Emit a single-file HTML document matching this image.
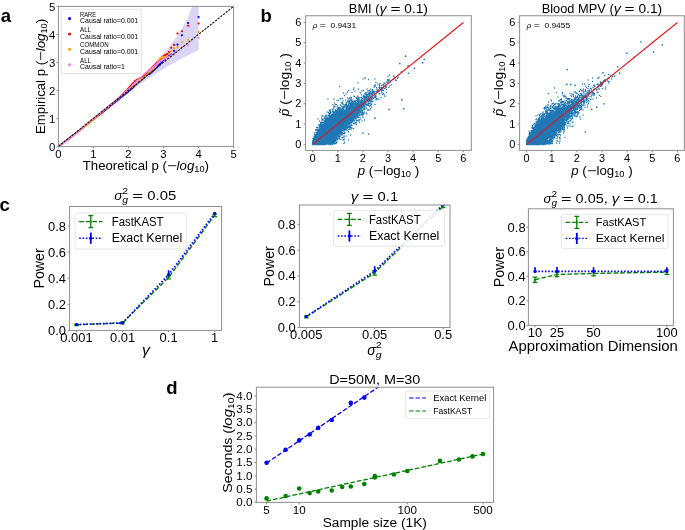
<!DOCTYPE html>
<html><head><meta charset="utf-8"><style>
html,body{margin:0;padding:0;background:#fff;}
svg{display:block;font-family:"Liberation Sans",sans-serif;filter:blur(0.3px);}
</style></head><body>
<svg width="685" height="530" viewBox="0 0 685 530">
<rect width="685" height="530" fill="#fff"/>
<text x="0.8" y="22" font-size="18.5" font-weight="bold">a</text><text x="260.6" y="21.6" font-size="18.5" font-weight="bold">b</text><text x="-0.6" y="211" font-size="18.5" font-weight="bold">c</text><text x="166.2" y="394" font-size="18.5" font-weight="bold">d</text><clipPath id="ca"><rect x="58.4" y="6.4" width="175.2" height="140"/></clipPath><g clip-path="url(#ca)"><path d="M198.56,-10.3 188.01,17.16 181.84,28.56 177.46,35.45 174.07,40.29 171.29,44 168.95,46.98 166.92,49.47 165.12,51.61 163.52,53.47 162.07,55.11 160.75,56.59 159.53,57.93 158.4,59.15 157.35,60.28 156.37,61.32 155.45,62.29 154.58,63.19 153.75,64.04 152.97,64.84 152.23,65.59 151.52,66.31 150.85,66.99 150.2,67.64 149.58,68.26 148.98,68.85 148.41,69.41 147.85,69.96 147.32,70.48 146.8,70.98 146.3,71.46 145.82,71.93 145.35,72.38 144.9,72.82 144.46,73.24 144.03,73.65 143.61,74.05 143.2,74.44 142.81,74.81 142.42,75.17 142.05,75.53 141.68,75.87 141.32,76.21 140.97,76.54 140.63,76.86 140.3,77.17 139.97,77.48 139.65,77.78 139.34,78.07 139.03,78.35 138.73,78.63 138.43,78.91 138.14,79.17 137.86,79.44 137.58,79.69 137.3,79.95 137.03,80.19 136.77,80.44 136.51,80.67 136.25,80.91 136,81.14 135.75,81.36 135.51,81.59 135.27,81.81 135.04,82.02 134.8,82.23 134.57,82.44 134.35,82.64 134.13,82.84 133.91,83.04 133.69,83.24 133.48,83.43 133.27,83.62 133.06,83.81 132.86,83.99 132.66,84.17 132.46,84.35 132.26,84.53 132.07,84.7 131.88,84.87 131.69,85.04 131.5,85.21 131.32,85.38 131.13,85.54 130.95,85.7 130.78,85.86 130.6,86.02 130.43,86.17 130.25,86.33 130.08,86.48 129.92,86.63 129.75,86.78 129.58,86.92 129.42,87.07 129.26,87.21 129.1,87.35 128.94,87.49 128.79,87.63 128.63,87.77 128.48,87.9 128.33,88.04 128.18,88.17 128.03,88.3 127.88,88.43 127.74,88.56 127.59,88.69 127.45,88.81 127.31,88.94 127.17,89.06 127.03,89.18 126.89,89.31 126.76,89.43 126.62,89.55 126.49,89.66 126.35,89.78 126.22,89.9 126.09,90.01 125.96,90.13 125.83,90.24 125.71,90.35 125.58,90.46 125.45,90.57 125.33,90.68 125.21,90.79 125.08,90.89 124.96,91 124.84,91.11 124.72,91.21 124.6,91.31 124.49,91.42 124.37,91.52 124.26,91.62 124.14,91.72 124.03,91.82 123.91,91.92 123.8,92.02 123.69,92.11 123.58,92.21 123.47,92.31 123.36,92.4 123.25,92.5 123.14,92.59 123.04,92.68 122.93,92.78 122.83,92.87 122.72,92.96 122.62,93.05 122.51,93.14 122.41,93.23 122.31,93.32 122.21,93.4 122.11,93.49 122.01,93.58 121.91,93.66 121.81,93.75 121.71,93.83 121.62,93.92 121.52,94 121.42,94.09 121.33,94.17 121.23,94.25 121.14,94.33 121.04,94.41 120.95,94.49 120.86,94.57 120.77,94.65 120.68,94.73 120.59,94.81 120.49,94.89 120.41,94.97 120.32,95.04 120.23,95.12 120.14,95.2 120.05,95.27 119.96,95.35 119.88,95.42 119.79,95.5 119.71,95.57 119.62,95.64 119.54,95.72 119.45,95.79 119.37,95.86 119.28,95.93 119.2,96.01 119.12,96.08 119.04,96.15 118.95,96.22 118.87,96.29 118.79,96.36 118.71,96.43 118.63,96.5 118.55,96.56 118.47,96.63 118.4,96.7 118.32,96.77 118.24,96.83 118.16,96.9 118.08,96.97 118.01,97.03 117.93,97.1 117.86,97.16 117.63,97.36 117.26,97.67 116.97,97.92 116.69,98.16 116.41,98.4 116.07,98.69 115.81,98.92 115.48,99.2 115.22,99.42 114.91,99.69 114.6,99.95 114.29,100.21 114,100.46 113.71,100.71 113.42,100.95 113.14,101.19 112.81,101.47 112.54,101.7 112.23,101.97 111.91,102.23 111.61,102.49 111.31,102.74 111.02,102.99 110.73,103.23 110.45,103.47 110.13,103.75 109.81,104.01 109.55,104.24 109.24,104.49 108.94,104.74 108.65,104.99 108.33,105.27 108.04,105.5 107.73,105.77 107.46,105.99 107.16,106.25 106.86,106.5 106.53,106.77 106.25,107.01 105.93,107.28 105.66,107.51 105.36,107.76 105.06,108.01 104.77,108.25 104.45,108.52 104.14,108.78 103.87,109.01 103.57,109.26 103.25,109.53 102.96,109.77 102.65,110.03 102.37,110.26 102.07,110.51 101.76,110.77 101.47,111.01 101.16,111.27 100.86,111.52 100.57,111.76 100.28,112 99.97,112.26 99.67,112.51 99.38,112.75 99.06,113.01 98.78,113.25 98.48,113.5 98.19,113.74 97.88,114 97.58,114.25 97.28,114.49 96.99,114.74 96.68,114.99 96.39,115.23 96.09,115.48 95.79,115.73 95.49,115.98 95.2,116.22 94.89,116.47 94.59,116.72 94.28,116.97 94,117.21 93.7,117.46 93.39,117.71 93.09,117.96 92.8,118.2 92.5,118.45 92.2,118.7 91.89,118.95 91.59,119.2 91.3,119.44 91,119.69 90.7,119.93 90.4,120.18 90.11,120.42 89.8,120.67 89.51,120.92 89.2,121.16 88.91,121.41 88.6,121.66 88.31,121.9 88.01,122.15 87.71,122.39 87.41,122.64 87.12,122.88 86.82,123.12 86.52,123.37 86.22,123.62 85.92,123.86 85.62,124.11 85.32,124.35 85.02,124.6 84.73,124.84 84.42,125.09 84.13,125.33 83.83,125.58 83.53,125.82 83.23,126.07 82.93,126.31 82.63,126.56 82.33,126.8 82.03,127.05 81.73,127.29 81.43,127.54 81.13,127.78 80.83,128.03 80.54,128.27 80.24,128.52 79.93,128.77 79.64,129.01 79.34,129.25 79.04,129.5 78.74,129.74 78.44,129.98 78.14,130.23 77.84,130.47 77.55,130.72 77.24,130.96 76.95,131.21 76.65,131.45 76.35,131.7 76.05,131.94 75.75,132.18 75.45,132.43 75.15,132.67 74.85,132.92 74.56,133.16 74.25,133.4 73.96,133.65 73.65,133.89 73.36,134.13 73.06,134.38 72.76,134.62 72.46,134.87 72.16,135.11 71.86,135.36 71.56,135.6 71.26,135.84 70.96,136.09 70.66,136.33 70.37,136.57 70.07,136.82 69.77,137.06 69.47,137.31 69.17,137.55 68.87,137.79 68.57,138.04 68.27,138.28 67.97,138.52 67.67,138.77 67.37,139.01 67.07,139.26 66.78,139.5 66.48,139.74 66.18,139.99 65.88,140.23 65.58,140.48 65.28,140.72 64.98,140.96 64.68,141.21 64.38,141.45 64.08,141.69 63.78,141.94 63.49,142.18 63.19,142.43 62.89,142.67 62.59,142.92 62.29,143.16 61.99,143.4 61.69,143.65 61.39,143.9 61.09,144.14 60.79,144.39 60.49,144.63 60.2,144.88 59.9,145.12 59.6,145.37 59.3,145.62 59,145.87 58.7,146.12 58.4,146.4 58.4,146.4 58.7,146.19 59,145.97 59.3,145.74 59.6,145.51 59.9,145.28 60.2,145.05 60.49,144.82 60.79,144.58 61.09,144.35 61.39,144.12 61.69,143.88 61.99,143.65 62.29,143.42 62.59,143.18 62.89,142.95 63.19,142.72 63.49,142.48 63.78,142.25 64.08,142.02 64.38,141.78 64.68,141.55 64.98,141.31 65.28,141.08 65.58,140.85 65.88,140.61 66.18,140.38 66.48,140.14 66.78,139.91 67.07,139.67 67.37,139.44 67.67,139.21 67.97,138.97 68.27,138.74 68.57,138.5 68.87,138.27 69.17,138.03 69.47,137.8 69.77,137.56 70.07,137.33 70.37,137.09 70.66,136.86 70.96,136.63 71.26,136.39 71.56,136.16 71.86,135.92 72.16,135.69 72.46,135.46 72.76,135.22 73.06,134.99 73.36,134.75 73.65,134.52 73.96,134.28 74.25,134.05 74.56,133.81 74.85,133.58 75.15,133.35 75.45,133.11 75.75,132.88 76.05,132.65 76.35,132.41 76.65,132.18 76.95,131.94 77.24,131.71 77.55,131.47 77.84,131.24 78.14,131.01 78.44,130.77 78.74,130.54 79.04,130.31 79.34,130.07 79.64,129.84 79.93,129.61 80.24,129.37 80.54,129.14 80.83,128.91 81.13,128.67 81.43,128.44 81.73,128.2 82.03,127.97 82.33,127.74 82.63,127.5 82.93,127.27 83.23,127.03 83.53,126.8 83.83,126.57 84.13,126.34 84.42,126.11 84.73,125.87 85.02,125.64 85.32,125.41 85.62,125.17 85.92,124.94 86.22,124.7 86.52,124.47 86.82,124.24 87.12,124.01 87.41,123.78 87.71,123.54 88.01,123.32 88.31,123.08 88.6,122.85 88.91,122.62 89.2,122.39 89.51,122.15 89.8,121.92 90.11,121.69 90.4,121.46 90.7,121.22 91,120.99 91.3,120.76 91.59,120.53 91.89,120.3 92.2,120.06 92.5,119.83 92.8,119.6 93.09,119.37 93.39,119.14 93.7,118.9 94,118.67 94.28,118.45 94.59,118.21 94.89,117.98 95.2,117.74 95.49,117.52 95.79,117.29 96.09,117.05 96.39,116.83 96.68,116.6 96.99,116.36 97.28,116.14 97.58,115.91 97.88,115.68 98.19,115.44 98.48,115.21 98.78,114.98 99.06,114.76 99.38,114.52 99.67,114.3 99.97,114.06 100.28,113.83 100.57,113.61 100.86,113.38 101.16,113.15 101.47,112.91 101.76,112.7 102.07,112.45 102.37,112.22 102.65,112.01 102.96,111.77 103.25,111.55 103.57,111.31 103.87,111.08 104.14,110.87 104.45,110.63 104.77,110.39 105.06,110.17 105.36,109.94 105.66,109.71 105.93,109.5 106.25,109.26 106.53,109.04 106.86,108.79 107.16,108.57 107.46,108.34 107.73,108.13 108.04,107.89 108.33,107.68 108.65,107.43 108.94,107.21 109.24,106.98 109.55,106.75 109.81,106.55 110.13,106.31 110.45,106.07 110.73,105.85 111.02,105.64 111.31,105.42 111.61,105.19 111.91,104.96 112.23,104.72 112.54,104.49 112.81,104.28 113.14,104.03 113.42,103.82 113.71,103.61 114,103.39 114.29,103.17 114.6,102.94 114.91,102.71 115.22,102.47 115.48,102.28 115.81,102.03 116.07,101.83 116.41,101.58 116.69,101.37 116.97,101.16 117.26,100.94 117.63,100.66 117.86,100.5 117.93,100.44 118.01,100.38 118.08,100.32 118.16,100.27 118.24,100.21 118.32,100.15 118.4,100.09 118.47,100.03 118.55,99.98 118.63,99.92 118.71,99.86 118.79,99.8 118.87,99.74 118.95,99.68 119.04,99.62 119.12,99.55 119.2,99.49 119.28,99.43 119.37,99.37 119.45,99.31 119.54,99.24 119.62,99.18 119.71,99.12 119.79,99.05 119.88,98.99 119.96,98.92 120.05,98.86 120.14,98.79 120.23,98.73 120.32,98.66 120.41,98.6 120.49,98.53 120.59,98.46 120.68,98.4 120.77,98.33 120.86,98.26 120.95,98.19 121.04,98.12 121.14,98.05 121.23,97.98 121.33,97.91 121.42,97.84 121.52,97.77 121.62,97.7 121.71,97.63 121.81,97.55 121.91,97.48 122.01,97.41 122.11,97.33 122.21,97.26 122.31,97.18 122.41,97.11 122.51,97.03 122.62,96.96 122.72,96.88 122.83,96.8 122.93,96.73 123.04,96.65 123.14,96.57 123.25,96.49 123.36,96.41 123.47,96.33 123.58,96.25 123.69,96.17 123.8,96.08 123.91,96 124.03,95.92 124.14,95.83 124.26,95.75 124.37,95.66 124.49,95.58 124.6,95.49 124.72,95.41 124.84,95.32 124.96,95.23 125.08,95.14 125.21,95.05 125.33,94.96 125.45,94.87 125.58,94.78 125.71,94.68 125.83,94.59 125.96,94.5 126.09,94.4 126.22,94.31 126.35,94.21 126.49,94.11 126.62,94.01 126.76,93.92 126.89,93.82 127.03,93.71 127.17,93.61 127.31,93.51 127.45,93.41 127.59,93.3 127.74,93.2 127.88,93.09 128.03,92.98 128.18,92.88 128.33,92.77 128.48,92.66 128.63,92.55 128.79,92.43 128.94,92.32 129.1,92.21 129.26,92.09 129.42,91.97 129.58,91.86 129.75,91.74 129.92,91.62 130.08,91.49 130.25,91.37 130.43,91.25 130.6,91.12 130.78,90.99 130.95,90.86 131.13,90.73 131.32,90.6 131.5,90.47 131.69,90.34 131.88,90.2 132.07,90.06 132.26,89.92 132.46,89.78 132.66,89.64 132.86,89.49 133.06,89.35 133.27,89.2 133.48,89.05 133.69,88.9 133.91,88.74 134.13,88.58 134.35,88.43 134.57,88.26 134.8,88.1 135.04,87.94 135.27,87.77 135.51,87.6 135.75,87.42 136,87.25 136.25,87.07 136.51,86.89 136.77,86.7 137.03,86.52 137.3,86.33 137.58,86.13 137.86,85.94 138.14,85.73 138.43,85.53 138.73,85.32 139.03,85.11 139.34,84.9 139.65,84.68 139.97,84.45 140.3,84.22 140.63,83.99 140.97,83.75 141.32,83.51 141.68,83.26 142.05,83 142.42,82.74 142.81,82.48 143.2,82.2 143.61,81.92 144.03,81.64 144.46,81.34 144.9,81.04 145.35,80.73 145.82,80.41 146.3,80.08 146.8,79.74 147.32,79.39 147.85,79.03 148.41,78.66 148.98,78.27 149.58,77.87 150.2,77.46 150.85,77.02 151.52,76.58 152.23,76.11 152.97,75.62 153.75,75.11 154.58,74.57 155.45,74.01 156.37,73.41 157.35,72.78 158.4,72.11 159.53,71.39 160.75,70.63 162.07,69.8 163.52,68.91 165.12,67.93 166.92,66.85 168.95,65.64 171.29,64.27 174.07,62.69 177.46,60.8 181.84,58.44 188.01,55.28 198.56,50.27Z" fill="#dcd4f6" stroke="none"/><path d="M58.5 146.25h0M58.5 146.5h0M58.75 146h0M58.75 146.25h0M59 145.75h0M59 146h0M59.25 145.75h0M59.5 145.5h0M59.5 145.75h0M59.75 145.25h0M59.75 145.5h0M60 145h0M60 145.25h0M60.25 145h0M60.5 144.75h0M60.5 145h0M60.75 144.5h0M60.75 144.75h0M61 144.25h0M61 144.5h0M61.25 144h0M61.25 144.25h0M61.5 144h0M61.75 143.75h0M61.75 144h0M62 143.5h0M62 143.75h0M62.25 143.25h0M62.25 143.5h0M62.5 143.25h0M62.75 143h0M62.75 143.25h0M63 142.75h0M63 143h0M63.25 142.5h0M63.25 142.75h0M63.5 142.5h0M63.75 142.25h0M63.75 142.5h0M64 142h0M64 142.25h0M64.25 141.75h0M64.25 142h0M64.5 141.75h0M64.75 141.5h0M65 141.25h0M65 141.5h0M65.25 141h0M65.25 141.25h0M65.5 140.75h0M65.5 141h0M65.75 140.75h0M66 140.5h0M66 140.75h0M66.25 140.25h0M66.25 140.5h0M66.5 140h0M66.5 140.25h0M66.75 140h0M67 139.75h0M67 140h0M67.25 139.5h0M67.25 139.75h0M67.5 139.25h0M67.5 139.5h0M67.75 139.25h0M68 139h0M68 139.25h0M68.25 138.75h0M68.25 139h0M68.5 138.5h0M68.5 138.75h0M68.75 138.25h0M68.75 138.5h0M69 138.25h0M69.25 138h0M69.25 138.25h0M69.5 137.75h0M69.5 138h0M69.75 137.5h0M69.75 137.75h0M70 137.5h0M70.25 137.25h0M70.25 137.5h0M70.5 137h0M70.5 137.25h0M70.75 136.75h0M70.75 137h0M71 136.75h0M71.25 136.5h0M71.25 136.75h0M71.5 136.25h0M71.5 136.5h0M71.75 136h0M71.75 136.25h0M72 135.75h0M72 136h0M72.25 135.75h0M72.5 135.5h0M72.5 135.75h0M72.75 135.25h0M72.75 135.5h0M73 135h0M73 135.25h0M73.25 135h0M73.5 134.75h0M73.5 135h0M73.75 134.5h0M73.75 134.75h0M74 134.25h0M74 134.5h0M74.25 134.25h0M74.5 134h0M74.5 134.25h0M74.75 133.75h0M74.75 134h0M75 133.5h0M75 133.75h0M75.25 133.5h0M75.5 133.25h0M75.5 133.5h0M75.75 133h0M75.75 133.25h0M76 132.75h0M76 133h0M76.25 132.5h0M76.25 132.75h0M76.5 132.5h0M76.75 132.25h0M76.75 132.5h0M77 132h0M77 132.25h0M77.25 131.75h0M77.25 132h0M77.5 131.75h0M77.75 131.5h0M78 131.25h0M78 131.5h0M78.25 131h0M78.25 131.25h0M78.5 130.75h0M78.5 131h0M78.75 130.75h0M79 130.5h0M79 130.75h0M79.25 130.25h0M79.25 130.5h0M79.5 130h0M79.5 130.25h0M79.75 129.75h0M79.75 130h0M80 129.75h0M80.25 129.5h0M80.25 129.75h0M80.5 129.25h0M80.5 129.5h0M80.75 129h0M80.75 129.25h0M81 129h0M81.25 128.75h0M81.25 129h0M81.5 128.5h0M81.5 128.75h0M81.75 128.25h0M81.75 128.5h0M82 128h0M82 128.25h0M82.25 128h0M82.5 127.75h0M82.5 128h0M82.75 127.5h0M82.75 127.75h0M83 127.25h0M83 127.5h0M83.25 127h0M83.25 127.25h0M83.5 127h0M83.75 126.75h0M83.75 127h0M84 126.5h0M84 126.75h0M84.25 126.25h0M84.25 126.5h0M84.5 126.25h0M84.75 126h0M84.75 126.25h0M85 125.75h0M85 126h0M85.25 125.5h0M85.25 125.75h0M85.5 125.25h0M85.5 125.5h0M85.75 125.25h0M86 125h0M86 125.25h0M86.25 124.75h0M86.25 125h0M86.5 124.5h0M86.5 124.75h0M86.75 124.5h0M87 124.25h0M87 124.5h0M87.25 124h0M87.25 124.25h0M87.5 123.75h0M87.5 124h0M87.75 123.5h0M87.75 123.75h0M88 123.5h0M88.25 123.25h0M88.25 123.5h0M88.5 123h0M88.5 123.25h0M88.75 122.75h0M88.75 123h0M89 122.5h0M89 122.75h0M89.25 122.5h0M89.5 122.25h0M89.5 122.5h0M89.75 122h0M89.75 122.25h0M90 121.75h0M90 122h0M90.25 121.75h0M90.5 121.5h0M90.5 121.75h0M90.75 121.25h0M90.75 121.5h0M91 121h0M91 121.25h0M91.25 120.75h0M91.25 121h0M91.5 120.75h0M91.75 120.5h0M91.75 120.75h0M92 120.25h0M92 120.5h0M92.25 120h0M92.25 120.25h0M92.5 120h0M92.75 119.75h0M92.75 120h0M93 119.5h0M93 119.75h0M93.25 119.25h0M93.25 119.5h0M93.5 119h0M93.5 119.25h0M93.75 119h0M94 118.75h0M94 119h0M94.25 118.5h0M94.25 118.75h0M94.5 118.5h0M94.75 118.25h0M94.75 118.5h0M95 118h0M95 118.25h0M95.25 117.75h0M95.25 118h0M95.5 117.75h0M95.75 117.5h0M95.75 117.75h0M96 117.25h0M96 117.5h0M96.25 117.25h0M96.5 117h0M96.75 116.75h0M96.75 117h0M97 116.5h0M97 116.75h0M97.25 116.5h0M97.5 116.25h0M97.5 116.5h0M97.75 116h0M97.75 116.25h0M98 116h0M98.25 115.75h0M98.5 115.5h0M98.5 115.75h0M98.75 115.25h0M98.75 115.5h0M99 115.25h0M99.25 115h0M99.25 115.25h0M99.5 114.75h0M99.5 115h0M99.75 114.75h0M100 114.5h0M100.25 114.25h0M100.25 114.5h0M100.5 114h0M100.5 114.25h0M100.75 113.75h0M100.75 114h0M101 113.75h0M101.25 113.5h0M101.25 113.75h0M101.5 113.25h0M101.5 113.5h0M101.75 113h0M101.75 113.25h0M102 112.75h0M102 113h0M102.25 112.75h0M102.5 112.5h0M102.75 112.25h0M102.75 112.5h0M103 112h0M103 112.25h0M103.25 111.75h0M103.25 112h0M103.5 111.75h0M103.75 111.5h0M104 111.25h0M104 111.5h0M104.25 111h0M104.25 111.25h0M104.5 110.75h0M104.5 111h0M104.75 110.5h0M104.75 110.75h0M105 110.5h0M105.25 110.25h0M105.25 110.5h0M105.5 110h0M105.5 110.25h0M105.75 109.75h0M105.75 110h0M106 109.5h0M106 109.75h0M106.25 109.5h0M106.5 109.25h0M106.5 109.5h0M106.75 109h0M106.75 109.25h0M107 108.75h0M107 109h0M107.25 108.5h0M107.25 108.75h0M107.5 108.5h0M107.75 108.25h0M108 108h0M108 108.25h0M108.25 107.75h0M108.25 108h0M108.5 107.5h0M108.5 107.75h0M108.75 107.5h0M109 107.25h0M109.25 107h0M109.25 107.25h0M109.5 106.75h0M109.5 107h0M109.75 106.5h0M109.75 106.75h0M110 106.5h0M110.25 106.25h0M110.5 106h0M110.5 106.25h0M110.75 105.75h0M110.75 106h0M111 105.5h0M111 105.75h0M111.25 105.25h0M111.25 105.5h0M111.5 105.25h0M111.75 105h0M112 104.75h0M112 105h0M112.25 104.5h0M112.25 104.75h0M112.5 104.25h0M112.5 104.5h0M112.75 104.25h0M113 104h0M113.25 103.75h0M113.25 104h0M113.5 103.5h0M113.5 103.75h0M113.75 103.25h0M113.75 103.5h0M114 103h0M114 103.25h0M114.25 103h0M114.5 102.75h0M114.5 103h0M114.75 102.5h0M114.75 102.75h0M115 102.25h0M115 102.5h0M115.25 102h0M115.25 102.25h0M115.5 102h0M115.75 101.75h0M116 101.5h0M116 101.75h0M116.25 101.25h0M116.25 101.5h0M116.5 101h0M116.5 101.25h0M116.75 101h0M117 100.75h0M117 101h0M117.25 100.5h0M117.25 100.75h0M117.5 100.5h0M117.75 100.25h0M118 100h0M118.25 99.75h0M118.25 100h0M118.5 99.5h0M118.5 99.75h0M118.75 99.25h0M118.75 99.5h0M119 99h0M119 99.25h0M119.25 99h0M119.5 98.75h0M119.75 98.5h0M119.75 98.75h0M120 98.5h0M120.25 98.25h0M120.5 98h0M120.75 97.75h0M121 97.5h0M121.25 97.25h0M121.25 97.5h0M121.5 97h0M121.5 97.25h0M121.75 97h0M122 96.75h0M122.25 96.5h0M122.5 96.25h0M122.5 96.5h0M122.75 96h0M122.75 96.25h0M123 96h0M123.25 95.75h0M123.5 95.5h0M123.75 95.25h0M123.75 95.5h0M124 95.25h0M124.25 94.75h0M124.25 95h0M124.5 94.75h0M124.75 94.5h0M125 94.25h0M125 94.5h0M125.25 94.25h0M125.5 94h0M125.75 93.75h0M126 93.5h0M126 93.75h0M126.25 93.25h0M126.25 93.5h0M126.5 93.25h0M126.75 93h0M127 93h0M127.25 92.75h0M127.5 92.5h0M127.75 92.25h0M128 92h0M128 92.25h0M128.25 91.75h0M128.25 92h0M128.5 91.75h0M128.75 91.5h0M129 91.25h0M129.25 91h0M129.5 90.75h0M129.75 90.5h0M130 90.25h0M130 90.5h0M130.25 90.25h0M130.5 90h0M130.75 89.75h0M131 89.5h0M131.25 89.25h0M131.5 89h0M131.75 89h0M132 88.5h0M132 88.75h0M132.25 88.25h0M132.5 88.25h0M132.75 87.75h0M132.75 88h0M133 87.5h0M133.25 87.5h0M133.5 87.25h0M133.75 87h0M134 86.75h0M134.25 86.5h0M134.5 86.25h0M134.75 86h0M135 85.75h0M135.25 85.5h0M135.5 85.25h0M135.75 85.25h0M136 85h0M136.25 84.75h0M136.5 84.25h0M136.75 84h0M137 84h0M137.25 83.5h0M137.5 83.25h0M137.75 83h0M138.25 82.75h0M138.5 82.5h0M138.75 82.25h0M139 82h0M139.25 81.75h0M139.75 81.75h0M140 81.5h0M140.25 81h0M140.75 80.75h0M141 80.5h0M141.25 80.25h0M141.75 80h0M142 79.75h0M142.5 79.5h0M142.75 79h0M143.25 78.75h0M143.5 78.5h0M144 78h0M144.5 77.75h0M145 77.25h0M145.25 76.5h0M145.75 76.25h0M146.25 75.75h0M146.75 75.25h0M147.25 74.75h0M147.75 74.25h0M148.5 74.25h0M149 74.25h0M149.5 73.75h0M150.25 73.25h0M150.75 72.75h0M151.5 72h0M152.25 71.5h0M153 70.75h0M153.75 70h0M154.5 69.25h0M155.5 68.5h0M156.25 67.5h0M157.25 66.5h0M158.5 65.5h0M159.5 64.25h0M160.75 63h0M162 61.75h0M163.5 60.25h0M165 59h0M167 57.5h0M169 55.75h0M171.25 54.5h0M174 50.75h0M177.5 44.5h0M181.75 35.25h0M188 23h0M198.5 17h0" stroke="#0000ff" stroke-width="1.35" stroke-linecap="round" fill="none"/><path d="M198.56 17.04h0M188.01 22.99h0M181.84 35.32h0M177.46 44.61h0M174.07 50.85h0M171.29 54.48h0M168.95 55.86h0M166.92 57.45h0M165.12 58.88h0M163.52 60.16h0M162.07 61.67h0M160.75 63.04h0M159.53 64.31h0M158.4 65.48h0M157.35 66.57h0M156.37 67.57h0M155.45 68.42h0M154.58 69.22h0M153.75 69.98h0M152.97 70.69h0M152.23 71.38h0M151.52 72.03h0M150.85 72.65h0M150.2 73.24h0M149.58 73.81h0" stroke="#0000ff" stroke-width="2.2" stroke-linecap="round" fill="none"/><path d="M58.5 146.25h0M58.5 146.5h0M58.75 146h0M58.75 146.25h0M59 145.75h0M59 146h0M59.25 145.75h0M59.5 145.5h0M59.5 145.75h0M59.75 145.25h0M59.75 145.5h0M60 145.25h0M60.25 145h0M60.25 145.25h0M60.5 144.75h0M60.5 145h0M60.75 144.5h0M60.75 144.75h0M61 144.5h0M61.25 144.25h0M61.25 144.5h0M61.5 144h0M61.5 144.25h0M61.75 143.75h0M61.75 144h0M62 143.75h0M62.25 143.5h0M62.25 143.75h0M62.5 143.25h0M62.5 143.5h0M62.75 143.25h0M63 143h0M63 143.25h0M63.25 142.75h0M63.25 143h0M63.5 142.5h0M63.5 142.75h0M63.75 142.5h0M64 142.25h0M64 142.5h0M64.25 142h0M64.25 142.25h0M64.5 141.75h0M64.5 142h0M64.75 141.75h0M65 141.5h0M65 141.75h0M65.25 141.25h0M65.25 141.5h0M65.5 141.25h0M65.75 141h0M65.75 141.25h0M66 140.75h0M66 141h0M66.25 140.5h0M66.25 140.75h0M66.5 140.5h0M66.75 140.25h0M66.75 140.5h0M67 140h0M67 140.25h0M67.25 139.75h0M67.25 140h0M67.5 139.75h0M67.75 139.5h0M67.75 139.75h0M68 139.25h0M68 139.5h0M68.25 139.25h0M68.5 139h0M68.5 139.25h0M68.75 138.75h0M68.75 139h0M69 138.5h0M69 138.75h0M69.25 138.5h0M69.5 138.25h0M69.5 138.5h0M69.75 138h0M69.75 138.25h0M70 137.75h0M70 138h0M70.25 137.75h0M70.5 137.5h0M70.5 137.75h0M70.75 137.25h0M70.75 137.5h0M71 137.25h0M71.25 137h0M71.25 137.25h0M71.5 136.75h0M71.5 137h0M71.75 136.5h0M71.75 136.75h0M72 136.5h0M72.25 136.25h0M72.25 136.5h0M72.5 136h0M72.5 136.25h0M72.75 135.75h0M72.75 136h0M73 135.75h0M73.25 135.5h0M73.25 135.75h0M73.5 135.25h0M73.5 135.5h0M73.75 135.25h0M74 135h0M74 135.25h0M74.25 134.75h0M74.25 135h0M74.5 134.5h0M74.5 134.75h0M74.75 134.5h0M75 134.25h0M75 134.5h0M75.25 134h0M75.25 134.25h0M75.5 134h0M75.75 133.75h0M76 133.5h0M76 133.75h0M76.25 133.25h0M76.25 133.5h0M76.5 133h0M76.5 133.25h0M76.75 133h0M77 132.75h0M77 133h0M77.25 132.5h0M77.25 132.75h0M77.5 132.25h0M77.5 132.5h0M77.75 132h0M77.75 132.25h0M78 132h0M78.25 131.75h0M78.25 132h0M78.5 131.5h0M78.5 131.75h0M78.75 131.25h0M78.75 131.5h0M79 131h0M79 131.25h0M79.25 130.75h0M79.25 131h0M79.5 130.75h0M79.75 130.5h0M79.75 130.75h0M80 130.25h0M80 130.5h0M80.25 130h0M80.25 130.25h0M80.5 129.75h0M80.5 130h0M80.75 129.75h0M81 129.5h0M81 129.75h0M81.25 129.25h0M81.25 129.5h0M81.5 129h0M81.5 129.25h0M81.75 128.75h0M81.75 129h0M82 128.75h0M82.25 128.5h0M82.25 128.75h0M82.5 128.25h0M82.5 128.5h0M82.75 128h0M82.75 128.25h0M83 127.75h0M83 128h0M83.25 127.75h0M83.5 127.5h0M83.5 127.75h0M83.75 127.25h0M83.75 127.5h0M84 127h0M84 127.25h0M84.25 126.75h0M84.25 127h0M84.5 126.75h0M84.75 126.5h0M84.75 126.75h0M85 126.25h0M85 126.5h0M85.25 126h0M85.25 126.25h0M85.5 125.75h0M85.5 126h0M85.75 125.75h0M86 125.5h0M86.25 125.25h0M86.25 125.5h0M86.5 125h0M86.5 125.25h0M86.75 124.75h0M86.75 125h0M87 124.5h0M87 124.75h0M87.25 124.5h0M87.5 124.25h0M87.5 124.5h0M87.75 124h0M87.75 124.25h0M88 123.75h0M88 124h0M88.25 123.5h0M88.25 123.75h0M88.5 123.5h0M88.75 123.25h0M88.75 123.5h0M89 123h0M89 123.25h0M89.25 122.75h0M89.25 123h0M89.5 122.5h0M89.5 122.75h0M89.75 122.5h0M90 122.25h0M90 122.5h0M90.25 122h0M90.25 122.25h0M90.5 121.75h0M90.5 122h0M90.75 121.5h0M90.75 121.75h0M91 121.5h0M91.25 121.25h0M91.25 121.5h0M91.5 121h0M91.5 121.25h0M91.75 120.75h0M91.75 121h0M92 120.5h0M92 120.75h0M92.25 120.5h0M92.5 120.25h0M92.75 120h0M92.75 120.25h0M93 119.75h0M93 120h0M93.25 119.5h0M93.25 119.75h0M93.5 119.25h0M93.5 119.5h0M93.75 119.25h0M94 119h0M94 119.25h0M94.25 118.75h0M94.25 119h0M94.5 118.5h0M94.5 118.75h0M94.75 118.25h0M94.75 118.5h0M95 118.25h0M95.25 118h0M95.5 117.75h0M95.5 118h0M95.75 117.5h0M95.75 117.75h0M96 117.25h0M96 117.5h0M96.25 117h0M96.25 117.25h0M96.5 117h0M96.75 116.75h0M97 116.5h0M97 116.75h0M97.25 116.25h0M97.25 116.5h0M97.5 116h0M97.5 116.25h0M97.75 115.75h0M97.75 116h0M98 115.75h0M98.25 115.5h0M98.25 115.75h0M98.5 115.25h0M98.5 115.5h0M98.75 115h0M98.75 115.25h0M99 114.75h0M99 115h0M99.25 114.5h0M99.25 114.75h0M99.5 114.5h0M99.75 114.25h0M99.75 114.5h0M100 114h0M100 114.25h0M100.25 113.75h0M100.25 114h0M100.5 113.5h0M100.5 113.75h0M100.75 113.25h0M100.75 113.5h0M101 113.25h0M101.25 113h0M101.25 113.25h0M101.5 112.75h0M101.5 113h0M101.75 112.5h0M101.75 112.75h0M102 112.25h0M102 112.5h0M102.25 112h0M102.25 112.25h0M102.5 112h0M102.75 111.75h0M102.75 112h0M103 111.5h0M103 111.75h0M103.25 111.25h0M103.25 111.5h0M103.5 111h0M103.5 111.25h0M103.75 110.75h0M103.75 111h0M104 110.75h0M104.25 110.5h0M104.25 110.75h0M104.5 110.25h0M104.5 110.5h0M104.75 110h0M104.75 110.25h0M105 109.75h0M105 110h0M105.25 109.75h0M105.5 109.5h0M105.75 109.25h0M105.75 109.5h0M106 109h0M106 109.25h0M106.25 108.75h0M106.25 109h0M106.5 108.5h0M106.5 108.75h0M106.75 108.25h0M106.75 108.5h0M107 108.25h0M107.25 108h0M107.5 107.75h0M107.5 108h0M107.75 107.5h0M107.75 107.75h0M108 107.25h0M108 107.5h0M108.25 107h0M108.25 107.25h0M108.5 107h0M108.75 106.75h0M109 106.5h0M109 106.75h0M109.25 106.25h0M109.25 106.5h0M109.5 106h0M109.5 106.25h0M109.75 106h0M110 105.75h0M110.25 105.5h0M110.25 105.75h0M110.5 105.25h0M110.5 105.5h0M110.75 105h0M110.75 105.25h0M111 104.75h0M111 105h0M111.25 104.5h0M111.25 104.75h0M111.5 104.25h0M111.5 104.5h0M111.75 104.25h0M112 104h0M112.25 103.75h0M112.5 103.5h0M112.5 103.75h0M112.75 103.25h0M112.75 103.5h0M113 103h0M113 103.25h0M113.25 102.75h0M113.25 103h0M113.5 102.5h0M113.5 102.75h0M113.75 102.25h0M113.75 102.5h0M114 102h0M114 102.25h0M114.25 102h0M114.5 101.75h0M114.75 101.5h0M115 101.25h0M115 101.5h0M115.25 101h0M115.25 101.25h0M115.5 100.75h0M115.5 101h0M115.75 100.5h0M115.75 100.75h0M116 100.25h0M116 100.5h0M116.25 100h0M116.25 100.25h0M116.5 99.75h0M116.5 100h0M116.75 99.5h0M116.75 99.75h0M117 99.25h0M117 99.5h0M117.25 99.25h0M117.5 99h0M117.75 98.75h0M117.75 99h0M118 98.5h0M118 98.75h0M118.25 98.25h0M118.25 98.5h0M118.5 98h0M118.5 98.25h0M118.75 97.75h0M118.75 98h0M119 97.5h0M119 97.75h0M119.25 97.25h0M119.25 97.5h0M119.5 97h0M119.5 97.25h0M119.75 97h0M120 96.75h0M120.25 96.5h0M120.5 96h0M120.5 96.25h0M120.75 95.75h0M120.75 96h0M121 95.5h0M121 95.75h0M121.25 95.25h0M121.25 95.5h0M121.5 95h0M121.5 95.25h0M121.75 95h0M122 94.5h0M122 94.75h0M122.25 94.5h0M122.5 94h0M122.5 94.25h0M122.75 94h0M123 93.75h0M123.25 93.25h0M123.25 93.5h0M123.5 93h0M123.5 93.25h0M123.75 93h0M124 92.75h0M124.25 92.25h0M124.25 92.5h0M124.5 92.25h0M124.75 91.75h0M124.75 92h0M125 91.5h0M125 91.75h0M125.25 91.25h0M125.25 91.5h0M125.5 91h0M125.5 91.25h0M125.75 91h0M126 90.75h0M126.25 90.5h0M126.5 90.25h0M126.75 90h0M127 89.75h0M127 90h0M127.25 89.25h0M127.25 89.5h0M127.5 89h0M127.5 89.25h0M127.75 88.75h0M128 88.5h0M128 88.75h0M128.25 88.25h0M128.5 88h0M128.75 87.75h0M129 87.25h0M129 87.5h0M129.25 87.25h0M129.5 86.75h0M129.5 87h0M129.75 86.5h0M130 86h0M130 86.25h0M130.25 86h0M130.5 85.5h0M130.5 85.75h0M130.75 85.25h0M131 85h0M131.25 84.75h0M131.25 85h0M131.5 84.5h0M131.75 84.25h0M132 83.75h0M132 84h0M132.25 83.75h0M132.5 83.5h0M132.75 83h0M132.75 83.25h0M133 83h0M133.25 82.75h0M133.5 82.5h0M133.75 82.25h0M134 82h0M134.25 81.5h0M134.25 81.75h0M134.5 81h0M134.75 81h0M135 80.75h0M135.25 80.5h0M135.5 80.5h0M135.75 80.25h0M136 80h0M136.25 80h0M136.5 79.75h0M136.75 79.5h0M137 79.5h0M137.25 79.25h0M137.5 79.25h0M137.75 79h0M138.25 78.75h0M138.5 78.75h0M138.75 78.5h0M139 78.5h0M139.25 78.25h0M139.75 78.25h0M140 78h0M140.25 78h0M140.75 77.75h0M141 77.75h0M141.25 77.5h0M141.75 77.25h0M142 77.25h0M142.5 77h0M142.75 76.75h0M143.25 76.25h0M143.5 75.75h0M144 75.5h0M144.5 75.25h0M145 74.75h0M145.25 74.25h0M145.75 74h0M146.25 73.25h0M146.75 72.75h0M147.25 72.25h0M147.75 71.75h0M148.5 71.25h0M149 70.75h0M149.5 70.25h0M150.25 69.5h0M150.75 69h0M151.5 68.25h0M152.25 67.75h0M153 67h0M153.75 66h0M154.5 65.25h0M155.5 64.25h0M156.25 63.5h0M157.25 62.25h0M158.5 61.25h0M159.5 60h0M160.75 59h0M162 57.75h0M163.5 56.25h0M165 55.25h0M167 54h0M169 52h0M171.25 47.75h0M174 45h0M177.5 33.5h0M181.75 31.25h0M188 25.75h0M198.5 23.5h0" stroke="#ff0000" stroke-width="1.35" stroke-linecap="round" fill="none"/><path d="M198.56 23.48h0M188.01 25.75h0M181.84 31.23h0M177.46 33.52h0M174.07 44.92h0M171.29 47.78h0M168.95 52.01h0M166.92 54.07h0M165.12 55.22h0M163.52 56.24h0M162.07 57.63h0M160.75 58.9h0M159.53 60.11h0M158.4 61.28h0M157.35 62.37h0M156.37 63.39h0M155.45 64.35h0M154.58 65.25h0M153.75 66.11h0M152.97 66.91h0M152.23 67.63h0M151.52 68.31h0M150.85 68.95h0M150.2 69.58h0M149.58 70.17h0" stroke="#ff0000" stroke-width="2.2" stroke-linecap="round" fill="none"/><path d="M58.5 146.25h0M58.5 146.5h0M58.75 146h0M58.75 146.25h0M59 145.75h0M59 146h0M59.25 145.75h0M59.5 145.5h0M59.5 145.75h0M59.75 145.25h0M59.75 145.5h0M60 145.25h0M60.25 145h0M60.25 145.25h0M60.5 144.75h0M60.5 145h0M60.75 144.5h0M60.75 144.75h0M61 144.5h0M61.25 144.25h0M61.25 144.5h0M61.5 144h0M61.5 144.25h0M61.75 143.75h0M61.75 144h0M62 143.75h0M62.25 143.5h0M62.25 143.75h0M62.5 143.25h0M62.5 143.5h0M62.75 143h0M62.75 143.25h0M63 143h0M63.25 142.75h0M63.25 143h0M63.5 142.5h0M63.5 142.75h0M63.75 142.5h0M64 142.25h0M64.25 142h0M64.25 142.25h0M64.5 141.75h0M64.5 142h0M64.75 141.75h0M65 141.5h0M65 141.75h0M65.25 141.25h0M65.25 141.5h0M65.5 141h0M65.5 141.25h0M65.75 141h0M66 140.75h0M66 141h0M66.25 140.5h0M66.25 140.75h0M66.5 140.25h0M66.5 140.5h0M66.75 140.25h0M67 140h0M67 140.25h0M67.25 139.75h0M67.25 140h0M67.5 139.5h0M67.5 139.75h0M67.75 139.5h0M68 139.25h0M68 139.5h0M68.25 139h0M68.25 139.25h0M68.5 139h0M68.75 138.75h0M68.75 139h0M69 138.5h0M69 138.75h0M69.25 138.25h0M69.25 138.5h0M69.5 138.25h0M69.75 138h0M69.75 138.25h0M70 137.75h0M70 138h0M70.25 137.5h0M70.25 137.75h0M70.5 137.5h0M70.75 137.25h0M70.75 137.5h0M71 137h0M71 137.25h0M71.25 136.75h0M71.25 137h0M71.5 136.75h0M71.75 136.5h0M71.75 136.75h0M72 136.25h0M72 136.5h0M72.25 136.25h0M72.5 136h0M72.75 135.75h0M72.75 136h0M73 135.5h0M73 135.75h0M73.25 135.5h0M73.5 135.25h0M73.5 135.5h0M73.75 135h0M73.75 135.25h0M74 134.75h0M74 135h0M74.25 134.75h0M74.5 134.5h0M74.5 134.75h0M74.75 134.25h0M74.75 134.5h0M75 134h0M75 134.25h0M75.25 134h0M75.5 133.75h0M75.5 134h0M75.75 133.5h0M75.75 133.75h0M76 133.25h0M76 133.5h0M76.25 133.25h0M76.5 133h0M76.5 133.25h0M76.75 132.75h0M76.75 133h0M77 132.5h0M77 132.75h0M77.25 132.5h0M77.5 132.25h0M77.5 132.5h0M77.75 132h0M77.75 132.25h0M78 131.75h0M78 132h0M78.25 131.75h0M78.5 131.5h0M78.75 131.25h0M78.75 131.5h0M79 131h0M79 131.25h0M79.25 130.75h0M79.25 131h0M79.5 130.75h0M79.75 130.5h0M79.75 130.75h0M80 130.25h0M80 130.5h0M80.25 130h0M80.25 130.25h0M80.5 130h0M80.75 129.75h0M80.75 130h0M81 129.5h0M81 129.75h0M81.25 129.25h0M81.25 129.5h0M81.5 129h0M81.5 129.25h0M81.75 129h0M82 128.75h0M82 129h0M82.25 128.5h0M82.25 128.75h0M82.5 128.25h0M82.5 128.5h0M82.75 128.25h0M83 128h0M83 128.25h0M83.25 127.75h0M83.25 128h0M83.5 127.5h0M83.5 127.75h0M83.75 127.5h0M84 127.25h0M84.25 127h0M84.25 127.25h0M84.5 126.75h0M84.5 127h0M84.75 126.5h0M84.75 126.75h0M85 126.5h0M85.25 126.25h0M85.25 126.5h0M85.5 126h0M85.5 126.25h0M85.75 125.75h0M85.75 126h0M86 125.75h0M86.25 125.5h0M86.25 125.75h0M86.5 125.25h0M86.5 125.5h0M86.75 125h0M86.75 125.25h0M87 124.75h0M87 125h0M87.25 124.75h0M87.5 124.5h0M87.75 124.25h0M87.75 124.5h0M88 124h0M88 124.25h0M88.25 123.75h0M88.25 124h0M88.5 123.5h0M88.5 123.75h0M88.75 123.5h0M89 123.25h0M89 123.5h0M89.25 123h0M89.25 123.25h0M89.5 122.75h0M89.5 123h0M89.75 122.5h0M89.75 122.75h0M90 122.5h0M90.25 122.25h0M90.5 122h0M90.5 122.25h0M90.75 121.75h0M90.75 122h0M91 121.5h0M91 121.75h0M91.25 121.25h0M91.25 121.5h0M91.5 121.25h0M91.75 121h0M91.75 121.25h0M92 120.75h0M92 121h0M92.25 120.5h0M92.25 120.75h0M92.5 120.25h0M92.5 120.5h0M92.75 120h0M92.75 120.25h0M93 120h0M93.25 119.75h0M93.25 120h0M93.5 119.5h0M93.5 119.75h0M93.75 119.25h0M93.75 119.5h0M94 119h0M94 119.25h0M94.25 118.75h0M94.25 119h0M94.5 118.5h0M94.5 118.75h0M94.75 118.5h0M95 118.25h0M95 118.5h0M95.25 118h0M95.25 118.25h0M95.5 117.75h0M95.5 118h0M95.75 117.5h0M95.75 117.75h0M96 117.25h0M96 117.5h0M96.25 117h0M96.25 117.25h0M96.5 116.75h0M96.5 117h0M96.75 116.5h0M96.75 116.75h0M97 116.25h0M97 116.5h0M97.25 116.25h0M97.5 116h0M97.5 116.25h0M97.75 115.75h0M97.75 116h0M98 115.5h0M98 115.75h0M98.25 115.25h0M98.25 115.5h0M98.5 115h0M98.5 115.25h0M98.75 114.75h0M98.75 115h0M99 114.5h0M99 114.75h0M99.25 114.5h0M99.5 114.25h0M99.75 114h0M99.75 114.25h0M100 113.75h0M100 114h0M100.25 113.5h0M100.25 113.75h0M100.5 113.25h0M100.5 113.5h0M100.75 113h0M100.75 113.25h0M101 112.75h0M101 113h0M101.25 112.5h0M101.25 112.75h0M101.5 112.25h0M101.5 112.5h0M101.75 112.25h0M102 112h0M102.25 111.75h0M102.25 112h0M102.5 111.5h0M102.5 111.75h0M102.75 111.25h0M102.75 111.5h0M103 111h0M103 111.25h0M103.25 110.75h0M103.25 111h0M103.5 110.5h0M103.5 110.75h0M103.75 110.25h0M103.75 110.5h0M104 110.25h0M104.25 110h0M104.5 109.75h0M104.5 110h0M104.75 109.5h0M104.75 109.75h0M105 109.25h0M105 109.5h0M105.25 109h0M105.25 109.25h0M105.5 109h0M105.75 108.75h0M106 108.5h0M106 108.75h0M106.25 108.25h0M106.25 108.5h0M106.5 108h0M106.5 108.25h0M106.75 107.75h0M106.75 108h0M107 107.5h0M107 107.75h0M107.25 107.5h0M107.5 107.25h0M107.75 107h0M107.75 107.25h0M108 106.75h0M108 107h0M108.25 106.5h0M108.25 106.75h0M108.5 106.25h0M108.5 106.5h0M108.75 106h0M108.75 106.25h0M109 106h0M109.25 105.75h0M109.5 105.5h0M109.5 105.75h0M109.75 105.25h0M109.75 105.5h0M110 105h0M110 105.25h0M110.25 104.75h0M110.25 105h0M110.5 104.75h0M110.75 104.5h0M111 104.25h0M111 104.5h0M111.25 104h0M111.25 104.25h0M111.5 103.75h0M111.5 104h0M111.75 103.5h0M111.75 103.75h0M112 103.5h0M112.25 103.25h0M112.5 103h0M112.5 103.25h0M112.75 102.75h0M112.75 103h0M113 102.75h0M113.25 102.5h0M113.5 102.25h0M113.75 102h0M113.75 102.25h0M114 101.75h0M114 102h0M114.25 101.5h0M114.25 101.75h0M114.5 101.5h0M114.75 101.25h0M115 101h0M115 101.25h0M115.25 100.75h0M115.25 101h0M115.5 100.5h0M115.5 100.75h0M115.75 100.25h0M115.75 100.5h0M116 100.25h0M116.25 100h0M116.25 100.25h0M116.5 99.75h0M116.5 100h0M116.75 99.5h0M116.75 99.75h0M117 99.25h0M117 99.5h0M117.25 99.25h0M117.5 99h0M117.75 98.75h0M117.75 99h0M118 98.5h0M118 98.75h0M118.25 98.25h0M118.25 98.5h0M118.5 98.25h0M118.75 98h0M118.75 98.25h0M119 97.75h0M119 98h0M119.25 97.5h0M119.25 97.75h0M119.5 97.5h0M119.75 97.25h0M120 97h0M120.25 96.75h0M120.25 97h0M120.5 96.5h0M120.5 96.75h0M120.75 96.25h0M120.75 96.5h0M121 96.25h0M121.25 96h0M121.5 95.75h0M121.75 95.5h0M121.75 95.75h0M122 95.25h0M122 95.5h0M122.25 95.25h0M122.5 95h0M122.75 94.75h0M123 94.5h0M123 94.75h0M123.25 94.25h0M123.25 94.5h0M123.5 94h0M123.5 94.25h0M123.75 94h0M124 93.75h0M124.25 93.5h0M124.5 93.25h0M124.75 93h0M124.75 93.25h0M125 93h0M125.25 92.75h0M125.5 92.5h0M125.75 92.25h0M125.75 92.5h0M126 92h0M126 92.25h0M126.25 92h0M126.5 91.75h0M126.75 91.5h0M127 91.5h0M127.25 91.25h0M127.5 91h0M127.75 90.75h0M128 90.5h0M128 90.75h0M128.25 90.25h0M128.25 90.5h0M128.5 90.25h0M128.75 90h0M129 89.75h0M129.25 89.5h0M129.5 89.25h0M129.5 89.5h0M129.75 89.25h0M130 88.75h0M130 89h0M130.25 88.75h0M130.5 88.5h0M130.75 88.25h0M131 88h0M131.25 87.75h0M131.25 88h0M131.5 87.75h0M131.75 87.5h0M132 87.25h0M132 87.5h0M132.25 87h0M132.5 87h0M132.75 86.5h0M132.75 86.75h0M133 86.5h0M133.25 86.25h0M133.5 86.25h0M133.75 86h0M134 85.75h0M134.25 85.5h0M134.25 85.75h0M134.5 85.25h0M134.75 85.25h0M135 85h0M135.25 84.75h0M135.5 84.5h0M135.75 84.5h0M136 84.25h0M136.25 84h0M136.5 83.75h0M136.75 83.5h0M137 83.25h0M137.25 83.25h0M137.5 83h0M137.75 82.75h0M138.25 82.5h0M138.5 82.25h0M138.75 82.25h0M139 82h0M139.25 81.75h0M139.75 81.5h0M140 81.25h0M140.25 80.5h0M140.75 80.25h0M141 79.75h0M141.25 79.5h0M141.75 79h0M142 78.75h0M142.5 78.5h0M142.75 78.25h0M143.25 78h0M143.5 77.5h0M144 77.25h0M144.5 77h0M145 76.75h0M145.25 76.25h0M145.75 75.75h0M146.25 75.5h0M146.75 74.75h0M147.25 74.25h0M147.75 73.75h0M148.5 73.25h0M149 73h0M149.5 72.5h0M150.25 71.75h0M150.75 71.25h0M151.5 70.5h0M152.25 69.75h0M153 69.25h0M153.75 68.25h0M154.5 67.25h0M155.5 66.5h0M156.25 65.25h0M157.25 63.5h0M158.5 61.5h0M159.5 59.75h0M160.75 58h0M162 57.5h0M163.5 57.25h0M165 56.75h0M167 56.25h0M169 53.75h0M171.25 51.25h0M174 48.5h0M177.5 47.25h0M181.75 42h0M188 40h0M198.5 32h0" stroke="#ffa500" stroke-width="1.35" stroke-linecap="round" fill="none"/><path d="M198.56 31.88h0M188.01 40.01h0M181.84 41.93h0M177.46 47.3h0M174.07 48.39h0M171.29 51.14h0M168.95 53.8h0M166.92 56.23h0M165.12 56.83h0M163.52 57.15h0M162.07 57.44h0M160.75 58.08h0M159.53 59.75h0M158.4 61.43h0M157.35 63.53h0M156.37 65.36h0M155.45 66.39h0M154.58 67.37h0M153.75 68.29h0M152.97 69.15h0M152.23 69.87h0M151.52 70.55h0M150.85 71.19h0M150.2 71.82h0M149.58 72.41h0" stroke="#ffa500" stroke-width="2.2" stroke-linecap="round" fill="none"/><path d="M58.5 146.25h0M58.5 146.5h0M58.75 146h0M58.75 146.25h0M59 146h0M59.25 145.75h0M59.25 146h0M59.5 145.5h0M59.5 145.75h0M59.75 145.5h0M60 145.25h0M60 145.5h0M60.25 145h0M60.25 145.25h0M60.5 145h0M60.75 144.75h0M60.75 145h0M61 144.5h0M61 144.75h0M61.25 144.5h0M61.5 144.25h0M61.5 144.5h0M61.75 144h0M61.75 144.25h0M62 144h0M62.25 143.75h0M62.25 144h0M62.5 143.5h0M62.5 143.75h0M62.75 143.5h0M63 143.25h0M63 143.5h0M63.25 143h0M63.25 143.25h0M63.5 143h0M63.75 142.75h0M63.75 143h0M64 142.5h0M64 142.75h0M64.25 142.5h0M64.5 142.25h0M64.5 142.5h0M64.75 142h0M64.75 142.25h0M65 142h0M65.25 141.75h0M65.25 142h0M65.5 141.5h0M65.5 141.75h0M65.75 141.5h0M66 141.25h0M66 141.5h0M66.25 141h0M66.25 141.25h0M66.5 141h0M66.75 140.75h0M66.75 141h0M67 140.5h0M67 140.75h0M67.25 140.5h0M67.5 140.25h0M67.5 140.5h0M67.75 140h0M67.75 140.25h0M68 140h0M68.25 139.75h0M68.25 140h0M68.5 139.5h0M68.5 139.75h0M68.75 139.5h0M69 139.25h0M69 139.5h0M69.25 139h0M69.25 139.25h0M69.5 138.75h0M69.5 139h0M69.75 138.5h0M69.75 138.75h0M70 138.5h0M70.25 138.25h0M70.25 138.5h0M70.5 138h0M70.5 138.25h0M70.75 137.75h0M70.75 138h0M71 137.5h0M71 137.75h0M71.25 137.25h0M71.25 137.5h0M71.5 137.25h0M71.75 137h0M71.75 137.25h0M72 136.75h0M72 137h0M72.25 136.5h0M72.25 136.75h0M72.5 136.25h0M72.5 136.5h0M72.75 136.25h0M73 136h0M73 136.25h0M73.25 135.75h0M73.25 136h0M73.5 135.5h0M73.5 135.75h0M73.75 135.25h0M73.75 135.5h0M74 135h0M74 135.25h0M74.25 135h0M74.5 134.75h0M74.5 135h0M74.75 134.5h0M74.75 134.75h0M75 134.25h0M75 134.5h0M75.25 134h0M75.25 134.25h0M75.5 133.75h0M75.5 134h0M75.75 133.75h0M76 133.5h0M76 133.75h0M76.25 133.25h0M76.25 133.5h0M76.5 133h0M76.5 133.25h0M76.75 132.75h0M76.75 133h0M77 132.5h0M77 132.75h0M77.25 132.5h0M77.5 132.25h0M77.5 132.5h0M77.75 132h0M77.75 132.25h0M78 131.75h0M78 132h0M78.25 131.5h0M78.25 131.75h0M78.5 131.5h0M78.75 131.25h0M78.75 131.5h0M79 131h0M79 131.25h0M79.25 130.75h0M79.25 131h0M79.5 130.5h0M79.5 130.75h0M79.75 130.25h0M79.75 130.5h0M80 130h0M80 130.25h0M80.25 129.75h0M80.25 130h0M80.5 129.5h0M80.5 129.75h0M80.75 129.5h0M81 129.25h0M81 129.5h0M81.25 129h0M81.25 129.25h0M81.5 128.75h0M81.5 129h0M81.75 128.5h0M81.75 128.75h0M82 128.25h0M82 128.5h0M82.25 128h0M82.25 128.25h0M82.5 127.75h0M82.5 128h0M82.75 127.5h0M82.75 127.75h0M83 127.25h0M83 127.5h0M83.25 127h0M83.25 127.25h0M83.5 126.75h0M83.5 127h0M83.75 126.75h0M84 126.5h0M84.25 126.25h0M84.25 126.5h0M84.5 126h0M84.5 126.25h0M84.75 125.75h0M84.75 126h0M85 125.5h0M85 125.75h0M85.25 125.25h0M85.25 125.5h0M85.5 125h0M85.5 125.25h0M85.75 124.75h0M85.75 125h0M86 124.5h0M86 124.75h0M86.25 124.25h0M86.25 124.5h0M86.5 124h0M86.5 124.25h0M86.75 124h0M87 123.75h0M87 124h0M87.25 123.5h0M87.25 123.75h0M87.5 123.25h0M87.5 123.5h0M87.75 123h0M87.75 123.25h0M88 122.75h0M88 123h0M88.25 122.75h0M88.5 122.5h0M88.5 122.75h0M88.75 122.25h0M88.75 122.5h0M89 122h0M89 122.25h0M89.25 121.75h0M89.25 122h0M89.5 121.5h0M89.5 121.75h0M89.75 121.5h0M90 121.25h0M90 121.5h0M90.25 121h0M90.25 121.25h0M90.5 120.75h0M90.5 121h0M90.75 120.5h0M90.75 120.75h0M91 120.25h0M91 120.5h0M91.25 120.25h0M91.5 120h0M91.5 120.25h0M91.75 119.75h0M91.75 120h0M92 119.5h0M92 119.75h0M92.25 119.25h0M92.25 119.5h0M92.5 119h0M92.5 119.25h0M92.75 119h0M93 118.75h0M93.25 118.5h0M93.25 118.75h0M93.5 118.25h0M93.5 118.5h0M93.75 118h0M93.75 118.25h0M94 117.75h0M94 118h0M94.25 117.75h0M94.5 117.5h0M94.5 117.75h0M94.75 117.25h0M94.75 117.5h0M95 117h0M95 117.25h0M95.25 116.75h0M95.25 117h0M95.5 116.75h0M95.75 116.5h0M95.75 116.75h0M96 116.25h0M96 116.5h0M96.25 116h0M96.25 116.25h0M96.5 115.75h0M96.5 116h0M96.75 115.75h0M97 115.5h0M97 115.75h0M97.25 115.25h0M97.25 115.5h0M97.5 115h0M97.5 115.25h0M97.75 114.75h0M97.75 115h0M98 114.75h0M98.25 114.5h0M98.25 114.75h0M98.5 114.25h0M98.5 114.5h0M98.75 114h0M98.75 114.25h0M99 113.75h0M99 114h0M99.25 113.75h0M99.5 113.5h0M99.5 113.75h0M99.75 113.25h0M99.75 113.5h0M100 113h0M100 113.25h0M100.25 112.75h0M100.25 113h0M100.5 112.75h0M100.75 112.5h0M100.75 112.75h0M101 112.25h0M101 112.5h0M101.25 112h0M101.25 112.25h0M101.5 111.75h0M101.5 112h0M101.75 111.75h0M102 111.5h0M102 111.75h0M102.25 111.25h0M102.25 111.5h0M102.5 111h0M102.5 111.25h0M102.75 110.75h0M102.75 111h0M103 110.75h0M103.25 110.5h0M103.25 110.75h0M103.5 110.25h0M103.5 110.5h0M103.75 110h0M103.75 110.25h0M104 109.75h0M104 110h0M104.25 109.75h0M104.5 109.5h0M104.5 109.75h0M104.75 109.25h0M104.75 109.5h0M105 109h0M105 109.25h0M105.25 108.75h0M105.25 109h0M105.5 108.75h0M105.75 108.5h0M105.75 108.75h0M106 108.25h0M106 108.5h0M106.25 108h0M106.25 108.25h0M106.5 107.75h0M106.5 108h0M106.75 107.75h0M107 107.5h0M107.25 107.25h0M107.25 107.5h0M107.5 107h0M107.5 107.25h0M107.75 106.75h0M107.75 107h0M108 106.75h0M108.25 106.5h0M108.5 106.25h0M108.5 106.5h0M108.75 106h0M108.75 106.25h0M109 105.75h0M109 106h0M109.25 105.75h0M109.5 105.5h0M109.75 105.25h0M109.75 105.5h0M110 105h0M110 105.25h0M110.25 104.75h0M110.25 105h0M110.5 104.75h0M110.75 104.5h0M110.75 104.75h0M111 104.25h0M111 104.5h0M111.25 104h0M111.25 104.25h0M111.5 103.75h0M111.5 104h0M111.75 103.75h0M112 103.5h0M112.25 103.25h0M112.5 103h0M112.5 103.25h0M112.75 102.75h0M112.75 103h0M113 102.5h0M113 102.75h0M113.25 102.25h0M113.25 102.5h0M113.5 102h0M113.5 102.25h0M113.75 102h0M114 101.75h0M114.25 101.5h0M114.5 101.25h0M114.5 101.5h0M114.75 101h0M114.75 101.25h0M115 100.75h0M115 101h0M115.25 100.5h0M115.25 100.75h0M115.5 100.5h0M115.75 100.25h0M116 100h0M116.25 99.75h0M116.25 100h0M116.5 99.5h0M116.5 99.75h0M116.75 99.25h0M116.75 99.5h0M117 99h0M117 99.25h0M117.25 99h0M117.5 98.75h0M117.75 98.5h0M117.75 98.75h0M118 98.25h0M118 98.5h0M118.25 98.25h0M118.5 98h0M118.75 97.75h0M119 97.5h0M119.25 97.25h0M119.5 97h0M119.5 97.25h0M119.75 96.75h0M119.75 97h0M120 96.5h0M120 96.75h0M120.25 96.25h0M120.25 96.5h0M120.5 96.25h0M120.75 96h0M121 95.75h0M121.25 95.5h0M121.25 95.75h0M121.5 95.25h0M121.75 95h0M122 94.75h0M122 95h0M122.25 94.5h0M122.25 94.75h0M122.5 94.25h0M122.5 94.5h0M122.75 94h0M122.75 94.25h0M123 93.75h0M123 94h0M123.25 93.5h0M123.25 93.75h0M123.5 93.25h0M123.5 93.5h0M123.75 93.25h0M124 93h0M124.25 92.75h0M124.25 93h0M124.5 92.5h0M124.75 92.25h0M124.75 92.5h0M125 92h0M125 92.25h0M125.25 92h0M125.5 91.75h0M125.75 91.5h0M126 91.25h0M126.25 91h0M126.25 91.25h0M126.5 90.75h0M126.5 91h0M126.75 90.75h0M127 90.5h0M127 90.75h0M127.25 90.25h0M127.5 90h0M127.75 90h0M128 89.5h0M128 89.75h0M128.25 89.25h0M128.25 89.5h0M128.5 89.25h0M128.75 89h0M128.75 89.25h0M129 88.75h0M129.25 88.5h0M129.5 88.25h0M129.5 88.5h0M129.75 88h0M130 87.75h0M130 88h0M130.25 87.5h0M130.5 87.25h0M130.5 87.5h0M130.75 87h0M131 86.75h0M131.25 86.25h0M131.25 86.5h0M131.5 86.25h0M131.75 86h0M132 85.5h0M132.25 85.25h0M132.5 85h0M132.75 84.75h0M133 84.5h0M133.25 84.5h0M133.5 84.25h0M133.75 84h0M134 84h0M134.25 83.5h0M134.25 83.75h0M134.5 83.25h0M134.75 83h0M135 83h0M135.25 82.75h0M135.5 82.5h0M135.75 82.25h0M136 82h0M136.25 81.75h0M136.5 81.5h0M136.75 81.25h0M137 81h0M137.25 80.75h0M137.5 80.5h0M137.75 80h0M138.25 79.75h0M138.5 79.5h0M138.75 79.5h0M139 79h0M139.25 78.75h0M139.75 78.5h0M140 78.25h0M140.25 78h0M140.75 77.75h0M141 77.5h0M141.25 77h0M141.75 76.75h0M142 76.25h0M142.5 75.75h0M142.75 75.25h0M143.25 74.75h0M143.5 74.5h0M144 74h0M144.5 73.75h0M145 73.5h0M145.25 73h0M145.75 72.5h0M146.25 72.25h0M146.75 71.75h0M147.25 71.5h0M147.75 71.25h0M148.5 71.25h0M149 71.25h0M149.5 70.75h0M150.25 70h0M150.75 69.5h0M151.5 69h0M152.25 68.25h0M153 67.5h0M153.75 66.75h0M154.5 66h0M155.5 65.25h0M156.25 64.5h0M157.25 63.75h0M158.5 63h0M159.5 62h0M160.75 61.25h0M162 60.25h0M163.5 59h0M165 58.5h0M167 57.75h0M169 56.5h0M171.25 55.25h0M174 53.25h0M177.5 50.75h0M181.75 47h0M188 45h0M198.5 38h0" stroke="#ee82ee" stroke-width="1.35" stroke-linecap="round" fill="none"/><path d="M198.56 38.04h0M188.01 45.05h0M181.84 46.97h0M177.46 50.69h0M174.07 53.13h0M171.29 55.35h0M168.95 56.62h0M166.92 57.68h0M165.12 58.4h0M163.52 59.04h0M162.07 60.14h0M160.75 61.15h0M159.53 62.07h0M158.4 62.93h0M157.35 63.72h0M156.37 64.49h0M155.45 65.33h0M154.58 66.12h0M153.75 66.87h0M152.97 67.58h0M152.23 68.26h0M151.52 68.9h0M150.85 69.52h0M150.2 70.11h0M149.58 70.67h0" stroke="#ee82ee" stroke-width="2.2" stroke-linecap="round" fill="none"/><path d="M58.4 146.4L233.6 6.4" stroke="#111" stroke-width="1.1" stroke-dasharray="2.3,1.1" fill="none"/></g><rect x="58.4" y="6.4" width="175.2" height="140" fill="none" stroke="#8e8e8e" stroke-width="1"/><g fill="#000"><text x="55.25" y="158.1" font-size="10.4" textLength="6.3" lengthAdjust="spacingAndGlyphs">0</text></g><g fill="#000"><text x="90.29" y="158.1" font-size="10.4" textLength="6.3" lengthAdjust="spacingAndGlyphs">1</text></g><g fill="#000"><text x="125.33" y="158.1" font-size="10.4" textLength="6.3" lengthAdjust="spacingAndGlyphs">2</text></g><g fill="#000"><text x="160.37" y="158.1" font-size="10.4" textLength="6.3" lengthAdjust="spacingAndGlyphs">3</text></g><g fill="#000"><text x="195.41" y="158.1" font-size="10.4" textLength="6.3" lengthAdjust="spacingAndGlyphs">4</text></g><g fill="#000"><text x="230.45" y="158.1" font-size="10.4" textLength="6.3" lengthAdjust="spacingAndGlyphs">5</text></g><path d="M58.4 146.4v2.0M93.44 146.4v2.0M128.48 146.4v2.0M163.52 146.4v2.0M198.56 146.4v2.0M233.6 146.4v2.0" stroke="#8e8e8e" stroke-width="1" fill="none"/><g fill="#000"><text x="49" y="150.5" font-size="10.4" textLength="6.3" lengthAdjust="spacingAndGlyphs">0</text></g><g fill="#000"><text x="49" y="122.5" font-size="10.4" textLength="6.3" lengthAdjust="spacingAndGlyphs">1</text></g><g fill="#000"><text x="49" y="94.5" font-size="10.4" textLength="6.3" lengthAdjust="spacingAndGlyphs">2</text></g><g fill="#000"><text x="49" y="66.5" font-size="10.4" textLength="6.3" lengthAdjust="spacingAndGlyphs">3</text></g><g fill="#000"><text x="49" y="38.5" font-size="10.4" textLength="6.3" lengthAdjust="spacingAndGlyphs">4</text></g><g fill="#000"><text x="49" y="10.5" font-size="10.4" textLength="6.3" lengthAdjust="spacingAndGlyphs">5</text></g><path d="M58.4 146.4h-2.0M58.4 118.4h-2.0M58.4 90.4h-2.0M58.4 62.4h-2.0M58.4 34.4h-2.0M58.4 6.4h-2.0" stroke="#8e8e8e" stroke-width="1" fill="none"/><g fill="#000"><text x="82.84" y="169.5" font-size="12.18" textLength="84.07" lengthAdjust="spacingAndGlyphs">Theoretical p (</text><text x="166.9" y="169.5" font-size="12.18" textLength="9.72" lengthAdjust="spacingAndGlyphs">−</text><text x="176.62" y="169.5" font-size="12.18" font-style="italic" textLength="17.68" lengthAdjust="spacingAndGlyphs">log</text><text x="194.31" y="171.82" font-size="8.53" textLength="10.33" lengthAdjust="spacingAndGlyphs">10</text><text x="204.64" y="169.5" font-size="12.18" textLength="4.53" lengthAdjust="spacingAndGlyphs">)</text></g><g transform="rotate(-90 44.9 76.4)" fill="#000"><text x="-12.82" y="76.4" font-size="12.18" textLength="73.18" lengthAdjust="spacingAndGlyphs">Empirical p (</text><text x="60.36" y="76.4" font-size="12.18" textLength="9.72" lengthAdjust="spacingAndGlyphs">−</text><text x="70.08" y="76.4" font-size="12.18" font-style="italic" textLength="17.68" lengthAdjust="spacingAndGlyphs">log</text><text x="87.76" y="78.72" font-size="8.53" textLength="10.33" lengthAdjust="spacingAndGlyphs">10</text><text x="98.09" y="76.4" font-size="12.18" textLength="4.53" lengthAdjust="spacingAndGlyphs">)</text></g><rect x="61.3" y="9.3" width="80" height="64.1" rx="1.5" fill="#fff" fill-opacity="0.8" stroke="#d6d6d6" stroke-width="0.7"/><circle cx="69.6" cy="18.6" r="1.55" fill="#0000ff"/><g fill="#000"><text x="80.1" y="16.6" font-size="6.3" textLength="15.99" lengthAdjust="spacingAndGlyphs">RARE</text></g><g fill="#000"><text x="80.1" y="23.4" font-size="6.3" textLength="58.08" lengthAdjust="spacingAndGlyphs">Causal ratio=0.001</text></g><circle cx="69.6" cy="34.0" r="1.55" fill="#ff0000"/><g fill="#000"><text x="80.1" y="32" font-size="6.3" textLength="10.79" lengthAdjust="spacingAndGlyphs">ALL</text></g><g fill="#000"><text x="80.1" y="38.8" font-size="6.3" textLength="58.08" lengthAdjust="spacingAndGlyphs">Causal ratio=0.001</text></g><circle cx="69.6" cy="49.3" r="1.55" fill="#ffa500"/><g fill="#000"><text x="80.1" y="47.4" font-size="6.3" textLength="28.48" lengthAdjust="spacingAndGlyphs">COMMON</text></g><g fill="#000"><text x="80.1" y="54.2" font-size="6.3" textLength="58.08" lengthAdjust="spacingAndGlyphs">Causal ratio=0.001</text></g><circle cx="69.6" cy="64.8" r="1.55" fill="#ee82ee"/><g fill="#000"><text x="80.1" y="62.6" font-size="6.3" textLength="10.79" lengthAdjust="spacingAndGlyphs">ALL</text></g><g fill="#000"><text x="80.1" y="69.4" font-size="6.3" textLength="44.72" lengthAdjust="spacingAndGlyphs">Causal ratio=1</text></g><clipPath id="cb1"><rect x="305.6" y="15.75" width="165.7" height="134.65"/></clipPath><g clip-path="url(#cb1)"><path d="M312.5 141h0M312.5 142h0M312.5 142.5h0M312.5 143h0M312.5 143.5h0M312.5 144h0M312.5 144.5h0M313 138.5h0M313 140.5h0M313 141h0M313 141.5h0M313 142h0M313 142.5h0M313 143h0M313 143.5h0M313 144h0M313 144.5h0M313.5 139.5h0M313.5 140h0M313.5 140.5h0M313.5 141h0M313.5 141.5h0M313.5 142h0M313.5 142.5h0M313.5 143h0M313.5 143.5h0M313.5 144h0M313.5 144.5h0M314 136.5h0M314 138h0M314 139h0M314 139.5h0M314 140h0M314 140.5h0M314 141h0M314 141.5h0M314 142h0M314 142.5h0M314 143h0M314 143.5h0M314 144h0M314 144.5h0M314.5 134h0M314.5 136h0M314.5 137.5h0M314.5 138h0M314.5 138.5h0M314.5 139h0M314.5 139.5h0M314.5 140h0M314.5 140.5h0M314.5 141h0M314.5 141.5h0M314.5 142h0M314.5 142.5h0M314.5 143h0M314.5 143.5h0M314.5 144h0M314.5 144.5h0M315 132.5h0M315 135h0M315 135.5h0M315 136h0M315 136.5h0M315 137h0M315 137.5h0M315 138h0M315 138.5h0M315 139h0M315 139.5h0M315 140h0M315 140.5h0M315 141h0M315 141.5h0M315 142h0M315 142.5h0M315 143h0M315 143.5h0M315 144h0M315 144.5h0M315.5 130h0M315.5 135h0M315.5 135.5h0M315.5 136.5h0M315.5 137h0M315.5 137.5h0M315.5 138h0M315.5 138.5h0M315.5 139h0M315.5 139.5h0M315.5 140h0M315.5 140.5h0M315.5 141h0M315.5 141.5h0M315.5 142h0M315.5 142.5h0M315.5 143h0M315.5 143.5h0M315.5 144h0M315.5 144.5h0M316 134h0M316 135h0M316 136h0M316 136.5h0M316 137h0M316 137.5h0M316 138h0M316 138.5h0M316 139h0M316 139.5h0M316 140h0M316 140.5h0M316 141h0M316 141.5h0M316 142h0M316 142.5h0M316 143h0M316 143.5h0M316 144h0M316 144.5h0M316.5 127.5h0M316.5 129.5h0M316.5 133h0M316.5 134h0M316.5 134.5h0M316.5 135h0M316.5 135.5h0M316.5 136h0M316.5 136.5h0M316.5 137h0M316.5 137.5h0M316.5 138h0M316.5 138.5h0M316.5 139h0M316.5 139.5h0M316.5 140h0M316.5 140.5h0M316.5 141h0M316.5 141.5h0M316.5 142h0M316.5 142.5h0M316.5 143h0M316.5 143.5h0M316.5 144h0M316.5 144.5h0M317 130.5h0M317 132h0M317 133h0M317 133.5h0M317 134h0M317 134.5h0M317 135h0M317 135.5h0M317 136h0M317 136.5h0M317 137h0M317 137.5h0M317 138h0M317 138.5h0M317 139h0M317 139.5h0M317 140h0M317 140.5h0M317 141h0M317 141.5h0M317 142h0M317 142.5h0M317 143h0M317 143.5h0M317 144h0M317 144.5h0M317.5 127.5h0M317.5 129.5h0M317.5 130.5h0M317.5 132h0M317.5 133h0M317.5 133.5h0M317.5 134h0M317.5 134.5h0M317.5 135h0M317.5 135.5h0M317.5 136h0M317.5 136.5h0M317.5 137h0M317.5 137.5h0M317.5 138h0M317.5 138.5h0M317.5 139h0M317.5 139.5h0M317.5 140h0M317.5 140.5h0M317.5 141h0M317.5 141.5h0M317.5 142h0M317.5 142.5h0M317.5 143h0M317.5 143.5h0M317.5 144h0M317.5 144.5h0M318 119h0M318 129.5h0M318 131h0M318 131.5h0M318 132h0M318 132.5h0M318 133h0M318 133.5h0M318 134h0M318 134.5h0M318 135h0M318 135.5h0M318 136h0M318 136.5h0M318 137h0M318 137.5h0M318 138h0M318 138.5h0M318 139h0M318 139.5h0M318 140h0M318 140.5h0M318 141h0M318 141.5h0M318 142h0M318 142.5h0M318 143h0M318 143.5h0M318 144h0M318 144.5h0M318.5 125h0M318.5 130h0M318.5 131h0M318.5 131.5h0M318.5 132h0M318.5 132.5h0M318.5 133h0M318.5 133.5h0M318.5 134h0M318.5 134.5h0M318.5 135h0M318.5 135.5h0M318.5 136h0M318.5 136.5h0M318.5 137h0M318.5 137.5h0M318.5 138h0M318.5 138.5h0M318.5 139h0M318.5 139.5h0M318.5 140h0M318.5 140.5h0M318.5 141h0M318.5 141.5h0M318.5 142h0M318.5 142.5h0M318.5 143h0M318.5 143.5h0M318.5 144h0M318.5 144.5h0M319 125h0M319 127.5h0M319 129h0M319 130h0M319 130.5h0M319 131h0M319 131.5h0M319 132h0M319 132.5h0M319 133h0M319 133.5h0M319 134h0M319 134.5h0M319 135h0M319 135.5h0M319 136h0M319 136.5h0M319 137h0M319 137.5h0M319 138h0M319 138.5h0M319 139h0M319 139.5h0M319 140h0M319 140.5h0M319 141h0M319 141.5h0M319 142h0M319 142.5h0M319 143h0M319 143.5h0M319 144h0M319 144.5h0M319.5 121h0M319.5 125h0M319.5 126.5h0M319.5 129h0M319.5 130h0M319.5 130.5h0M319.5 131h0M319.5 131.5h0M319.5 132h0M319.5 132.5h0M319.5 133h0M319.5 133.5h0M319.5 134h0M319.5 134.5h0M319.5 135h0M319.5 135.5h0M319.5 136h0M319.5 136.5h0M319.5 137h0M319.5 137.5h0M319.5 138h0M319.5 138.5h0M319.5 139h0M319.5 139.5h0M319.5 140h0M319.5 140.5h0M319.5 141h0M319.5 141.5h0M319.5 142h0M319.5 142.5h0M319.5 143h0M319.5 143.5h0M319.5 144h0M319.5 144.5h0M320 126.5h0M320 127h0M320 129h0M320 129.5h0M320 131h0M320 131.5h0M320 132h0M320 132.5h0M320 133h0M320 133.5h0M320 134h0M320 134.5h0M320 135h0M320 135.5h0M320 136h0M320 136.5h0M320 137h0M320 137.5h0M320 138h0M320 138.5h0M320 139h0M320 139.5h0M320 140h0M320 140.5h0M320 141h0M320 141.5h0M320 142h0M320 142.5h0M320 143h0M320 143.5h0M320 144h0M320 144.5h0M320.5 122.5h0M320.5 123.5h0M320.5 124h0M320.5 124.5h0M320.5 125.5h0M320.5 126.5h0M320.5 127.5h0M320.5 128h0M320.5 128.5h0M320.5 129h0M320.5 129.5h0M320.5 130h0M320.5 130.5h0M320.5 131h0M320.5 132h0M320.5 132.5h0M320.5 133h0M320.5 133.5h0M320.5 134h0M320.5 134.5h0M320.5 135h0M320.5 135.5h0M320.5 136h0M320.5 136.5h0M320.5 137h0M320.5 137.5h0M320.5 138h0M320.5 138.5h0M320.5 139h0M320.5 139.5h0M320.5 140h0M320.5 140.5h0M320.5 141h0M320.5 141.5h0M320.5 142h0M320.5 142.5h0M320.5 143h0M320.5 143.5h0M320.5 144h0M320.5 144.5h0M321 125.5h0M321 126.5h0M321 127h0M321 127.5h0M321 128h0M321 128.5h0M321 129h0M321 129.5h0M321 130h0M321 130.5h0M321 131h0M321 131.5h0M321 132h0M321 132.5h0M321 133h0M321 133.5h0M321 134h0M321 134.5h0M321 135h0M321 135.5h0M321 136h0M321 136.5h0M321 137h0M321 137.5h0M321 138h0M321 138.5h0M321 139h0M321 139.5h0M321 140h0M321 140.5h0M321 141h0M321 141.5h0M321 142h0M321 142.5h0M321 143h0M321 143.5h0M321 144h0M321 144.5h0M321.5 118h0M321.5 122.5h0M321.5 124h0M321.5 125.5h0M321.5 128h0M321.5 128.5h0M321.5 129.5h0M321.5 130h0M321.5 130.5h0M321.5 131h0M321.5 131.5h0M321.5 132h0M321.5 132.5h0M321.5 133h0M321.5 133.5h0M321.5 134h0M321.5 134.5h0M321.5 135h0M321.5 135.5h0M321.5 136h0M321.5 136.5h0M321.5 137h0M321.5 137.5h0M321.5 138h0M321.5 138.5h0M321.5 139h0M321.5 139.5h0M321.5 140h0M321.5 140.5h0M321.5 141h0M321.5 141.5h0M321.5 142h0M321.5 142.5h0M321.5 143h0M321.5 143.5h0M321.5 144h0M321.5 144.5h0M322 116h0M322 119.5h0M322 121h0M322 122.5h0M322 123h0M322 125h0M322 126h0M322 127h0M322 127.5h0M322 128h0M322 128.5h0M322 129h0M322 129.5h0M322 130h0M322 130.5h0M322 131h0M322 131.5h0M322 132h0M322 132.5h0M322 133h0M322 133.5h0M322 134h0M322 134.5h0M322 135h0M322 135.5h0M322 136h0M322 136.5h0M322 137h0M322 137.5h0M322 138h0M322 138.5h0M322 139h0M322 139.5h0M322 140h0M322 140.5h0M322 141h0M322 141.5h0M322 142h0M322 142.5h0M322 143h0M322 143.5h0M322 144h0M322 144.5h0M322.5 124.5h0M322.5 125h0M322.5 125.5h0M322.5 126.5h0M322.5 127h0M322.5 128h0M322.5 128.5h0M322.5 129h0M322.5 129.5h0M322.5 130h0M322.5 130.5h0M322.5 131h0M322.5 131.5h0M322.5 132h0M322.5 132.5h0M322.5 133h0M322.5 133.5h0M322.5 134h0M322.5 134.5h0M322.5 135h0M322.5 135.5h0M322.5 136h0M322.5 136.5h0M322.5 137h0M322.5 137.5h0M322.5 138h0M322.5 138.5h0M322.5 139h0M322.5 139.5h0M322.5 140h0M322.5 140.5h0M322.5 141h0M322.5 141.5h0M322.5 142h0M322.5 142.5h0M322.5 143h0M322.5 143.5h0M322.5 144h0M322.5 144.5h0M323 116h0M323 119h0M323 119.5h0M323 122.5h0M323 124.5h0M323 125h0M323 125.5h0M323 126h0M323 126.5h0M323 127.5h0M323 128.5h0M323 129h0M323 129.5h0M323 130h0M323 130.5h0M323 131h0M323 131.5h0M323 132h0M323 132.5h0M323 133h0M323 133.5h0M323 134h0M323 134.5h0M323 135h0M323 135.5h0M323 136h0M323 136.5h0M323 137h0M323 137.5h0M323 138h0M323 138.5h0M323 139h0M323 139.5h0M323 140h0M323 140.5h0M323 141h0M323 141.5h0M323 142h0M323 142.5h0M323 143h0M323 143.5h0M323 144h0M323 144.5h0M323.5 122.5h0M323.5 124.5h0M323.5 125h0M323.5 125.5h0M323.5 126h0M323.5 127h0M323.5 127.5h0M323.5 128h0M323.5 128.5h0M323.5 129h0M323.5 129.5h0M323.5 130h0M323.5 130.5h0M323.5 131h0M323.5 131.5h0M323.5 132h0M323.5 132.5h0M323.5 133h0M323.5 133.5h0M323.5 134h0M323.5 134.5h0M323.5 135h0M323.5 135.5h0M323.5 136h0M323.5 136.5h0M323.5 137h0M323.5 137.5h0M323.5 138h0M323.5 138.5h0M323.5 139h0M323.5 139.5h0M323.5 140h0M323.5 140.5h0M323.5 141h0M323.5 141.5h0M323.5 142h0M323.5 142.5h0M323.5 143h0M323.5 143.5h0M323.5 144h0M323.5 144.5h0M324 120.5h0M324 123h0M324 123.5h0M324 124h0M324 125h0M324 125.5h0M324 126h0M324 127h0M324 127.5h0M324 128.5h0M324 129h0M324 129.5h0M324 130h0M324 130.5h0M324 131h0M324 131.5h0M324 132h0M324 132.5h0M324 133h0M324 133.5h0M324 134h0M324 134.5h0M324 135h0M324 135.5h0M324 136h0M324 136.5h0M324 137h0M324 137.5h0M324 138h0M324 138.5h0M324 139h0M324 139.5h0M324 140h0M324 140.5h0M324 141h0M324 141.5h0M324 142h0M324 142.5h0M324 143h0M324 143.5h0M324 144h0M324.5 117h0M324.5 118h0M324.5 120h0M324.5 121h0M324.5 122h0M324.5 123h0M324.5 123.5h0M324.5 124h0M324.5 124.5h0M324.5 125.5h0M324.5 126h0M324.5 126.5h0M324.5 127h0M324.5 127.5h0M324.5 128h0M324.5 128.5h0M324.5 129h0M324.5 129.5h0M324.5 130h0M324.5 130.5h0M324.5 131h0M324.5 131.5h0M324.5 132h0M324.5 132.5h0M324.5 133h0M324.5 133.5h0M324.5 134h0M324.5 134.5h0M324.5 135h0M324.5 135.5h0M324.5 136h0M324.5 136.5h0M324.5 137h0M324.5 137.5h0M324.5 138h0M324.5 138.5h0M324.5 139h0M324.5 139.5h0M324.5 140h0M324.5 140.5h0M324.5 141h0M324.5 141.5h0M324.5 142h0M324.5 142.5h0M324.5 143h0M324.5 143.5h0M324.5 144h0M324.5 144.5h0M325 121h0M325 122.5h0M325 123h0M325 124h0M325 124.5h0M325 125h0M325 125.5h0M325 126h0M325 126.5h0M325 127h0M325 127.5h0M325 128h0M325 128.5h0M325 129h0M325 129.5h0M325 130h0M325 130.5h0M325 131h0M325 131.5h0M325 132h0M325 132.5h0M325 133h0M325 133.5h0M325 134h0M325 134.5h0M325 135h0M325 135.5h0M325 136h0M325 136.5h0M325 137h0M325 137.5h0M325 138h0M325 138.5h0M325 139h0M325 139.5h0M325 140h0M325 140.5h0M325 141h0M325 141.5h0M325 142h0M325 142.5h0M325 143h0M325 144h0M325.5 116h0M325.5 118.5h0M325.5 120h0M325.5 120.5h0M325.5 121.5h0M325.5 122.5h0M325.5 123h0M325.5 123.5h0M325.5 124h0M325.5 124.5h0M325.5 125h0M325.5 125.5h0M325.5 126h0M325.5 126.5h0M325.5 127h0M325.5 127.5h0M325.5 128h0M325.5 128.5h0M325.5 129h0M325.5 129.5h0M325.5 130h0M325.5 130.5h0M325.5 131h0M325.5 131.5h0M325.5 132h0M325.5 132.5h0M325.5 133h0M325.5 133.5h0M325.5 134h0M325.5 134.5h0M325.5 135h0M325.5 135.5h0M325.5 136h0M325.5 136.5h0M325.5 137h0M325.5 137.5h0M325.5 138h0M325.5 138.5h0M325.5 139h0M325.5 139.5h0M325.5 140h0M325.5 140.5h0M325.5 141h0M325.5 141.5h0M325.5 142h0M325.5 142.5h0M325.5 143h0M325.5 143.5h0M325.5 144h0M325.5 144.5h0M326 115h0M326 117.5h0M326 119.5h0M326 120h0M326 121.5h0M326 123h0M326 123.5h0M326 124h0M326 124.5h0M326 125h0M326 125.5h0M326 126h0M326 126.5h0M326 127h0M326 127.5h0M326 128h0M326 128.5h0M326 129h0M326 129.5h0M326 130h0M326 130.5h0M326 131h0M326 131.5h0M326 132h0M326 132.5h0M326 133h0M326 133.5h0M326 134h0M326 134.5h0M326 135h0M326 135.5h0M326 136h0M326 136.5h0M326 137h0M326 137.5h0M326 138h0M326 138.5h0M326 139h0M326 139.5h0M326 140h0M326 140.5h0M326 141h0M326 141.5h0M326 142h0M326 142.5h0M326 143h0M326 143.5h0M326 144h0M326.5 116h0M326.5 118.5h0M326.5 119h0M326.5 120h0M326.5 120.5h0M326.5 121h0M326.5 121.5h0M326.5 122h0M326.5 122.5h0M326.5 123h0M326.5 123.5h0M326.5 124h0M326.5 124.5h0M326.5 125h0M326.5 125.5h0M326.5 126h0M326.5 126.5h0M326.5 127h0M326.5 127.5h0M326.5 128h0M326.5 128.5h0M326.5 129h0M326.5 129.5h0M326.5 130h0M326.5 130.5h0M326.5 131h0M326.5 131.5h0M326.5 132h0M326.5 132.5h0M326.5 133h0M326.5 133.5h0M326.5 134h0M326.5 134.5h0M326.5 135h0M326.5 135.5h0M326.5 136h0M326.5 136.5h0M326.5 137h0M326.5 137.5h0M326.5 138h0M326.5 138.5h0M326.5 139h0M326.5 139.5h0M326.5 140h0M326.5 140.5h0M326.5 141h0M326.5 141.5h0M326.5 142h0M326.5 142.5h0M326.5 143h0M326.5 143.5h0M326.5 144h0M327 112h0M327 119h0M327 120h0M327 120.5h0M327 121h0M327 122.5h0M327 123h0M327 123.5h0M327 124h0M327 125h0M327 125.5h0M327 126h0M327 126.5h0M327 127h0M327 127.5h0M327 128h0M327 128.5h0M327 129h0M327 129.5h0M327 130h0M327 130.5h0M327 131h0M327 131.5h0M327 132h0M327 132.5h0M327 133h0M327 133.5h0M327 134h0M327 134.5h0M327 135h0M327 135.5h0M327 136h0M327 136.5h0M327 137h0M327 137.5h0M327 138h0M327 138.5h0M327 139h0M327 139.5h0M327 140h0M327 140.5h0M327 141h0M327 141.5h0M327 142h0M327 142.5h0M327 143h0M327 143.5h0M327 144h0M327.5 117.5h0M327.5 118h0M327.5 118.5h0M327.5 119h0M327.5 120.5h0M327.5 122h0M327.5 122.5h0M327.5 123h0M327.5 123.5h0M327.5 124h0M327.5 124.5h0M327.5 125h0M327.5 125.5h0M327.5 126h0M327.5 126.5h0M327.5 127h0M327.5 127.5h0M327.5 128h0M327.5 128.5h0M327.5 129h0M327.5 129.5h0M327.5 130h0M327.5 130.5h0M327.5 131h0M327.5 131.5h0M327.5 132h0M327.5 132.5h0M327.5 133h0M327.5 133.5h0M327.5 134h0M327.5 134.5h0M327.5 135h0M327.5 135.5h0M327.5 136h0M327.5 136.5h0M327.5 137h0M327.5 137.5h0M327.5 138h0M327.5 138.5h0M327.5 139h0M327.5 139.5h0M327.5 140.5h0M327.5 141h0M327.5 141.5h0M327.5 142h0M327.5 142.5h0M327.5 143h0M327.5 144h0M328 99h0M328 115.5h0M328 119.5h0M328 120h0M328 120.5h0M328 122h0M328 122.5h0M328 123h0M328 123.5h0M328 124h0M328 124.5h0M328 125h0M328 125.5h0M328 126h0M328 126.5h0M328 127h0M328 127.5h0M328 128h0M328 128.5h0M328 129h0M328 129.5h0M328 130h0M328 130.5h0M328 131h0M328 131.5h0M328 132h0M328 132.5h0M328 133h0M328 133.5h0M328 134h0M328 134.5h0M328 135h0M328 135.5h0M328 136h0M328 136.5h0M328 137h0M328 137.5h0M328 138h0M328 138.5h0M328 139h0M328 139.5h0M328 140h0M328 141h0M328 141.5h0M328 142h0M328 142.5h0M328 143h0M328 143.5h0M328.5 112.5h0M328.5 118h0M328.5 118.5h0M328.5 119h0M328.5 119.5h0M328.5 120h0M328.5 120.5h0M328.5 121h0M328.5 121.5h0M328.5 122h0M328.5 122.5h0M328.5 123h0M328.5 123.5h0M328.5 124h0M328.5 124.5h0M328.5 125h0M328.5 125.5h0M328.5 126h0M328.5 126.5h0M328.5 127h0M328.5 127.5h0M328.5 128h0M328.5 128.5h0M328.5 129h0M328.5 129.5h0M328.5 130h0M328.5 130.5h0M328.5 131h0M328.5 131.5h0M328.5 132h0M328.5 132.5h0M328.5 133h0M328.5 133.5h0M328.5 134h0M328.5 134.5h0M328.5 135h0M328.5 135.5h0M328.5 136h0M328.5 136.5h0M328.5 137h0M328.5 137.5h0M328.5 138h0M328.5 138.5h0M328.5 139h0M328.5 139.5h0M328.5 140h0M328.5 140.5h0M328.5 141h0M328.5 141.5h0M328.5 142h0M328.5 142.5h0M328.5 143h0M328.5 143.5h0M329 113h0M329 113.5h0M329 114.5h0M329 116h0M329 116.5h0M329 117.5h0M329 118.5h0M329 119h0M329 121.5h0M329 122h0M329 122.5h0M329 123h0M329 123.5h0M329 124h0M329 124.5h0M329 125h0M329 125.5h0M329 126h0M329 126.5h0M329 127h0M329 127.5h0M329 128h0M329 128.5h0M329 129h0M329 129.5h0M329 130h0M329 130.5h0M329 131h0M329 131.5h0M329 132h0M329 132.5h0M329 133h0M329 133.5h0M329 134h0M329 134.5h0M329 135h0M329 135.5h0M329 136h0M329 136.5h0M329 137h0M329 137.5h0M329 138h0M329 138.5h0M329 139h0M329 139.5h0M329 140h0M329 140.5h0M329 141h0M329 142h0M329 142.5h0M329 144h0M329 144.5h0M329.5 110h0M329.5 111h0M329.5 114h0M329.5 115.5h0M329.5 118h0M329.5 119.5h0M329.5 120h0M329.5 120.5h0M329.5 121h0M329.5 121.5h0M329.5 122h0M329.5 122.5h0M329.5 123h0M329.5 123.5h0M329.5 124h0M329.5 124.5h0M329.5 125h0M329.5 125.5h0M329.5 126h0M329.5 126.5h0M329.5 127h0M329.5 127.5h0M329.5 128h0M329.5 128.5h0M329.5 129h0M329.5 129.5h0M329.5 130h0M329.5 130.5h0M329.5 131h0M329.5 131.5h0M329.5 132h0M329.5 132.5h0M329.5 133h0M329.5 133.5h0M329.5 134h0M329.5 134.5h0M329.5 135h0M329.5 135.5h0M329.5 136h0M329.5 136.5h0M329.5 137h0M329.5 137.5h0M329.5 138h0M329.5 138.5h0M329.5 139h0M329.5 139.5h0M329.5 140h0M329.5 140.5h0M329.5 141h0M329.5 141.5h0M329.5 142h0M329.5 142.5h0M329.5 143.5h0M329.5 144.5h0M330 113.5h0M330 115.5h0M330 116h0M330 117.5h0M330 118h0M330 119h0M330 119.5h0M330 120h0M330 120.5h0M330 121h0M330 121.5h0M330 122h0M330 122.5h0M330 123h0M330 123.5h0M330 124h0M330 124.5h0M330 125h0M330 125.5h0M330 126h0M330 127h0M330 127.5h0M330 128h0M330 128.5h0M330 129h0M330 129.5h0M330 130h0M330 130.5h0M330 131h0M330 131.5h0M330 132h0M330 132.5h0M330 133h0M330 133.5h0M330 134h0M330 134.5h0M330 135h0M330 135.5h0M330 136h0M330 136.5h0M330 137h0M330 137.5h0M330 138h0M330 138.5h0M330 139h0M330 139.5h0M330 140.5h0M330 141.5h0M330 142.5h0M330.5 110h0M330.5 111.5h0M330.5 112.5h0M330.5 117h0M330.5 118h0M330.5 119h0M330.5 120h0M330.5 120.5h0M330.5 121h0M330.5 121.5h0M330.5 122h0M330.5 122.5h0M330.5 123h0M330.5 123.5h0M330.5 124h0M330.5 124.5h0M330.5 125h0M330.5 125.5h0M330.5 126h0M330.5 126.5h0M330.5 127h0M330.5 127.5h0M330.5 128h0M330.5 128.5h0M330.5 129h0M330.5 129.5h0M330.5 130h0M330.5 130.5h0M330.5 131h0M330.5 131.5h0M330.5 132h0M330.5 132.5h0M330.5 133h0M330.5 133.5h0M330.5 134h0M330.5 134.5h0M330.5 135h0M330.5 135.5h0M330.5 136h0M330.5 136.5h0M330.5 137h0M330.5 137.5h0M330.5 138h0M330.5 138.5h0M330.5 139h0M330.5 139.5h0M330.5 140h0M330.5 140.5h0M330.5 141h0M330.5 141.5h0M330.5 142h0M330.5 142.5h0M330.5 143h0M330.5 143.5h0M330.5 144h0M330.5 144.5h0M331 112.5h0M331 113h0M331 115h0M331 115.5h0M331 116.5h0M331 117h0M331 117.5h0M331 118.5h0M331 119h0M331 120h0M331 120.5h0M331 121h0M331 121.5h0M331 122h0M331 122.5h0M331 123.5h0M331 124h0M331 124.5h0M331 125h0M331 125.5h0M331 126h0M331 126.5h0M331 127h0M331 127.5h0M331 128h0M331 128.5h0M331 129h0M331 129.5h0M331 130h0M331 130.5h0M331 131h0M331 131.5h0M331 132h0M331 132.5h0M331 133h0M331 133.5h0M331 134h0M331 134.5h0M331 135h0M331 135.5h0M331 136h0M331 136.5h0M331 137h0M331 137.5h0M331 138h0M331 138.5h0M331 139h0M331 140h0M331 141h0M331 141.5h0M331 142h0M331 143h0M331 143.5h0M331 144h0M331.5 115h0M331.5 115.5h0M331.5 116.5h0M331.5 117h0M331.5 117.5h0M331.5 118h0M331.5 118.5h0M331.5 119h0M331.5 119.5h0M331.5 120h0M331.5 120.5h0M331.5 121h0M331.5 121.5h0M331.5 122h0M331.5 122.5h0M331.5 123h0M331.5 123.5h0M331.5 124h0M331.5 124.5h0M331.5 125h0M331.5 125.5h0M331.5 126h0M331.5 126.5h0M331.5 127h0M331.5 127.5h0M331.5 128h0M331.5 128.5h0M331.5 129h0M331.5 129.5h0M331.5 130h0M331.5 130.5h0M331.5 131h0M331.5 131.5h0M331.5 132h0M331.5 132.5h0M331.5 133h0M331.5 133.5h0M331.5 134h0M331.5 134.5h0M331.5 135h0M331.5 135.5h0M331.5 136h0M331.5 136.5h0M331.5 137h0M331.5 137.5h0M331.5 138.5h0M331.5 139.5h0M331.5 140h0M331.5 141.5h0M331.5 142h0M331.5 143h0M332 114.5h0M332 115h0M332 115.5h0M332 116h0M332 117h0M332 118h0M332 118.5h0M332 119.5h0M332 120h0M332 120.5h0M332 121h0M332 121.5h0M332 122h0M332 122.5h0M332 123h0M332 123.5h0M332 124h0M332 124.5h0M332 125h0M332 125.5h0M332 126h0M332 126.5h0M332 127h0M332 127.5h0M332 128h0M332 128.5h0M332 129h0M332 129.5h0M332 130h0M332 130.5h0M332 131h0M332 131.5h0M332 132h0M332 132.5h0M332 133h0M332 133.5h0M332 134h0M332 134.5h0M332 135h0M332 135.5h0M332 136h0M332 136.5h0M332 137h0M332 137.5h0M332 138h0M332 138.5h0M332 139h0M332 139.5h0M332 140.5h0M332 142.5h0M332 143.5h0M332.5 109.5h0M332.5 111.5h0M332.5 114.5h0M332.5 115h0M332.5 115.5h0M332.5 116h0M332.5 117h0M332.5 117.5h0M332.5 118.5h0M332.5 119h0M332.5 120h0M332.5 120.5h0M332.5 121h0M332.5 121.5h0M332.5 122h0M332.5 122.5h0M332.5 123h0M332.5 123.5h0M332.5 124h0M332.5 125h0M332.5 125.5h0M332.5 126h0M332.5 126.5h0M332.5 127h0M332.5 127.5h0M332.5 128h0M332.5 128.5h0M332.5 129h0M332.5 129.5h0M332.5 130h0M332.5 130.5h0M332.5 131h0M332.5 131.5h0M332.5 132h0M332.5 132.5h0M332.5 133h0M332.5 133.5h0M332.5 134h0M332.5 134.5h0M332.5 135h0M332.5 135.5h0M332.5 136h0M332.5 136.5h0M332.5 137h0M332.5 137.5h0M332.5 138h0M332.5 138.5h0M332.5 139h0M332.5 139.5h0M332.5 140.5h0M332.5 141.5h0M332.5 143.5h0M332.5 144h0M332.5 144.5h0M333 104.5h0M333 109.5h0M333 110h0M333 113h0M333 114.5h0M333 115.5h0M333 116h0M333 116.5h0M333 117h0M333 117.5h0M333 118h0M333 118.5h0M333 119h0M333 119.5h0M333 120h0M333 120.5h0M333 121h0M333 121.5h0M333 122h0M333 122.5h0M333 123h0M333 123.5h0M333 124h0M333 124.5h0M333 125h0M333 125.5h0M333 126h0M333 126.5h0M333 127h0M333 127.5h0M333 128h0M333 128.5h0M333 129h0M333 129.5h0M333 130h0M333 130.5h0M333 131h0M333 131.5h0M333 132h0M333 132.5h0M333 133h0M333 133.5h0M333 134h0M333 134.5h0M333 135.5h0M333 136.5h0M333 137h0M333 137.5h0M333 138h0M333 138.5h0M333 139.5h0M333 141h0M333 141.5h0M333 142h0M333 142.5h0M333 143h0M333 143.5h0M333.5 108h0M333.5 111.5h0M333.5 114h0M333.5 115.5h0M333.5 116h0M333.5 117h0M333.5 117.5h0M333.5 118h0M333.5 118.5h0M333.5 119.5h0M333.5 120h0M333.5 120.5h0M333.5 121h0M333.5 121.5h0M333.5 122h0M333.5 122.5h0M333.5 123h0M333.5 123.5h0M333.5 124h0M333.5 124.5h0M333.5 125h0M333.5 125.5h0M333.5 126h0M333.5 126.5h0M333.5 127h0M333.5 127.5h0M333.5 128h0M333.5 128.5h0M333.5 129h0M333.5 129.5h0M333.5 130h0M333.5 130.5h0M333.5 131h0M333.5 131.5h0M333.5 132h0M333.5 132.5h0M333.5 133h0M333.5 133.5h0M333.5 134h0M333.5 134.5h0M333.5 135h0M333.5 135.5h0M333.5 136h0M333.5 136.5h0M333.5 137h0M333.5 138.5h0M333.5 139h0M333.5 140h0M333.5 142h0M334 99h0M334 106h0M334 107.5h0M334 112.5h0M334 115h0M334 117h0M334 117.5h0M334 118h0M334 118.5h0M334 119h0M334 119.5h0M334 120h0M334 121h0M334 122h0M334 122.5h0M334 123h0M334 123.5h0M334 124h0M334 124.5h0M334 125h0M334 125.5h0M334 126h0M334 126.5h0M334 127h0M334 127.5h0M334 128h0M334 128.5h0M334 129h0M334 129.5h0M334 130h0M334 130.5h0M334 131h0M334 131.5h0M334 132h0M334 132.5h0M334 133h0M334 133.5h0M334 134h0M334 134.5h0M334 135h0M334 135.5h0M334 136h0M334 136.5h0M334 137h0M334 137.5h0M334 138.5h0M334 139h0M334 139.5h0M334 140h0M334 141h0M334 142h0M334 142.5h0M334 144h0M334.5 103h0M334.5 112.5h0M334.5 114h0M334.5 114.5h0M334.5 115.5h0M334.5 116h0M334.5 116.5h0M334.5 117.5h0M334.5 118h0M334.5 118.5h0M334.5 119.5h0M334.5 120h0M334.5 120.5h0M334.5 121h0M334.5 121.5h0M334.5 122h0M334.5 122.5h0M334.5 123h0M334.5 123.5h0M334.5 124h0M334.5 125h0M334.5 125.5h0M334.5 126h0M334.5 126.5h0M334.5 127h0M334.5 127.5h0M334.5 128h0M334.5 128.5h0M334.5 129h0M334.5 129.5h0M334.5 130h0M334.5 130.5h0M334.5 131h0M334.5 131.5h0M334.5 132h0M334.5 132.5h0M334.5 133h0M334.5 133.5h0M334.5 134h0M334.5 134.5h0M334.5 135h0M334.5 135.5h0M334.5 136h0M334.5 136.5h0M334.5 137.5h0M334.5 138h0M334.5 138.5h0M334.5 139.5h0M334.5 140h0M334.5 140.5h0M334.5 141h0M334.5 141.5h0M334.5 142h0M334.5 142.5h0M334.5 143h0M335 106.5h0M335 111.5h0M335 112h0M335 113.5h0M335 114h0M335 114.5h0M335 115h0M335 115.5h0M335 116.5h0M335 117h0M335 117.5h0M335 118h0M335 118.5h0M335 119h0M335 119.5h0M335 120h0M335 120.5h0M335 121h0M335 121.5h0M335 122h0M335 122.5h0M335 123h0M335 123.5h0M335 124h0M335 124.5h0M335 125h0M335 125.5h0M335 126h0M335 126.5h0M335 127h0M335 127.5h0M335 128h0M335 128.5h0M335 129h0M335 129.5h0M335 130h0M335 130.5h0M335 131h0M335 131.5h0M335 132h0M335 132.5h0M335 133h0M335 133.5h0M335 134h0M335 134.5h0M335 135.5h0M335 136h0M335 137.5h0M335 138.5h0M335 139.5h0M335 141h0M335 142h0M335.5 104.5h0M335.5 109.5h0M335.5 111h0M335.5 114h0M335.5 114.5h0M335.5 116h0M335.5 116.5h0M335.5 117.5h0M335.5 118h0M335.5 118.5h0M335.5 119h0M335.5 119.5h0M335.5 120h0M335.5 120.5h0M335.5 121h0M335.5 121.5h0M335.5 122h0M335.5 122.5h0M335.5 123h0M335.5 123.5h0M335.5 124h0M335.5 124.5h0M335.5 125h0M335.5 125.5h0M335.5 126h0M335.5 126.5h0M335.5 127h0M335.5 127.5h0M335.5 128h0M335.5 128.5h0M335.5 129h0M335.5 129.5h0M335.5 130h0M335.5 130.5h0M335.5 131h0M335.5 131.5h0M335.5 132h0M335.5 132.5h0M335.5 133h0M335.5 133.5h0M335.5 134h0M335.5 134.5h0M335.5 135h0M335.5 135.5h0M335.5 136.5h0M335.5 138h0M335.5 140.5h0M335.5 143.5h0M336 110.5h0M336 111h0M336 111.5h0M336 112.5h0M336 114h0M336 115h0M336 115.5h0M336 116h0M336 116.5h0M336 117h0M336 117.5h0M336 118.5h0M336 119h0M336 119.5h0M336 120h0M336 120.5h0M336 121h0M336 121.5h0M336 122h0M336 122.5h0M336 123h0M336 123.5h0M336 124h0M336 124.5h0M336 125h0M336 125.5h0M336 126h0M336 126.5h0M336 127h0M336 127.5h0M336 128h0M336 128.5h0M336 129h0M336 129.5h0M336 130h0M336 130.5h0M336 131h0M336 131.5h0M336 132h0M336 132.5h0M336 133h0M336 133.5h0M336 134h0M336 134.5h0M336 135h0M336 135.5h0M336 136h0M336 136.5h0M336 139h0M336 140h0M336 141h0M336 143.5h0M336.5 104.5h0M336.5 110.5h0M336.5 111.5h0M336.5 112.5h0M336.5 113h0M336.5 113.5h0M336.5 114h0M336.5 114.5h0M336.5 115h0M336.5 115.5h0M336.5 116h0M336.5 116.5h0M336.5 117.5h0M336.5 118h0M336.5 118.5h0M336.5 119h0M336.5 119.5h0M336.5 120h0M336.5 120.5h0M336.5 121.5h0M336.5 122h0M336.5 122.5h0M336.5 123h0M336.5 123.5h0M336.5 124h0M336.5 124.5h0M336.5 125h0M336.5 125.5h0M336.5 126h0M336.5 126.5h0M336.5 127h0M336.5 127.5h0M336.5 128h0M336.5 128.5h0M336.5 129h0M336.5 129.5h0M336.5 130h0M336.5 130.5h0M336.5 131.5h0M336.5 132h0M336.5 132.5h0M336.5 133h0M336.5 134h0M336.5 134.5h0M336.5 135h0M336.5 136h0M336.5 137.5h0M336.5 138.5h0M336.5 139h0M336.5 142.5h0M337 100.5h0M337 108h0M337 111h0M337 111.5h0M337 114h0M337 114.5h0M337 115h0M337 115.5h0M337 116h0M337 116.5h0M337 118h0M337 118.5h0M337 119h0M337 119.5h0M337 120h0M337 120.5h0M337 121h0M337 121.5h0M337 122h0M337 122.5h0M337 123h0M337 123.5h0M337 124h0M337 124.5h0M337 125h0M337 125.5h0M337 126h0M337 126.5h0M337 127h0M337 127.5h0M337 128h0M337 128.5h0M337 129h0M337 129.5h0M337 130h0M337 130.5h0M337 131h0M337 131.5h0M337 132h0M337 132.5h0M337 133h0M337 133.5h0M337 134h0M337 135h0M337 135.5h0M337 136h0M337 136.5h0M337 137h0M337 139h0M337 142h0M337.5 106h0M337.5 109h0M337.5 109.5h0M337.5 111.5h0M337.5 112h0M337.5 112.5h0M337.5 113h0M337.5 114h0M337.5 114.5h0M337.5 115.5h0M337.5 116h0M337.5 116.5h0M337.5 117h0M337.5 117.5h0M337.5 118h0M337.5 118.5h0M337.5 119h0M337.5 119.5h0M337.5 120h0M337.5 120.5h0M337.5 121h0M337.5 121.5h0M337.5 122h0M337.5 122.5h0M337.5 123h0M337.5 123.5h0M337.5 124h0M337.5 124.5h0M337.5 125h0M337.5 125.5h0M337.5 126h0M337.5 126.5h0M337.5 127h0M337.5 127.5h0M337.5 128h0M337.5 128.5h0M337.5 129h0M337.5 129.5h0M337.5 130h0M337.5 130.5h0M337.5 131h0M337.5 131.5h0M337.5 132.5h0M337.5 133h0M337.5 133.5h0M337.5 134h0M337.5 134.5h0M337.5 135.5h0M337.5 136h0M337.5 138.5h0M337.5 139.5h0M338 112.5h0M338 113h0M338 114h0M338 114.5h0M338 115.5h0M338 116h0M338 117h0M338 117.5h0M338 118h0M338 118.5h0M338 119h0M338 119.5h0M338 120h0M338 120.5h0M338 121h0M338 121.5h0M338 122h0M338 122.5h0M338 123h0M338 123.5h0M338 124h0M338 124.5h0M338 125h0M338 125.5h0M338 126h0M338 126.5h0M338 127h0M338 127.5h0M338 128h0M338 128.5h0M338 129h0M338 129.5h0M338 130h0M338 130.5h0M338 131h0M338 132h0M338 132.5h0M338 133.5h0M338 134h0M338 135h0M338 136h0M338.5 100.5h0M338.5 107.5h0M338.5 108.5h0M338.5 109h0M338.5 110.5h0M338.5 112h0M338.5 112.5h0M338.5 114h0M338.5 114.5h0M338.5 115h0M338.5 116.5h0M338.5 117h0M338.5 117.5h0M338.5 118h0M338.5 118.5h0M338.5 119h0M338.5 119.5h0M338.5 120h0M338.5 120.5h0M338.5 121h0M338.5 121.5h0M338.5 122h0M338.5 122.5h0M338.5 123h0M338.5 123.5h0M338.5 124h0M338.5 124.5h0M338.5 125h0M338.5 125.5h0M338.5 126h0M338.5 126.5h0M338.5 127h0M338.5 128h0M338.5 128.5h0M338.5 129h0M338.5 129.5h0M338.5 130.5h0M338.5 131.5h0M338.5 132h0M338.5 135.5h0M338.5 137h0M338.5 137.5h0M339 108.5h0M339 110h0M339 111h0M339 111.5h0M339 112.5h0M339 114.5h0M339 115h0M339 115.5h0M339 116h0M339 116.5h0M339 117h0M339 117.5h0M339 118h0M339 118.5h0M339 119h0M339 119.5h0M339 120h0M339 120.5h0M339 121h0M339 121.5h0M339 122h0M339 122.5h0M339 123h0M339 123.5h0M339 124h0M339 124.5h0M339 125h0M339 125.5h0M339 126h0M339 126.5h0M339 127h0M339 127.5h0M339 128h0M339 128.5h0M339 129h0M339 129.5h0M339 130h0M339 130.5h0M339 131h0M339 131.5h0M339 132h0M339 132.5h0M339 133.5h0M339 134h0M339 137h0M339 138h0M339 139h0M339.5 86.5h0M339.5 107.5h0M339.5 108.5h0M339.5 109.5h0M339.5 110h0M339.5 111.5h0M339.5 112h0M339.5 112.5h0M339.5 113.5h0M339.5 114h0M339.5 114.5h0M339.5 115h0M339.5 115.5h0M339.5 116h0M339.5 117h0M339.5 117.5h0M339.5 118h0M339.5 118.5h0M339.5 119h0M339.5 119.5h0M339.5 120h0M339.5 120.5h0M339.5 121h0M339.5 121.5h0M339.5 122h0M339.5 122.5h0M339.5 123h0M339.5 123.5h0M339.5 124h0M339.5 124.5h0M339.5 125h0M339.5 126h0M339.5 126.5h0M339.5 127h0M339.5 128h0M339.5 128.5h0M339.5 129h0M339.5 129.5h0M339.5 130h0M339.5 130.5h0M339.5 131.5h0M339.5 132h0M339.5 133h0M339.5 133.5h0M339.5 134.5h0M339.5 136.5h0M339.5 139h0M340 98.5h0M340 109.5h0M340 110h0M340 111.5h0M340 112h0M340 113h0M340 113.5h0M340 115h0M340 115.5h0M340 116h0M340 117h0M340 117.5h0M340 118h0M340 118.5h0M340 119h0M340 119.5h0M340 120h0M340 120.5h0M340 121h0M340 121.5h0M340 122h0M340 122.5h0M340 123h0M340 123.5h0M340 124h0M340 124.5h0M340 125h0M340 125.5h0M340 126h0M340 126.5h0M340 127h0M340 127.5h0M340 128h0M340 129h0M340 129.5h0M340 130.5h0M340 131h0M340 131.5h0M340 132h0M340 132.5h0M340 133h0M340 133.5h0M340 134.5h0M340 135h0M340 136h0M340 137h0M340.5 105h0M340.5 108h0M340.5 109.5h0M340.5 112h0M340.5 113.5h0M340.5 114.5h0M340.5 115h0M340.5 116h0M340.5 116.5h0M340.5 117h0M340.5 117.5h0M340.5 118h0M340.5 118.5h0M340.5 119h0M340.5 119.5h0M340.5 120h0M340.5 120.5h0M340.5 121h0M340.5 121.5h0M340.5 122h0M340.5 122.5h0M340.5 123h0M340.5 123.5h0M340.5 124h0M340.5 124.5h0M340.5 125h0M340.5 125.5h0M340.5 127h0M340.5 127.5h0M340.5 128h0M340.5 128.5h0M340.5 129h0M340.5 129.5h0M340.5 131h0M340.5 131.5h0M340.5 132h0M340.5 132.5h0M340.5 133h0M340.5 133.5h0M341 99h0M341 108.5h0M341 109.5h0M341 110h0M341 110.5h0M341 111h0M341 112h0M341 112.5h0M341 114h0M341 114.5h0M341 115h0M341 115.5h0M341 116h0M341 117h0M341 117.5h0M341 118h0M341 118.5h0M341 119h0M341 119.5h0M341 120h0M341 120.5h0M341 121h0M341 121.5h0M341 122h0M341 122.5h0M341 123h0M341 123.5h0M341 124h0M341 124.5h0M341 125h0M341 125.5h0M341 126h0M341 126.5h0M341 127h0M341 127.5h0M341 128h0M341 128.5h0M341 129.5h0M341 130h0M341 130.5h0M341 131h0M341 131.5h0M341 139.5h0M341.5 103h0M341.5 106h0M341.5 110h0M341.5 110.5h0M341.5 111.5h0M341.5 112h0M341.5 112.5h0M341.5 113h0M341.5 113.5h0M341.5 115.5h0M341.5 116h0M341.5 116.5h0M341.5 117h0M341.5 117.5h0M341.5 118h0M341.5 118.5h0M341.5 119h0M341.5 119.5h0M341.5 120h0M341.5 120.5h0M341.5 121h0M341.5 121.5h0M341.5 122.5h0M341.5 123.5h0M341.5 124h0M341.5 124.5h0M341.5 125h0M341.5 125.5h0M341.5 126h0M341.5 126.5h0M341.5 127h0M341.5 127.5h0M341.5 128.5h0M341.5 129h0M341.5 129.5h0M341.5 130h0M341.5 131.5h0M341.5 132.5h0M341.5 134h0M341.5 135h0M342 106.5h0M342 110h0M342 111h0M342 112.5h0M342 113.5h0M342 114h0M342 114.5h0M342 115h0M342 115.5h0M342 116h0M342 116.5h0M342 117h0M342 118h0M342 119h0M342 119.5h0M342 120.5h0M342 121h0M342 121.5h0M342 122h0M342 122.5h0M342 123h0M342 123.5h0M342 124h0M342 124.5h0M342 125h0M342 125.5h0M342 126h0M342 126.5h0M342 127h0M342 128h0M342 128.5h0M342 129h0M342 129.5h0M342 130h0M342 130.5h0M342 131h0M342 132.5h0M342 133.5h0M342 134h0M342 137.5h0M342.5 98.5h0M342.5 102.5h0M342.5 104h0M342.5 107h0M342.5 108.5h0M342.5 109.5h0M342.5 110h0M342.5 111.5h0M342.5 112.5h0M342.5 113h0M342.5 114h0M342.5 114.5h0M342.5 115h0M342.5 115.5h0M342.5 116.5h0M342.5 117h0M342.5 117.5h0M342.5 118h0M342.5 118.5h0M342.5 119h0M342.5 119.5h0M342.5 120.5h0M342.5 121h0M342.5 121.5h0M342.5 122h0M342.5 122.5h0M342.5 123h0M342.5 123.5h0M342.5 124h0M342.5 124.5h0M342.5 125h0M342.5 125.5h0M342.5 126h0M342.5 126.5h0M342.5 127h0M342.5 127.5h0M342.5 128h0M342.5 128.5h0M342.5 129h0M342.5 129.5h0M342.5 130h0M342.5 132.5h0M343 101h0M343 104h0M343 107h0M343 107.5h0M343 108h0M343 109.5h0M343 111h0M343 112h0M343 112.5h0M343 113h0M343 113.5h0M343 114h0M343 114.5h0M343 115.5h0M343 116h0M343 116.5h0M343 117.5h0M343 118h0M343 118.5h0M343 119h0M343 119.5h0M343 120h0M343 120.5h0M343 121h0M343 121.5h0M343 122h0M343 122.5h0M343 123h0M343 123.5h0M343 124h0M343 124.5h0M343 125h0M343 125.5h0M343 126h0M343 126.5h0M343 127h0M343 127.5h0M343 128h0M343 129h0M343 133.5h0M343 134h0M343 137.5h0M343 140h0M343.5 93h0M343.5 106.5h0M343.5 108.5h0M343.5 109h0M343.5 109.5h0M343.5 111h0M343.5 111.5h0M343.5 112h0M343.5 113h0M343.5 113.5h0M343.5 114h0M343.5 115h0M343.5 115.5h0M343.5 116h0M343.5 116.5h0M343.5 117h0M343.5 117.5h0M343.5 118h0M343.5 118.5h0M343.5 119h0M343.5 120h0M343.5 120.5h0M343.5 121h0M343.5 121.5h0M343.5 122h0M343.5 122.5h0M343.5 123h0M343.5 124h0M343.5 124.5h0M343.5 125h0M343.5 125.5h0M343.5 126h0M343.5 126.5h0M343.5 127.5h0M343.5 128h0M343.5 128.5h0M343.5 129h0M343.5 131h0M343.5 139.5h0M344 105h0M344 107h0M344 107.5h0M344 108h0M344 110h0M344 110.5h0M344 112.5h0M344 113h0M344 114h0M344 114.5h0M344 115h0M344 115.5h0M344 116h0M344 117h0M344 117.5h0M344 118h0M344 118.5h0M344 119h0M344 119.5h0M344 120h0M344 121h0M344 121.5h0M344 122h0M344 122.5h0M344 123h0M344 123.5h0M344 124h0M344 124.5h0M344 126.5h0M344 128h0M344 128.5h0M344 129h0M344 130h0M344 133.5h0M344 136h0M344 137h0M344 143.5h0M344.5 95.5h0M344.5 105h0M344.5 107h0M344.5 110h0M344.5 110.5h0M344.5 111.5h0M344.5 112h0M344.5 112.5h0M344.5 113h0M344.5 113.5h0M344.5 114h0M344.5 115h0M344.5 115.5h0M344.5 116h0M344.5 116.5h0M344.5 117h0M344.5 117.5h0M344.5 118h0M344.5 118.5h0M344.5 119h0M344.5 119.5h0M344.5 120h0M344.5 120.5h0M344.5 121.5h0M344.5 122.5h0M344.5 124h0M344.5 124.5h0M344.5 126h0M344.5 126.5h0M344.5 127.5h0M344.5 128h0M344.5 129.5h0M344.5 130.5h0M344.5 132.5h0M344.5 133.5h0M344.5 139h0M344.5 142h0M345 106h0M345 106.5h0M345 110.5h0M345 111.5h0M345 112.5h0M345 113.5h0M345 114h0M345 114.5h0M345 115h0M345 115.5h0M345 116h0M345 116.5h0M345 117h0M345 117.5h0M345 118h0M345 118.5h0M345 119h0M345 119.5h0M345 120h0M345 120.5h0M345 121h0M345 121.5h0M345 122h0M345 122.5h0M345 124h0M345 124.5h0M345 125.5h0M345 126.5h0M345 127h0M345 127.5h0M345 128h0M345 128.5h0M345 130h0M345 132.5h0M345.5 100h0M345.5 104.5h0M345.5 110h0M345.5 110.5h0M345.5 111h0M345.5 112h0M345.5 113.5h0M345.5 114h0M345.5 114.5h0M345.5 115.5h0M345.5 116h0M345.5 116.5h0M345.5 117.5h0M345.5 118h0M345.5 118.5h0M345.5 119h0M345.5 119.5h0M345.5 120h0M345.5 120.5h0M345.5 121h0M345.5 121.5h0M345.5 122h0M345.5 122.5h0M345.5 123h0M345.5 123.5h0M345.5 124h0M345.5 124.5h0M345.5 125h0M345.5 125.5h0M345.5 127h0M345.5 129.5h0M346 94h0M346 103h0M346 106h0M346 107.5h0M346 108h0M346 108.5h0M346 110h0M346 110.5h0M346 111h0M346 111.5h0M346 112h0M346 113h0M346 113.5h0M346 114h0M346 114.5h0M346 115h0M346 115.5h0M346 116h0M346 116.5h0M346 117.5h0M346 118h0M346 118.5h0M346 119h0M346 119.5h0M346 120h0M346 120.5h0M346 121h0M346 121.5h0M346 122.5h0M346 123h0M346 123.5h0M346 124h0M346 125h0M346 126h0M346 128h0M346 136h0M346.5 103h0M346.5 104.5h0M346.5 105h0M346.5 105.5h0M346.5 106.5h0M346.5 108h0M346.5 108.5h0M346.5 109h0M346.5 111h0M346.5 112.5h0M346.5 113h0M346.5 113.5h0M346.5 114h0M346.5 115h0M346.5 115.5h0M346.5 116h0M346.5 116.5h0M346.5 117h0M346.5 117.5h0M346.5 118h0M346.5 118.5h0M346.5 119h0M346.5 119.5h0M346.5 120h0M346.5 120.5h0M346.5 121h0M346.5 121.5h0M346.5 122.5h0M346.5 123h0M346.5 123.5h0M346.5 124h0M346.5 124.5h0M346.5 125h0M346.5 126h0M346.5 126.5h0M346.5 129.5h0M347 102h0M347 105h0M347 106h0M347 107.5h0M347 109.5h0M347 111h0M347 111.5h0M347 112.5h0M347 113h0M347 113.5h0M347 114h0M347 114.5h0M347 115h0M347 115.5h0M347 116h0M347 116.5h0M347 117h0M347 117.5h0M347 118h0M347 118.5h0M347 119h0M347 119.5h0M347 121h0M347 121.5h0M347 122h0M347 122.5h0M347 124.5h0M347 125h0M347 125.5h0M347 126h0M347 126.5h0M347 127h0M347 128h0M347 128.5h0M347 130.5h0M347.5 92h0M347.5 98h0M347.5 101h0M347.5 105.5h0M347.5 106h0M347.5 107h0M347.5 108h0M347.5 109h0M347.5 109.5h0M347.5 110.5h0M347.5 111h0M347.5 111.5h0M347.5 112.5h0M347.5 113.5h0M347.5 114h0M347.5 114.5h0M347.5 115h0M347.5 116.5h0M347.5 117h0M347.5 118h0M347.5 118.5h0M347.5 119h0M347.5 120h0M347.5 120.5h0M347.5 121h0M347.5 121.5h0M347.5 122.5h0M347.5 123h0M347.5 124.5h0M347.5 126h0M347.5 127.5h0M347.5 128h0M348 106h0M348 106.5h0M348 107h0M348 108.5h0M348 109h0M348 109.5h0M348 110h0M348 111h0M348 111.5h0M348 112h0M348 112.5h0M348 113h0M348 113.5h0M348 114h0M348 115.5h0M348 116h0M348 117.5h0M348 118h0M348 118.5h0M348 119h0M348 119.5h0M348 120h0M348 121h0M348 123h0M348 123.5h0M348 124h0M348 124.5h0M348 127h0M348.5 90.5h0M348.5 102h0M348.5 103h0M348.5 104.5h0M348.5 105h0M348.5 106h0M348.5 108.5h0M348.5 109.5h0M348.5 111h0M348.5 111.5h0M348.5 112h0M348.5 112.5h0M348.5 113.5h0M348.5 114h0M348.5 114.5h0M348.5 115h0M348.5 116h0M348.5 116.5h0M348.5 117h0M348.5 118.5h0M348.5 119h0M348.5 119.5h0M348.5 120.5h0M348.5 121.5h0M348.5 122.5h0M348.5 123.5h0M348.5 124h0M348.5 126h0M348.5 126.5h0M348.5 127.5h0M348.5 129.5h0M348.5 131.5h0M348.5 132h0M348.5 140h0M349 98.5h0M349 100h0M349 100.5h0M349 106h0M349 107.5h0M349 108.5h0M349 109h0M349 109.5h0M349 111.5h0M349 112.5h0M349 114h0M349 114.5h0M349 115h0M349 115.5h0M349 116h0M349 117h0M349 118h0M349 118.5h0M349 119h0M349 120.5h0M349 122h0M349 126.5h0M349.5 101.5h0M349.5 102.5h0M349.5 103.5h0M349.5 107h0M349.5 108h0M349.5 108.5h0M349.5 109.5h0M349.5 110h0M349.5 111h0M349.5 111.5h0M349.5 112h0M349.5 112.5h0M349.5 113h0M349.5 113.5h0M349.5 114h0M349.5 114.5h0M349.5 115.5h0M349.5 116h0M349.5 116.5h0M349.5 117h0M349.5 117.5h0M349.5 118h0M349.5 118.5h0M349.5 119h0M349.5 119.5h0M349.5 120.5h0M349.5 123.5h0M349.5 125h0M349.5 127h0M349.5 129h0M350 97.5h0M350 100h0M350 101h0M350 102.5h0M350 103.5h0M350 105h0M350 105.5h0M350 106h0M350 107.5h0M350 108.5h0M350 109h0M350 109.5h0M350 111h0M350 111.5h0M350 112.5h0M350 113.5h0M350 114.5h0M350 115h0M350 116h0M350 116.5h0M350 117h0M350 117.5h0M350 118h0M350 118.5h0M350 119h0M350 119.5h0M350 120h0M350 120.5h0M350 121h0M350 121.5h0M350 122h0M350 123h0M350 126.5h0M350 127.5h0M350 128h0M350.5 104h0M350.5 104.5h0M350.5 105h0M350.5 106.5h0M350.5 107h0M350.5 108h0M350.5 108.5h0M350.5 109h0M350.5 111.5h0M350.5 112h0M350.5 112.5h0M350.5 113.5h0M350.5 114h0M350.5 114.5h0M350.5 115h0M350.5 115.5h0M350.5 116.5h0M350.5 117h0M350.5 117.5h0M350.5 118h0M350.5 118.5h0M350.5 119.5h0M350.5 120h0M350.5 120.5h0M350.5 121h0M350.5 125h0M350.5 127.5h0M350.5 135h0M351 98.5h0M351 100h0M351 103.5h0M351 104h0M351 106h0M351 106.5h0M351 108h0M351 108.5h0M351 109h0M351 109.5h0M351 111h0M351 111.5h0M351 112h0M351 112.5h0M351 113h0M351 113.5h0M351 114h0M351 114.5h0M351 115h0M351 115.5h0M351 116h0M351 117h0M351 117.5h0M351 118h0M351 118.5h0M351 119h0M351 120h0M351 120.5h0M351 122.5h0M351 123h0M351 127h0M351 129.5h0M351.5 97.5h0M351.5 101h0M351.5 102h0M351.5 103h0M351.5 103.5h0M351.5 104h0M351.5 105h0M351.5 105.5h0M351.5 106h0M351.5 106.5h0M351.5 107h0M351.5 107.5h0M351.5 109h0M351.5 110h0M351.5 111.5h0M351.5 112h0M351.5 112.5h0M351.5 113h0M351.5 113.5h0M351.5 114h0M351.5 115h0M351.5 115.5h0M351.5 116h0M351.5 116.5h0M351.5 117.5h0M351.5 118.5h0M351.5 119h0M351.5 119.5h0M351.5 120.5h0M351.5 121.5h0M351.5 123h0M351.5 125h0M351.5 128h0M352 92.5h0M352 100h0M352 105h0M352 106h0M352 107.5h0M352 108h0M352 108.5h0M352 109h0M352 109.5h0M352 110.5h0M352 111.5h0M352 112.5h0M352 113.5h0M352 114h0M352 115h0M352 115.5h0M352 116h0M352 117.5h0M352 119.5h0M352 120h0M352 121h0M352 121.5h0M352 125.5h0M352 128h0M352.5 101.5h0M352.5 103h0M352.5 103.5h0M352.5 104.5h0M352.5 105.5h0M352.5 106.5h0M352.5 107h0M352.5 107.5h0M352.5 108h0M352.5 108.5h0M352.5 109.5h0M352.5 110h0M352.5 111h0M352.5 114h0M352.5 114.5h0M352.5 115h0M352.5 115.5h0M352.5 116.5h0M352.5 118h0M352.5 118.5h0M352.5 119h0M352.5 120.5h0M352.5 121.5h0M353 102.5h0M353 103h0M353 104.5h0M353 105h0M353 105.5h0M353 107h0M353 107.5h0M353 108h0M353 108.5h0M353 109.5h0M353 110h0M353 110.5h0M353 111h0M353 111.5h0M353 112h0M353 112.5h0M353 113h0M353 114h0M353 114.5h0M353 115h0M353 115.5h0M353 117h0M353 117.5h0M353 118h0M353 119h0M353 121h0M353 123h0M353.5 89.5h0M353.5 102h0M353.5 103.5h0M353.5 104h0M353.5 104.5h0M353.5 105h0M353.5 107h0M353.5 108h0M353.5 108.5h0M353.5 109h0M353.5 109.5h0M353.5 110h0M353.5 110.5h0M353.5 111h0M353.5 111.5h0M353.5 112.5h0M353.5 113h0M353.5 114h0M353.5 114.5h0M353.5 115h0M353.5 116.5h0M353.5 117.5h0M353.5 118.5h0M353.5 120h0M353.5 120.5h0M353.5 123.5h0M353.5 128.5h0M354 88h0M354 96h0M354 96.5h0M354 100.5h0M354 102.5h0M354 103h0M354 103.5h0M354 105h0M354 106.5h0M354 108.5h0M354 109h0M354 110h0M354 111.5h0M354 112.5h0M354 113h0M354 113.5h0M354 114h0M354 115h0M354 115.5h0M354 116h0M354 116.5h0M354 117.5h0M354 118.5h0M354.5 96.5h0M354.5 101.5h0M354.5 103.5h0M354.5 104h0M354.5 106h0M354.5 107.5h0M354.5 108h0M354.5 108.5h0M354.5 109h0M354.5 111h0M354.5 113h0M354.5 114h0M354.5 116.5h0M354.5 120h0M354.5 121h0M354.5 123.5h0M355 91h0M355 106h0M355 106.5h0M355 107.5h0M355 108h0M355 109.5h0M355 111h0M355 111.5h0M355 112h0M355 113.5h0M355 114.5h0M355 116h0M355 117h0M355 118h0M355 124h0M355.5 101h0M355.5 102h0M355.5 102.5h0M355.5 104h0M355.5 104.5h0M355.5 106h0M355.5 107h0M355.5 108h0M355.5 108.5h0M355.5 109.5h0M355.5 110h0M355.5 110.5h0M355.5 111h0M355.5 112h0M355.5 112.5h0M355.5 113.5h0M355.5 114h0M355.5 115.5h0M355.5 116h0M355.5 122.5h0M356 97.5h0M356 98h0M356 102.5h0M356 103.5h0M356 104.5h0M356 105.5h0M356 106h0M356 106.5h0M356 107h0M356 107.5h0M356 108.5h0M356 109.5h0M356 111.5h0M356 112h0M356 114h0M356 114.5h0M356 115h0M356 117h0M356 118.5h0M356 119.5h0M356.5 98.5h0M356.5 100.5h0M356.5 103h0M356.5 103.5h0M356.5 104h0M356.5 105h0M356.5 105.5h0M356.5 106h0M356.5 106.5h0M356.5 107h0M356.5 107.5h0M356.5 109h0M356.5 109.5h0M356.5 110h0M356.5 111h0M356.5 113.5h0M356.5 114.5h0M356.5 117h0M356.5 120.5h0M356.5 122.5h0M356.5 124.5h0M357 100.5h0M357 103h0M357 103.5h0M357 104h0M357 104.5h0M357 105.5h0M357 106h0M357 106.5h0M357 108h0M357 108.5h0M357 109h0M357 109.5h0M357 110h0M357 110.5h0M357 111h0M357 112.5h0M357 113h0M357 114h0M357 116h0M357 116.5h0M357 117.5h0M357.5 97h0M357.5 98.5h0M357.5 99.5h0M357.5 101h0M357.5 101.5h0M357.5 103h0M357.5 103.5h0M357.5 104h0M357.5 105h0M357.5 105.5h0M357.5 106h0M357.5 106.5h0M357.5 107.5h0M357.5 109.5h0M357.5 110.5h0M357.5 112.5h0M357.5 114h0M357.5 114.5h0M357.5 115h0M357.5 115.5h0M357.5 117h0M357.5 120.5h0M358 83h0M358 96h0M358 98h0M358 102h0M358 103.5h0M358 104h0M358 104.5h0M358 106h0M358 106.5h0M358 107h0M358 107.5h0M358 108h0M358 108.5h0M358 109h0M358 110h0M358 110.5h0M358 111.5h0M358 113h0M358 113.5h0M358 116h0M358.5 89h0M358.5 99h0M358.5 100.5h0M358.5 101.5h0M358.5 102.5h0M358.5 103h0M358.5 105h0M358.5 105.5h0M358.5 107h0M358.5 108h0M358.5 109h0M358.5 109.5h0M358.5 110.5h0M358.5 112.5h0M358.5 113.5h0M358.5 115.5h0M358.5 117.5h0M358.5 121h0M359 97.5h0M359 98.5h0M359 99.5h0M359 103.5h0M359 104h0M359 104.5h0M359 105h0M359 106h0M359 106.5h0M359 107h0M359 107.5h0M359 108h0M359 108.5h0M359 109h0M359 109.5h0M359 110h0M359 110.5h0M359 112h0M359 115h0M359 115.5h0M359 119.5h0M359.5 101.5h0M359.5 104.5h0M359.5 105h0M359.5 107h0M359.5 107.5h0M359.5 108h0M359.5 109.5h0M359.5 111.5h0M359.5 114h0M359.5 120h0M359.5 122.5h0M360 92.5h0M360 100h0M360 101.5h0M360 102.5h0M360 104h0M360 106h0M360 106.5h0M360 107h0M360 108.5h0M360 109h0M360 110h0M360 110.5h0M360 112.5h0M360 115h0M360 117.5h0M360.5 93h0M360.5 103h0M360.5 104h0M360.5 105h0M360.5 106h0M360.5 106.5h0M360.5 107h0M360.5 107.5h0M360.5 108.5h0M360.5 111h0M360.5 111.5h0M360.5 112h0M360.5 115h0M361 97.5h0M361 101h0M361 102h0M361 103.5h0M361 106.5h0M361 107h0M361 107.5h0M361 108h0M361 112.5h0M361 115h0M361 119h0M361.5 95h0M361.5 97.5h0M361.5 100h0M361.5 100.5h0M361.5 102.5h0M361.5 103.5h0M361.5 104.5h0M361.5 105.5h0M361.5 106h0M361.5 107h0M361.5 108h0M361.5 109h0M361.5 110h0M361.5 110.5h0M361.5 111h0M361.5 113h0M361.5 114.5h0M362 91h0M362 99h0M362 101h0M362 102h0M362 103.5h0M362 104.5h0M362 105h0M362 107h0M362 108.5h0M362 110h0M362 114.5h0M362 121h0M362.5 98.5h0M362.5 100.5h0M362.5 101h0M362.5 101.5h0M362.5 102h0M362.5 102.5h0M362.5 104h0M362.5 104.5h0M362.5 105h0M362.5 106h0M362.5 106.5h0M362.5 107.5h0M362.5 110.5h0M362.5 111h0M362.5 112.5h0M362.5 113.5h0M363 79h0M363 97h0M363 103.5h0M363 104h0M363 104.5h0M363 105.5h0M363 106h0M363 112.5h0M363 113.5h0M363 114.5h0M363 116h0M363 117.5h0M363.5 90.5h0M363.5 95.5h0M363.5 96h0M363.5 97h0M363.5 100h0M363.5 102h0M363.5 104h0M363.5 104.5h0M363.5 105h0M363.5 109.5h0M364 96.5h0M364 97.5h0M364 98.5h0M364 99.5h0M364 100h0M364 101.5h0M364 102h0M364 105h0M364 105.5h0M364 107h0M364 107.5h0M364 108h0M364 108.5h0M364 109h0M364 109.5h0M364 113.5h0M364.5 96h0M364.5 97h0M364.5 98h0M364.5 101h0M364.5 103h0M364.5 103.5h0M364.5 105.5h0M364.5 106.5h0M364.5 108h0M364.5 109.5h0M364.5 112h0M364.5 120h0M365 93.5h0M365 94.5h0M365 97h0M365 99.5h0M365 100.5h0M365 101.5h0M365 102h0M365 104h0M365 107h0M365.5 96.5h0M365.5 97h0M365.5 98h0M365.5 102.5h0M365.5 103h0M365.5 103.5h0M365.5 104.5h0M366 92.5h0M366 93.5h0M366 94h0M366 97h0M366 98.5h0M366 101h0M366 102.5h0M366 103h0M366 103.5h0M366 104h0M366 108.5h0M366.5 95h0M366.5 95.5h0M366.5 96.5h0M366.5 97.5h0M366.5 98.5h0M366.5 99.5h0M366.5 104.5h0M366.5 105h0M366.5 105.5h0M366.5 108h0M366.5 113h0M366.5 114h0M367 89h0M367 94.5h0M367 96h0M367 97.5h0M367 100.5h0M367.5 94.5h0M367.5 96h0M367.5 99h0M367.5 100h0M367.5 100.5h0M367.5 101h0M367.5 105h0M367.5 110h0M368 90.5h0M368 92h0M368 92.5h0M368 95h0M368 96.5h0M368 98.5h0M368 99h0M368 99.5h0M368 100h0M368 101.5h0M368 102h0M368 103h0M368 104h0M368 105h0M368.5 79.5h0M368.5 94h0M368.5 96.5h0M368.5 97h0M368.5 97.5h0M368.5 98.5h0M368.5 103h0M368.5 104h0M368.5 105.5h0M368.5 110h0M369 93.5h0M369 98.5h0M369 99.5h0M369 100.5h0M369 101h0M369.5 90.5h0M369.5 92.5h0M369.5 93.5h0M369.5 94.5h0M369.5 95.5h0M369.5 98.5h0M369.5 99h0M369.5 100.5h0M369.5 103.5h0M369.5 106.5h0M370 92h0M370 96h0M370 97h0M370 99h0M370 101.5h0M370 103h0M370 105.5h0M370 110h0M370.5 89h0M370.5 91.5h0M370.5 93h0M370.5 96h0M370.5 100h0M370.5 100.5h0M370.5 108.5h0M371 94.5h0M371 99.5h0M371 100.5h0M371 101h0M371 104h0M371 105h0M371.5 93.5h0M371.5 97h0M371.5 98.5h0M371.5 107h0M372 90.5h0M372 91h0M372 92.5h0M372 93.5h0M372 94.5h0M372 96h0M372 98h0M372 99.5h0M372 101.5h0M372 104h0M372.5 89.5h0M372.5 90h0M372.5 93h0M372.5 94h0M372.5 98h0M373 91.5h0M373 97.5h0M373 98h0M373 101.5h0M373.5 91h0M373.5 92.5h0M374 87h0M374 93.5h0M374 98.5h0M374.5 85.5h0M374.5 92h0M374.5 96h0M374.5 97h0M375 79h0M375 86.5h0M375 91.5h0M375 96.5h0M375 104.5h0M375.5 85h0M375.5 93.5h0M375.5 95.5h0M375.5 97.5h0M376 82.5h0M376 93.5h0M376 94h0M376 96h0M376 96.5h0M376 100h0M376.5 87.5h0M376.5 91.5h0M376.5 93h0M376.5 98.5h0M377 89h0M377 89.5h0M377 92.5h0M377 99h0M377.5 90.5h0M377.5 99h0M378 84h0M378 90.5h0M378 91.5h0M378.5 90h0M378.5 91.5h0M379 87.5h0M379 91.5h0M379 93.5h0M379 99h0M379.5 85h0M379.5 86h0M379.5 88.5h0M380 83.5h0M380 87.5h0M380 88h0M380 94h0M380.5 90h0M381 89.5h0M381 97.5h0M381.5 85.5h0M381.5 87.5h0M381.5 88.5h0M381.5 91h0M382 90h0M382 92.5h0M382 93h0M382.5 88h0M382.5 89h0M382.5 90.5h0M383 85h0M383 94.5h0M383.5 84.5h0M383.5 86h0M383.5 87.5h0M383.5 90.5h0M383.5 93.5h0M384 83h0M384.5 83.5h0M384.5 88.5h0M384.5 95h0M385 83.5h0M385 86h0M385 96.5h0M385.5 85.5h0M385.5 88h0M386 85.5h0M386 87h0M386.5 82h0M386.5 87h0M386.5 89.5h0M386.5 92.5h0M387.5 79.5h0M387.5 80h0M387.5 82h0M388 76.5h0M388 80.5h0M388.5 81h0M389 79.5h0M389 87.5h0M389.5 75h0M389.5 86h0M390 80.5h0M390 82.5h0M391.5 85h0M392.5 79.5h0M393.5 76h0M393.5 79h0M394 76.5h0M395 77.5h0M395.5 80h0M397.5 78.5h0M398 76h0M398 77.5h0" stroke="#1f77b4" stroke-width="1.4" stroke-linecap="round" fill="none"/><path d="M405.58 56.19h0M424.18 59.24h0M422.67 62.69h0M414.38 68.38h0M408.1 65.94h0M408.6 73.26h0M401.31 72.04h0M399.8 63.51h0M401.81 99.68h0M403.82 108.82h0M389 109.43h0M396.03 80.37h0M365.12 77.93h0M374.92 118.17h0M368.89 134.02h0M362.86 133h0" stroke="#1f77b4" stroke-width="1.7" stroke-linecap="round" fill="none"/><path d="M312.6 144.38L463.38 22.46" stroke="#e8141c" stroke-width="1.1" fill="none"/></g><rect x="305.6" y="15.75" width="165.7" height="134.65" fill="none" stroke="#8e8e8e" stroke-width="1"/><g fill="#000"><text x="309.55" y="161.9" font-size="10.08" textLength="6.11" lengthAdjust="spacingAndGlyphs">0</text></g><g fill="#000"><text x="334.68" y="161.9" font-size="10.08" textLength="6.11" lengthAdjust="spacingAndGlyphs">1</text></g><g fill="#000"><text x="359.81" y="161.9" font-size="10.08" textLength="6.11" lengthAdjust="spacingAndGlyphs">2</text></g><g fill="#000"><text x="384.94" y="161.9" font-size="10.08" textLength="6.11" lengthAdjust="spacingAndGlyphs">3</text></g><g fill="#000"><text x="410.07" y="161.9" font-size="10.08" textLength="6.11" lengthAdjust="spacingAndGlyphs">4</text></g><g fill="#000"><text x="435.2" y="161.9" font-size="10.08" textLength="6.11" lengthAdjust="spacingAndGlyphs">5</text></g><g fill="#000"><text x="460.33" y="161.9" font-size="10.08" textLength="6.11" lengthAdjust="spacingAndGlyphs">6</text></g><path d="M312.6 150.4v2.0M337.73 150.4v2.0M362.86 150.4v2.0M387.99 150.4v2.0M413.12 150.4v2.0M438.25 150.4v2.0M463.38 150.4v2.0" stroke="#8e8e8e" stroke-width="1" fill="none"/><g fill="#000"><text x="295.19" y="147.88" font-size="10.08" textLength="6.11" lengthAdjust="spacingAndGlyphs">0</text></g><g fill="#000"><text x="295.19" y="127.56" font-size="10.08" textLength="6.11" lengthAdjust="spacingAndGlyphs">1</text></g><g fill="#000"><text x="295.19" y="107.24" font-size="10.08" textLength="6.11" lengthAdjust="spacingAndGlyphs">2</text></g><g fill="#000"><text x="295.19" y="86.92" font-size="10.08" textLength="6.11" lengthAdjust="spacingAndGlyphs">3</text></g><g fill="#000"><text x="295.19" y="66.6" font-size="10.08" textLength="6.11" lengthAdjust="spacingAndGlyphs">4</text></g><g fill="#000"><text x="295.19" y="46.28" font-size="10.08" textLength="6.11" lengthAdjust="spacingAndGlyphs">5</text></g><g fill="#000"><text x="295.19" y="25.96" font-size="10.08" textLength="6.11" lengthAdjust="spacingAndGlyphs">6</text></g><path d="M305.6 144.38h-2.0M305.6 124.06h-2.0M305.6 103.74h-2.0M305.6 83.42h-2.0M305.6 63.1h-2.0M305.6 42.78h-2.0M305.6 22.46h-2.0" stroke="#8e8e8e" stroke-width="1" fill="none"/><g fill="#000"><text x="348.86" y="13.2" font-size="12.6" textLength="30.62" lengthAdjust="spacingAndGlyphs">BMI (</text><text x="379.49" y="13.2" font-size="12.6" font-style="italic" textLength="7.1" lengthAdjust="spacingAndGlyphs">γ</text><text x="390.4" y="13.2" font-size="12.6" textLength="10.05" lengthAdjust="spacingAndGlyphs">=</text><text x="404.27" y="13.2" font-size="12.6" textLength="19.08" lengthAdjust="spacingAndGlyphs">0.1</text><text x="423.35" y="13.2" font-size="12.6" textLength="4.68" lengthAdjust="spacingAndGlyphs">)</text></g><g fill="#000"><text x="312.8" y="28.4" font-size="7.67" font-style="italic" textLength="4.63" lengthAdjust="spacingAndGlyphs">ρ</text><text x="319.75" y="28.4" font-size="7.67" textLength="6.12" lengthAdjust="spacingAndGlyphs">=</text><text x="330.51" y="28.4" font-size="7.67" textLength="25.54" lengthAdjust="spacingAndGlyphs">0.9431</text></g><g fill="#000"><text x="357.69" y="174.5" font-size="12.18" font-style="italic" textLength="7.36" lengthAdjust="spacingAndGlyphs">p</text><text x="368.74" y="174.5" font-size="12.18" textLength="4.53" lengthAdjust="spacingAndGlyphs">(</text><text x="373.26" y="174.5" font-size="12.18" textLength="9.72" lengthAdjust="spacingAndGlyphs">−</text><text x="382.98" y="174.5" font-size="12.18" textLength="17.68" lengthAdjust="spacingAndGlyphs">log</text><text x="400.67" y="176.82" font-size="8.53" textLength="10.33" lengthAdjust="spacingAndGlyphs">10</text><text x="414.69" y="174.5" font-size="12.18" textLength="4.53" lengthAdjust="spacingAndGlyphs">)</text></g><g transform="rotate(-90 289.1 84.58)" fill="#000"><text x="257.54" y="84.58" font-size="12.5" font-style="italic" textLength="7.55" lengthAdjust="spacingAndGlyphs">p̃</text><text x="268.88" y="84.58" font-size="12.5" textLength="4.64" lengthAdjust="spacingAndGlyphs">(</text><text x="273.52" y="84.58" font-size="12.5" textLength="9.97" lengthAdjust="spacingAndGlyphs">−</text><text x="283.49" y="84.58" font-size="12.5" textLength="18.14" lengthAdjust="spacingAndGlyphs">log</text><text x="301.63" y="86.95" font-size="8.75" textLength="10.6" lengthAdjust="spacingAndGlyphs">10</text><text x="316.02" y="84.58" font-size="12.5" textLength="4.64" lengthAdjust="spacingAndGlyphs">)</text></g><clipPath id="cb2"><rect x="519.6" y="15.75" width="164.7" height="134.65"/></clipPath><g clip-path="url(#cb2)"><path d="M526.5 140.5h0M526.5 141.5h0M526.5 142.5h0M526.5 143h0M526.5 143.5h0M526.5 144h0M526.5 144.5h0M527 139h0M527 140.5h0M527 141h0M527 141.5h0M527 142h0M527 142.5h0M527 143h0M527 143.5h0M527 144h0M527 144.5h0M527.5 138.5h0M527.5 140h0M527.5 140.5h0M527.5 141h0M527.5 141.5h0M527.5 142h0M527.5 142.5h0M527.5 143h0M527.5 143.5h0M527.5 144h0M527.5 144.5h0M528 137.5h0M528 138h0M528 138.5h0M528 139h0M528 139.5h0M528 140h0M528 140.5h0M528 141h0M528 141.5h0M528 142h0M528 142.5h0M528 143h0M528 143.5h0M528 144h0M528 144.5h0M528.5 136.5h0M528.5 137h0M528.5 137.5h0M528.5 138h0M528.5 138.5h0M528.5 139h0M528.5 139.5h0M528.5 140h0M528.5 140.5h0M528.5 141h0M528.5 141.5h0M528.5 142h0M528.5 142.5h0M528.5 143h0M528.5 143.5h0M528.5 144h0M528.5 144.5h0M529 131h0M529 134h0M529 136h0M529 137h0M529 137.5h0M529 138h0M529 138.5h0M529 139h0M529 139.5h0M529 140h0M529 140.5h0M529 141h0M529 141.5h0M529 142h0M529 142.5h0M529 143h0M529 143.5h0M529 144h0M529 144.5h0M529.5 132.5h0M529.5 133h0M529.5 135.5h0M529.5 136h0M529.5 136.5h0M529.5 137h0M529.5 137.5h0M529.5 138h0M529.5 138.5h0M529.5 139h0M529.5 139.5h0M529.5 140h0M529.5 140.5h0M529.5 141h0M529.5 141.5h0M529.5 142h0M529.5 142.5h0M529.5 143h0M529.5 143.5h0M529.5 144h0M529.5 144.5h0M530 132.5h0M530 133h0M530 133.5h0M530 134h0M530 134.5h0M530 135.5h0M530 136h0M530 136.5h0M530 137h0M530 137.5h0M530 138h0M530 138.5h0M530 139h0M530 139.5h0M530 140h0M530 140.5h0M530 141h0M530 141.5h0M530 142h0M530 142.5h0M530 143h0M530 143.5h0M530 144h0M530 144.5h0M530.5 133h0M530.5 133.5h0M530.5 134.5h0M530.5 135h0M530.5 135.5h0M530.5 136h0M530.5 136.5h0M530.5 137h0M530.5 137.5h0M530.5 138h0M530.5 138.5h0M530.5 139h0M530.5 139.5h0M530.5 140h0M530.5 140.5h0M530.5 141h0M530.5 141.5h0M530.5 142h0M530.5 142.5h0M530.5 143h0M530.5 143.5h0M530.5 144h0M530.5 144.5h0M531 131h0M531 133.5h0M531 134h0M531 134.5h0M531 135h0M531 135.5h0M531 136h0M531 136.5h0M531 137h0M531 137.5h0M531 138h0M531 138.5h0M531 139h0M531 139.5h0M531 140h0M531 140.5h0M531 141h0M531 141.5h0M531 142h0M531 142.5h0M531 143h0M531 143.5h0M531 144h0M531 144.5h0M531.5 130.5h0M531.5 132.5h0M531.5 133h0M531.5 133.5h0M531.5 134h0M531.5 134.5h0M531.5 135h0M531.5 135.5h0M531.5 136h0M531.5 136.5h0M531.5 137h0M531.5 137.5h0M531.5 138h0M531.5 138.5h0M531.5 139h0M531.5 139.5h0M531.5 140h0M531.5 140.5h0M531.5 141h0M531.5 141.5h0M531.5 142h0M531.5 142.5h0M531.5 143h0M531.5 143.5h0M531.5 144h0M531.5 144.5h0M532 127h0M532 128h0M532 130.5h0M532 131h0M532 131.5h0M532 132.5h0M532 133h0M532 133.5h0M532 134h0M532 134.5h0M532 135h0M532 135.5h0M532 136h0M532 136.5h0M532 137h0M532 137.5h0M532 138h0M532 138.5h0M532 139h0M532 139.5h0M532 140h0M532 140.5h0M532 141h0M532 141.5h0M532 142h0M532 142.5h0M532 143h0M532 143.5h0M532 144h0M532 144.5h0M532.5 125.5h0M532.5 130.5h0M532.5 131h0M532.5 131.5h0M532.5 132h0M532.5 132.5h0M532.5 133h0M532.5 133.5h0M532.5 134h0M532.5 134.5h0M532.5 135h0M532.5 135.5h0M532.5 136h0M532.5 136.5h0M532.5 137h0M532.5 137.5h0M532.5 138h0M532.5 138.5h0M532.5 139h0M532.5 139.5h0M532.5 140h0M532.5 140.5h0M532.5 141h0M532.5 141.5h0M532.5 142h0M532.5 142.5h0M532.5 143h0M532.5 143.5h0M532.5 144h0M532.5 144.5h0M533 127h0M533 128.5h0M533 129h0M533 130h0M533 130.5h0M533 131h0M533 131.5h0M533 132h0M533 132.5h0M533 133h0M533 133.5h0M533 134h0M533 134.5h0M533 135h0M533 135.5h0M533 136h0M533 136.5h0M533 137h0M533 137.5h0M533 138h0M533 138.5h0M533 139h0M533 139.5h0M533 140h0M533 140.5h0M533 141h0M533 141.5h0M533 142h0M533 142.5h0M533 143h0M533 143.5h0M533 144h0M533 144.5h0M533.5 124.5h0M533.5 128h0M533.5 128.5h0M533.5 129h0M533.5 130h0M533.5 130.5h0M533.5 131h0M533.5 131.5h0M533.5 132h0M533.5 132.5h0M533.5 133h0M533.5 133.5h0M533.5 134h0M533.5 134.5h0M533.5 135h0M533.5 135.5h0M533.5 136h0M533.5 136.5h0M533.5 137h0M533.5 137.5h0M533.5 138h0M533.5 138.5h0M533.5 139h0M533.5 139.5h0M533.5 140h0M533.5 140.5h0M533.5 141h0M533.5 141.5h0M533.5 142h0M533.5 142.5h0M533.5 143h0M533.5 143.5h0M533.5 144h0M533.5 144.5h0M534 128.5h0M534 129.5h0M534 130.5h0M534 131h0M534 131.5h0M534 132h0M534 132.5h0M534 133h0M534 133.5h0M534 134h0M534 134.5h0M534 135h0M534 135.5h0M534 136h0M534 136.5h0M534 137h0M534 137.5h0M534 138h0M534 138.5h0M534 139h0M534 139.5h0M534 140h0M534 140.5h0M534 141h0M534 141.5h0M534 142h0M534 142.5h0M534 143h0M534 143.5h0M534 144h0M534 144.5h0M534.5 123.5h0M534.5 127h0M534.5 128h0M534.5 128.5h0M534.5 129h0M534.5 130h0M534.5 130.5h0M534.5 131h0M534.5 131.5h0M534.5 132h0M534.5 132.5h0M534.5 133h0M534.5 133.5h0M534.5 134h0M534.5 134.5h0M534.5 135h0M534.5 135.5h0M534.5 136h0M534.5 136.5h0M534.5 137h0M534.5 137.5h0M534.5 138h0M534.5 138.5h0M534.5 139h0M534.5 139.5h0M534.5 140h0M534.5 140.5h0M534.5 141h0M534.5 141.5h0M534.5 142h0M534.5 142.5h0M534.5 143h0M534.5 143.5h0M534.5 144h0M534.5 144.5h0M535 125.5h0M535 126.5h0M535 127.5h0M535 128h0M535 128.5h0M535 129h0M535 129.5h0M535 130h0M535 130.5h0M535 131h0M535 131.5h0M535 132h0M535 132.5h0M535 133h0M535 133.5h0M535 134h0M535 134.5h0M535 135h0M535 135.5h0M535 136h0M535 136.5h0M535 137h0M535 137.5h0M535 138h0M535 138.5h0M535 139h0M535 139.5h0M535 140h0M535 140.5h0M535 141h0M535 141.5h0M535 142h0M535 142.5h0M535 143h0M535 143.5h0M535 144h0M535 144.5h0M535.5 124h0M535.5 125h0M535.5 125.5h0M535.5 126h0M535.5 127h0M535.5 127.5h0M535.5 128.5h0M535.5 129h0M535.5 129.5h0M535.5 130h0M535.5 130.5h0M535.5 131h0M535.5 131.5h0M535.5 132h0M535.5 132.5h0M535.5 133h0M535.5 133.5h0M535.5 134h0M535.5 134.5h0M535.5 135h0M535.5 135.5h0M535.5 136h0M535.5 136.5h0M535.5 137h0M535.5 137.5h0M535.5 138h0M535.5 138.5h0M535.5 139h0M535.5 139.5h0M535.5 140h0M535.5 140.5h0M535.5 141h0M535.5 141.5h0M535.5 142h0M535.5 142.5h0M535.5 143h0M535.5 143.5h0M535.5 144h0M535.5 144.5h0M536 116h0M536 119.5h0M536 122h0M536 124h0M536 126h0M536 126.5h0M536 127h0M536 127.5h0M536 128h0M536 128.5h0M536 129h0M536 129.5h0M536 130h0M536 130.5h0M536 131h0M536 131.5h0M536 132h0M536 132.5h0M536 133h0M536 133.5h0M536 134h0M536 134.5h0M536 135h0M536 135.5h0M536 136h0M536 136.5h0M536 137h0M536 137.5h0M536 138h0M536 138.5h0M536 139h0M536 139.5h0M536 140h0M536 140.5h0M536 141h0M536 141.5h0M536 142h0M536 142.5h0M536 143h0M536 143.5h0M536 144h0M536 144.5h0M536.5 119h0M536.5 122.5h0M536.5 123.5h0M536.5 124.5h0M536.5 125.5h0M536.5 126h0M536.5 126.5h0M536.5 127h0M536.5 127.5h0M536.5 128h0M536.5 128.5h0M536.5 129h0M536.5 129.5h0M536.5 130h0M536.5 130.5h0M536.5 131h0M536.5 131.5h0M536.5 132h0M536.5 132.5h0M536.5 133h0M536.5 133.5h0M536.5 134h0M536.5 134.5h0M536.5 135h0M536.5 135.5h0M536.5 136h0M536.5 136.5h0M536.5 137h0M536.5 137.5h0M536.5 138h0M536.5 138.5h0M536.5 139h0M536.5 139.5h0M536.5 140h0M536.5 140.5h0M536.5 141h0M536.5 141.5h0M536.5 142h0M536.5 142.5h0M536.5 143h0M536.5 143.5h0M536.5 144h0M536.5 144.5h0M537 121h0M537 123h0M537 124h0M537 124.5h0M537 125h0M537 125.5h0M537 126h0M537 126.5h0M537 127h0M537 127.5h0M537 128h0M537 128.5h0M537 129h0M537 129.5h0M537 130h0M537 130.5h0M537 131h0M537 131.5h0M537 132h0M537 132.5h0M537 133h0M537 133.5h0M537 134h0M537 134.5h0M537 135h0M537 135.5h0M537 136h0M537 136.5h0M537 137h0M537 137.5h0M537 138h0M537 138.5h0M537 139h0M537 139.5h0M537 140h0M537 140.5h0M537 141h0M537 141.5h0M537 142h0M537 142.5h0M537 143h0M537 143.5h0M537 144h0M537 144.5h0M537.5 124.5h0M537.5 125h0M537.5 125.5h0M537.5 126h0M537.5 127h0M537.5 127.5h0M537.5 128.5h0M537.5 129h0M537.5 129.5h0M537.5 130h0M537.5 130.5h0M537.5 131h0M537.5 131.5h0M537.5 132h0M537.5 132.5h0M537.5 133h0M537.5 133.5h0M537.5 134h0M537.5 134.5h0M537.5 135h0M537.5 135.5h0M537.5 136h0M537.5 136.5h0M537.5 137h0M537.5 137.5h0M537.5 138h0M537.5 138.5h0M537.5 139h0M537.5 139.5h0M537.5 140h0M537.5 140.5h0M537.5 141h0M537.5 141.5h0M537.5 142h0M537.5 142.5h0M537.5 143h0M537.5 143.5h0M537.5 144h0M537.5 144.5h0M538 115h0M538 119.5h0M538 121h0M538 122h0M538 122.5h0M538 124h0M538 124.5h0M538 125.5h0M538 126h0M538 126.5h0M538 127h0M538 127.5h0M538 128h0M538 128.5h0M538 129h0M538 129.5h0M538 130h0M538 130.5h0M538 131h0M538 131.5h0M538 132h0M538 132.5h0M538 133h0M538 133.5h0M538 134h0M538 134.5h0M538 135h0M538 135.5h0M538 136h0M538 136.5h0M538 137h0M538 137.5h0M538 138h0M538 138.5h0M538 139h0M538 139.5h0M538 140h0M538 140.5h0M538 141h0M538 141.5h0M538 142h0M538 142.5h0M538 143h0M538 143.5h0M538 144h0M538 144.5h0M538.5 118.5h0M538.5 121h0M538.5 122.5h0M538.5 124h0M538.5 124.5h0M538.5 125h0M538.5 125.5h0M538.5 126h0M538.5 126.5h0M538.5 127h0M538.5 127.5h0M538.5 128h0M538.5 128.5h0M538.5 129h0M538.5 129.5h0M538.5 130h0M538.5 130.5h0M538.5 131h0M538.5 131.5h0M538.5 132h0M538.5 132.5h0M538.5 133h0M538.5 133.5h0M538.5 134h0M538.5 134.5h0M538.5 135h0M538.5 135.5h0M538.5 136h0M538.5 136.5h0M538.5 137h0M538.5 137.5h0M538.5 138h0M538.5 138.5h0M538.5 139h0M538.5 139.5h0M538.5 140h0M538.5 140.5h0M538.5 141h0M538.5 141.5h0M538.5 142h0M538.5 142.5h0M538.5 143h0M538.5 143.5h0M538.5 144h0M539 118h0M539 119.5h0M539 120.5h0M539 121h0M539 122h0M539 122.5h0M539 123.5h0M539 124.5h0M539 125h0M539 125.5h0M539 126h0M539 126.5h0M539 127h0M539 127.5h0M539 128h0M539 128.5h0M539 129h0M539 129.5h0M539 130h0M539 130.5h0M539 131h0M539 131.5h0M539 132h0M539 132.5h0M539 133h0M539 133.5h0M539 134h0M539 134.5h0M539 135h0M539 135.5h0M539 136h0M539 136.5h0M539 137h0M539 137.5h0M539 138h0M539 138.5h0M539 139h0M539 139.5h0M539 140h0M539 140.5h0M539 141h0M539 141.5h0M539 142h0M539 142.5h0M539 143h0M539 143.5h0M539 144h0M539 144.5h0M539.5 115h0M539.5 116h0M539.5 119.5h0M539.5 120h0M539.5 121h0M539.5 123h0M539.5 123.5h0M539.5 124h0M539.5 124.5h0M539.5 125h0M539.5 125.5h0M539.5 126h0M539.5 126.5h0M539.5 127h0M539.5 127.5h0M539.5 128h0M539.5 128.5h0M539.5 129h0M539.5 129.5h0M539.5 130h0M539.5 130.5h0M539.5 131h0M539.5 131.5h0M539.5 132h0M539.5 132.5h0M539.5 133h0M539.5 133.5h0M539.5 134h0M539.5 134.5h0M539.5 135h0M539.5 135.5h0M539.5 136h0M539.5 136.5h0M539.5 137h0M539.5 137.5h0M539.5 138h0M539.5 138.5h0M539.5 139h0M539.5 139.5h0M539.5 140h0M539.5 140.5h0M539.5 141h0M539.5 141.5h0M539.5 142h0M539.5 142.5h0M539.5 143h0M539.5 143.5h0M539.5 144.5h0M540 114.5h0M540 117.5h0M540 119h0M540 120.5h0M540 121.5h0M540 123h0M540 123.5h0M540 124h0M540 124.5h0M540 125h0M540 125.5h0M540 126h0M540 126.5h0M540 127h0M540 127.5h0M540 128h0M540 128.5h0M540 129h0M540 129.5h0M540 130h0M540 130.5h0M540 131h0M540 131.5h0M540 132h0M540 132.5h0M540 133h0M540 133.5h0M540 134h0M540 134.5h0M540 135h0M540 135.5h0M540 136h0M540 136.5h0M540 137h0M540 137.5h0M540 138h0M540 138.5h0M540 139h0M540 139.5h0M540 140h0M540 140.5h0M540 141h0M540 141.5h0M540 142h0M540 142.5h0M540 143h0M540 143.5h0M540 144h0M540 144.5h0M540.5 119.5h0M540.5 121.5h0M540.5 122.5h0M540.5 123h0M540.5 123.5h0M540.5 124h0M540.5 124.5h0M540.5 125h0M540.5 125.5h0M540.5 126h0M540.5 126.5h0M540.5 127h0M540.5 127.5h0M540.5 128h0M540.5 128.5h0M540.5 129h0M540.5 129.5h0M540.5 130h0M540.5 130.5h0M540.5 131h0M540.5 131.5h0M540.5 132h0M540.5 132.5h0M540.5 133h0M540.5 133.5h0M540.5 134h0M540.5 134.5h0M540.5 135h0M540.5 135.5h0M540.5 136h0M540.5 136.5h0M540.5 137h0M540.5 137.5h0M540.5 138h0M540.5 138.5h0M540.5 139h0M540.5 139.5h0M540.5 140h0M540.5 140.5h0M540.5 141h0M540.5 141.5h0M540.5 142h0M540.5 142.5h0M540.5 143h0M540.5 143.5h0M541 113.5h0M541 116.5h0M541 120h0M541 121h0M541 121.5h0M541 123h0M541 123.5h0M541 124h0M541 124.5h0M541 125h0M541 125.5h0M541 126h0M541 126.5h0M541 127h0M541 127.5h0M541 128h0M541 128.5h0M541 129h0M541 129.5h0M541 130h0M541 130.5h0M541 131h0M541 131.5h0M541 132h0M541 132.5h0M541 133h0M541 133.5h0M541 134h0M541 134.5h0M541 135h0M541 135.5h0M541 136h0M541 136.5h0M541 137h0M541 137.5h0M541 138h0M541 138.5h0M541 139h0M541 139.5h0M541 140h0M541 140.5h0M541 141h0M541 141.5h0M541 142h0M541 142.5h0M541 143h0M541 143.5h0M541 144h0M541.5 116h0M541.5 117h0M541.5 118.5h0M541.5 119h0M541.5 119.5h0M541.5 121h0M541.5 121.5h0M541.5 122h0M541.5 122.5h0M541.5 123h0M541.5 123.5h0M541.5 124h0M541.5 124.5h0M541.5 125h0M541.5 125.5h0M541.5 126h0M541.5 126.5h0M541.5 127h0M541.5 127.5h0M541.5 128h0M541.5 128.5h0M541.5 129h0M541.5 129.5h0M541.5 130h0M541.5 130.5h0M541.5 131h0M541.5 131.5h0M541.5 132h0M541.5 132.5h0M541.5 133h0M541.5 133.5h0M541.5 134h0M541.5 134.5h0M541.5 135h0M541.5 135.5h0M541.5 136h0M541.5 136.5h0M541.5 137h0M541.5 137.5h0M541.5 138h0M541.5 138.5h0M541.5 139h0M541.5 139.5h0M541.5 140h0M541.5 140.5h0M541.5 141h0M541.5 141.5h0M541.5 142h0M541.5 142.5h0M541.5 143h0M541.5 143.5h0M542 115h0M542 118.5h0M542 119h0M542 121.5h0M542 122h0M542 122.5h0M542 123.5h0M542 124h0M542 124.5h0M542 125.5h0M542 126h0M542 126.5h0M542 127h0M542 127.5h0M542 128h0M542 128.5h0M542 129h0M542 129.5h0M542 130h0M542 130.5h0M542 131h0M542 131.5h0M542 132h0M542 132.5h0M542 133h0M542 133.5h0M542 134h0M542 134.5h0M542 135h0M542 135.5h0M542 136h0M542 136.5h0M542 137h0M542 137.5h0M542 138h0M542 138.5h0M542 139h0M542 139.5h0M542 140h0M542 140.5h0M542 141h0M542 141.5h0M542 142h0M542 142.5h0M542 143h0M542 143.5h0M542 144h0M542 144.5h0M542.5 114h0M542.5 114.5h0M542.5 115.5h0M542.5 117h0M542.5 117.5h0M542.5 118.5h0M542.5 119h0M542.5 119.5h0M542.5 120.5h0M542.5 121h0M542.5 121.5h0M542.5 122h0M542.5 122.5h0M542.5 123.5h0M542.5 124h0M542.5 124.5h0M542.5 125h0M542.5 125.5h0M542.5 126h0M542.5 126.5h0M542.5 127h0M542.5 127.5h0M542.5 128h0M542.5 128.5h0M542.5 129h0M542.5 129.5h0M542.5 130h0M542.5 130.5h0M542.5 131h0M542.5 131.5h0M542.5 132h0M542.5 132.5h0M542.5 133h0M542.5 133.5h0M542.5 134h0M542.5 134.5h0M542.5 135h0M542.5 135.5h0M542.5 136h0M542.5 136.5h0M542.5 137h0M542.5 137.5h0M542.5 138h0M542.5 138.5h0M542.5 139h0M542.5 139.5h0M542.5 140h0M542.5 140.5h0M542.5 141h0M542.5 141.5h0M542.5 142h0M542.5 142.5h0M542.5 143h0M542.5 144h0M542.5 144.5h0M543 112h0M543 112.5h0M543 115.5h0M543 117.5h0M543 118.5h0M543 119h0M543 119.5h0M543 120.5h0M543 121h0M543 121.5h0M543 122h0M543 122.5h0M543 123h0M543 123.5h0M543 124h0M543 124.5h0M543 125h0M543 125.5h0M543 126h0M543 126.5h0M543 127h0M543 127.5h0M543 128h0M543 128.5h0M543 129h0M543 129.5h0M543 130h0M543 130.5h0M543 131h0M543 131.5h0M543 132h0M543 132.5h0M543 133h0M543 133.5h0M543 134h0M543 134.5h0M543 135h0M543 135.5h0M543 136h0M543 136.5h0M543 137h0M543 137.5h0M543 138h0M543 138.5h0M543 139h0M543 139.5h0M543 140h0M543 140.5h0M543 141h0M543 141.5h0M543 142.5h0M543 143h0M543 143.5h0M543 144h0M543 144.5h0M543.5 114h0M543.5 116h0M543.5 118.5h0M543.5 119h0M543.5 120h0M543.5 121h0M543.5 121.5h0M543.5 122h0M543.5 122.5h0M543.5 123h0M543.5 123.5h0M543.5 124h0M543.5 124.5h0M543.5 125h0M543.5 125.5h0M543.5 126h0M543.5 126.5h0M543.5 127h0M543.5 127.5h0M543.5 128h0M543.5 128.5h0M543.5 129h0M543.5 129.5h0M543.5 130h0M543.5 130.5h0M543.5 131h0M543.5 131.5h0M543.5 132h0M543.5 132.5h0M543.5 133h0M543.5 133.5h0M543.5 134h0M543.5 134.5h0M543.5 135h0M543.5 135.5h0M543.5 136h0M543.5 136.5h0M543.5 137h0M543.5 137.5h0M543.5 138h0M543.5 138.5h0M543.5 139.5h0M543.5 140h0M543.5 141h0M543.5 141.5h0M543.5 143h0M543.5 143.5h0M543.5 144h0M544 108.5h0M544 114.5h0M544 115.5h0M544 116h0M544 118h0M544 119h0M544 119.5h0M544 120.5h0M544 121h0M544 121.5h0M544 122h0M544 122.5h0M544 123h0M544 123.5h0M544 124h0M544 124.5h0M544 125h0M544 125.5h0M544 126h0M544 126.5h0M544 127h0M544 127.5h0M544 128h0M544 128.5h0M544 129h0M544 129.5h0M544 130h0M544 130.5h0M544 131h0M544 131.5h0M544 132h0M544 132.5h0M544 133h0M544 133.5h0M544 134h0M544 134.5h0M544 135h0M544 135.5h0M544 136h0M544 136.5h0M544 137h0M544 137.5h0M544 138h0M544 138.5h0M544 139h0M544 139.5h0M544 140h0M544 141h0M544 141.5h0M544 142h0M544 143h0M544 143.5h0M544 144h0M544 144.5h0M544.5 107.5h0M544.5 109h0M544.5 114h0M544.5 114.5h0M544.5 119h0M544.5 119.5h0M544.5 120h0M544.5 120.5h0M544.5 121h0M544.5 121.5h0M544.5 122h0M544.5 122.5h0M544.5 123h0M544.5 123.5h0M544.5 124h0M544.5 124.5h0M544.5 125h0M544.5 125.5h0M544.5 126h0M544.5 126.5h0M544.5 127h0M544.5 127.5h0M544.5 128h0M544.5 128.5h0M544.5 129h0M544.5 129.5h0M544.5 130h0M544.5 130.5h0M544.5 131h0M544.5 131.5h0M544.5 132h0M544.5 132.5h0M544.5 133h0M544.5 133.5h0M544.5 134h0M544.5 134.5h0M544.5 135h0M544.5 135.5h0M544.5 136h0M544.5 136.5h0M544.5 137h0M544.5 137.5h0M544.5 138h0M544.5 138.5h0M544.5 139h0M544.5 139.5h0M544.5 140h0M544.5 140.5h0M544.5 141h0M544.5 142h0M544.5 143h0M544.5 144h0M544.5 144.5h0M545 109h0M545 113.5h0M545 116.5h0M545 118.5h0M545 119h0M545 119.5h0M545 120h0M545 121h0M545 121.5h0M545 122h0M545 122.5h0M545 123h0M545 123.5h0M545 124h0M545 124.5h0M545 125h0M545 125.5h0M545 126h0M545 126.5h0M545 127h0M545 127.5h0M545 128h0M545 128.5h0M545 129h0M545 129.5h0M545 130h0M545 130.5h0M545 131h0M545 131.5h0M545 132h0M545 132.5h0M545 133h0M545 133.5h0M545 134h0M545 134.5h0M545 135h0M545 135.5h0M545 136h0M545 136.5h0M545 137h0M545 137.5h0M545 138h0M545 138.5h0M545 139h0M545 139.5h0M545 140h0M545 140.5h0M545 141h0M545 141.5h0M545 142h0M545 142.5h0M545 143.5h0M545 144h0M545.5 107h0M545.5 107.5h0M545.5 111h0M545.5 111.5h0M545.5 117h0M545.5 118h0M545.5 118.5h0M545.5 119h0M545.5 119.5h0M545.5 120h0M545.5 120.5h0M545.5 121h0M545.5 121.5h0M545.5 122h0M545.5 122.5h0M545.5 123h0M545.5 123.5h0M545.5 124h0M545.5 124.5h0M545.5 125h0M545.5 125.5h0M545.5 126h0M545.5 126.5h0M545.5 127h0M545.5 127.5h0M545.5 128h0M545.5 128.5h0M545.5 129h0M545.5 129.5h0M545.5 130h0M545.5 130.5h0M545.5 131h0M545.5 131.5h0M545.5 132h0M545.5 132.5h0M545.5 133h0M545.5 133.5h0M545.5 134h0M545.5 134.5h0M545.5 135h0M545.5 135.5h0M545.5 136h0M545.5 136.5h0M545.5 137h0M545.5 137.5h0M545.5 138h0M545.5 138.5h0M545.5 139h0M545.5 139.5h0M545.5 140h0M545.5 140.5h0M545.5 141h0M545.5 142h0M545.5 142.5h0M545.5 143.5h0M545.5 144h0M546 106h0M546 108h0M546 111h0M546 112.5h0M546 115.5h0M546 116h0M546 117h0M546 117.5h0M546 118h0M546 118.5h0M546 119h0M546 119.5h0M546 120h0M546 120.5h0M546 121h0M546 121.5h0M546 122h0M546 122.5h0M546 123h0M546 123.5h0M546 124h0M546 124.5h0M546 125h0M546 125.5h0M546 126h0M546 126.5h0M546 127h0M546 127.5h0M546 128h0M546 128.5h0M546 129h0M546 129.5h0M546 130h0M546 130.5h0M546 131h0M546 131.5h0M546 132h0M546 132.5h0M546 133h0M546 133.5h0M546 134h0M546 134.5h0M546 135h0M546 136h0M546 136.5h0M546 137h0M546 137.5h0M546 138.5h0M546 139h0M546 140h0M546 140.5h0M546 141.5h0M546 142h0M546 143h0M546 144h0M546.5 108h0M546.5 110h0M546.5 111.5h0M546.5 112h0M546.5 113.5h0M546.5 115h0M546.5 116h0M546.5 116.5h0M546.5 117h0M546.5 118h0M546.5 118.5h0M546.5 119.5h0M546.5 120h0M546.5 120.5h0M546.5 121h0M546.5 121.5h0M546.5 122h0M546.5 122.5h0M546.5 123h0M546.5 123.5h0M546.5 124h0M546.5 124.5h0M546.5 125h0M546.5 125.5h0M546.5 126h0M546.5 126.5h0M546.5 127h0M546.5 127.5h0M546.5 128h0M546.5 128.5h0M546.5 129h0M546.5 129.5h0M546.5 130h0M546.5 130.5h0M546.5 131h0M546.5 131.5h0M546.5 132h0M546.5 132.5h0M546.5 133h0M546.5 133.5h0M546.5 134h0M546.5 134.5h0M546.5 135h0M546.5 135.5h0M546.5 136h0M546.5 136.5h0M546.5 137h0M546.5 137.5h0M546.5 138h0M546.5 139.5h0M546.5 140h0M546.5 140.5h0M546.5 141.5h0M546.5 142h0M547 110h0M547 112h0M547 114h0M547 114.5h0M547 115.5h0M547 116h0M547 117h0M547 117.5h0M547 118h0M547 118.5h0M547 119h0M547 119.5h0M547 120h0M547 120.5h0M547 121h0M547 121.5h0M547 122h0M547 122.5h0M547 123h0M547 123.5h0M547 124h0M547 124.5h0M547 125h0M547 125.5h0M547 126h0M547 126.5h0M547 127h0M547 127.5h0M547 128h0M547 128.5h0M547 129h0M547 129.5h0M547 130h0M547 130.5h0M547 131h0M547 131.5h0M547 132h0M547 132.5h0M547 133h0M547 133.5h0M547 134h0M547 134.5h0M547 135h0M547 135.5h0M547 136h0M547 137h0M547 137.5h0M547 138h0M547 139h0M547 139.5h0M547 140h0M547 140.5h0M547 141.5h0M547 142h0M547 143.5h0M547 144h0M547.5 107h0M547.5 107.5h0M547.5 112h0M547.5 113h0M547.5 113.5h0M547.5 114h0M547.5 114.5h0M547.5 115h0M547.5 116h0M547.5 116.5h0M547.5 117h0M547.5 117.5h0M547.5 118h0M547.5 118.5h0M547.5 119h0M547.5 119.5h0M547.5 120h0M547.5 120.5h0M547.5 121h0M547.5 121.5h0M547.5 122h0M547.5 122.5h0M547.5 123h0M547.5 123.5h0M547.5 124h0M547.5 124.5h0M547.5 125h0M547.5 125.5h0M547.5 126h0M547.5 126.5h0M547.5 127h0M547.5 127.5h0M547.5 128h0M547.5 128.5h0M547.5 129h0M547.5 129.5h0M547.5 130h0M547.5 130.5h0M547.5 131h0M547.5 131.5h0M547.5 132h0M547.5 132.5h0M547.5 133h0M547.5 133.5h0M547.5 134h0M547.5 134.5h0M547.5 135h0M547.5 136h0M547.5 136.5h0M547.5 137.5h0M547.5 138h0M547.5 138.5h0M547.5 140.5h0M547.5 141.5h0M547.5 142.5h0M547.5 143h0M547.5 143.5h0M548 104.5h0M548 105.5h0M548 110.5h0M548 113.5h0M548 114h0M548 116h0M548 116.5h0M548 118h0M548 118.5h0M548 119h0M548 119.5h0M548 120h0M548 120.5h0M548 121h0M548 121.5h0M548 122h0M548 122.5h0M548 123h0M548 123.5h0M548 124h0M548 124.5h0M548 125h0M548 125.5h0M548 126h0M548 126.5h0M548 127h0M548 127.5h0M548 128h0M548 128.5h0M548 129h0M548 129.5h0M548 130h0M548 130.5h0M548 131h0M548 131.5h0M548 132h0M548 132.5h0M548 133h0M548 133.5h0M548 134h0M548 135h0M548 135.5h0M548 136h0M548 136.5h0M548 137h0M548 137.5h0M548 138h0M548 140h0M548 141h0M548 142.5h0M548 143h0M548.5 93.5h0M548.5 102h0M548.5 108h0M548.5 109.5h0M548.5 115h0M548.5 116.5h0M548.5 117h0M548.5 117.5h0M548.5 118h0M548.5 119h0M548.5 120.5h0M548.5 121h0M548.5 121.5h0M548.5 122h0M548.5 122.5h0M548.5 123h0M548.5 123.5h0M548.5 124h0M548.5 124.5h0M548.5 125h0M548.5 125.5h0M548.5 126h0M548.5 126.5h0M548.5 127h0M548.5 127.5h0M548.5 128h0M548.5 128.5h0M548.5 129h0M548.5 129.5h0M548.5 130h0M548.5 130.5h0M548.5 131h0M548.5 131.5h0M548.5 132h0M548.5 133h0M548.5 133.5h0M548.5 134h0M548.5 134.5h0M548.5 135.5h0M548.5 136.5h0M548.5 137h0M548.5 140.5h0M548.5 142.5h0M549 109.5h0M549 110h0M549 113h0M549 114h0M549 114.5h0M549 115.5h0M549 116h0M549 116.5h0M549 117h0M549 117.5h0M549 118.5h0M549 119h0M549 119.5h0M549 120h0M549 120.5h0M549 121h0M549 121.5h0M549 122h0M549 122.5h0M549 123h0M549 123.5h0M549 124h0M549 124.5h0M549 125h0M549 125.5h0M549 126h0M549 126.5h0M549 127h0M549 127.5h0M549 128h0M549 128.5h0M549 129h0M549 129.5h0M549 130h0M549 130.5h0M549 131h0M549 131.5h0M549 132h0M549 132.5h0M549 133h0M549 134.5h0M549 135h0M549 135.5h0M549 136h0M549 137h0M549 138h0M549 141h0M549 142.5h0M549 143.5h0M549 144.5h0M549.5 113.5h0M549.5 114h0M549.5 114.5h0M549.5 115h0M549.5 115.5h0M549.5 116h0M549.5 116.5h0M549.5 117h0M549.5 117.5h0M549.5 118h0M549.5 118.5h0M549.5 119h0M549.5 119.5h0M549.5 120h0M549.5 120.5h0M549.5 121h0M549.5 121.5h0M549.5 122h0M549.5 122.5h0M549.5 123h0M549.5 124h0M549.5 124.5h0M549.5 125h0M549.5 125.5h0M549.5 126h0M549.5 126.5h0M549.5 127h0M549.5 127.5h0M549.5 128h0M549.5 128.5h0M549.5 129h0M549.5 129.5h0M549.5 130h0M549.5 130.5h0M549.5 131h0M549.5 131.5h0M549.5 132h0M549.5 132.5h0M549.5 133h0M549.5 133.5h0M549.5 134h0M549.5 134.5h0M549.5 135h0M549.5 135.5h0M549.5 136h0M549.5 137h0M549.5 139.5h0M549.5 140h0M549.5 140.5h0M549.5 143h0M550 107h0M550 108h0M550 110h0M550 111h0M550 113h0M550 113.5h0M550 114.5h0M550 115h0M550 116h0M550 116.5h0M550 117h0M550 117.5h0M550 118h0M550 118.5h0M550 119h0M550 119.5h0M550 120h0M550 120.5h0M550 121h0M550 121.5h0M550 122h0M550 122.5h0M550 123h0M550 123.5h0M550 124h0M550 124.5h0M550 125h0M550 125.5h0M550 126h0M550 126.5h0M550 127h0M550 127.5h0M550 128h0M550 128.5h0M550 129h0M550 129.5h0M550 130h0M550 130.5h0M550 131h0M550 131.5h0M550 132h0M550 132.5h0M550 133h0M550 133.5h0M550 134h0M550 134.5h0M550 135h0M550 135.5h0M550 136h0M550 136.5h0M550 137h0M550 139h0M550 139.5h0M550 141.5h0M550 142h0M550 142.5h0M550.5 108.5h0M550.5 112.5h0M550.5 113h0M550.5 113.5h0M550.5 114h0M550.5 115.5h0M550.5 116.5h0M550.5 117h0M550.5 117.5h0M550.5 118h0M550.5 118.5h0M550.5 119.5h0M550.5 120.5h0M550.5 121h0M550.5 121.5h0M550.5 122h0M550.5 122.5h0M550.5 123h0M550.5 123.5h0M550.5 124h0M550.5 124.5h0M550.5 125h0M550.5 125.5h0M550.5 126h0M550.5 126.5h0M550.5 127h0M550.5 127.5h0M550.5 128h0M550.5 128.5h0M550.5 129h0M550.5 129.5h0M550.5 130h0M550.5 130.5h0M550.5 131h0M550.5 131.5h0M550.5 132h0M550.5 132.5h0M550.5 133h0M550.5 134h0M550.5 134.5h0M550.5 135h0M550.5 135.5h0M550.5 136h0M550.5 136.5h0M550.5 137.5h0M550.5 138.5h0M550.5 139.5h0M550.5 141h0M550.5 142.5h0M550.5 143.5h0M551 100h0M551 105.5h0M551 106h0M551 108h0M551 110.5h0M551 111.5h0M551 112.5h0M551 115h0M551 115.5h0M551 116h0M551 117h0M551 117.5h0M551 118h0M551 118.5h0M551 119h0M551 119.5h0M551 120h0M551 120.5h0M551 121h0M551 121.5h0M551 122h0M551 122.5h0M551 123h0M551 123.5h0M551 124h0M551 124.5h0M551 125h0M551 125.5h0M551 126h0M551 126.5h0M551 127h0M551 127.5h0M551 128h0M551 128.5h0M551 129h0M551 129.5h0M551 130h0M551 130.5h0M551 131h0M551 131.5h0M551 132h0M551 132.5h0M551 133h0M551 133.5h0M551 134h0M551 135.5h0M551 136h0M551 138h0M551 139h0M551 140h0M551 140.5h0M551 143.5h0M551.5 101h0M551.5 111h0M551.5 112.5h0M551.5 113h0M551.5 113.5h0M551.5 114h0M551.5 114.5h0M551.5 115.5h0M551.5 116h0M551.5 116.5h0M551.5 117h0M551.5 117.5h0M551.5 118h0M551.5 118.5h0M551.5 119h0M551.5 119.5h0M551.5 120h0M551.5 120.5h0M551.5 121h0M551.5 121.5h0M551.5 122h0M551.5 122.5h0M551.5 123h0M551.5 123.5h0M551.5 124h0M551.5 124.5h0M551.5 125h0M551.5 125.5h0M551.5 126h0M551.5 126.5h0M551.5 127h0M551.5 127.5h0M551.5 128h0M551.5 128.5h0M551.5 129h0M551.5 129.5h0M551.5 130h0M551.5 130.5h0M551.5 131h0M551.5 131.5h0M551.5 132h0M551.5 132.5h0M551.5 133h0M551.5 133.5h0M551.5 134h0M551.5 135.5h0M551.5 136h0M551.5 136.5h0M551.5 137h0M551.5 137.5h0M551.5 138h0M551.5 139.5h0M551.5 141.5h0M551.5 142h0M552 104h0M552 110h0M552 110.5h0M552 111h0M552 112.5h0M552 113h0M552 114.5h0M552 115h0M552 115.5h0M552 116h0M552 116.5h0M552 117h0M552 117.5h0M552 118h0M552 118.5h0M552 119h0M552 119.5h0M552 120h0M552 121h0M552 121.5h0M552 122h0M552 122.5h0M552 123h0M552 123.5h0M552 124h0M552 124.5h0M552 125h0M552 125.5h0M552 126h0M552 126.5h0M552 127h0M552 127.5h0M552 128h0M552 128.5h0M552 129h0M552 129.5h0M552 130h0M552 130.5h0M552 131h0M552 131.5h0M552 132.5h0M552 133.5h0M552 134h0M552 134.5h0M552 136h0M552 136.5h0M552 138.5h0M552 140h0M552 142h0M552 143.5h0M552.5 106.5h0M552.5 107h0M552.5 107.5h0M552.5 110.5h0M552.5 111h0M552.5 112h0M552.5 113h0M552.5 114.5h0M552.5 115.5h0M552.5 116h0M552.5 116.5h0M552.5 117h0M552.5 117.5h0M552.5 118h0M552.5 118.5h0M552.5 119h0M552.5 119.5h0M552.5 120h0M552.5 120.5h0M552.5 121h0M552.5 121.5h0M552.5 122h0M552.5 122.5h0M552.5 123h0M552.5 123.5h0M552.5 124h0M552.5 124.5h0M552.5 125h0M552.5 125.5h0M552.5 126h0M552.5 126.5h0M552.5 127h0M552.5 127.5h0M552.5 128.5h0M552.5 129h0M552.5 130h0M552.5 130.5h0M552.5 131.5h0M552.5 132h0M552.5 132.5h0M552.5 133h0M552.5 134h0M552.5 134.5h0M552.5 135.5h0M552.5 136.5h0M552.5 137.5h0M552.5 138.5h0M552.5 140.5h0M552.5 141h0M552.5 143.5h0M553 103.5h0M553 106.5h0M553 108h0M553 111h0M553 114h0M553 114.5h0M553 115h0M553 115.5h0M553 116h0M553 116.5h0M553 117h0M553 117.5h0M553 118h0M553 118.5h0M553 119h0M553 119.5h0M553 120h0M553 120.5h0M553 121h0M553 122h0M553 122.5h0M553 123h0M553 123.5h0M553 124h0M553 124.5h0M553 125h0M553 125.5h0M553 126h0M553 126.5h0M553 127h0M553 128h0M553 128.5h0M553 129h0M553 129.5h0M553 130h0M553 130.5h0M553 131h0M553 131.5h0M553 132.5h0M553 133.5h0M553 135h0M553 135.5h0M553 138h0M553.5 103h0M553.5 105.5h0M553.5 108h0M553.5 108.5h0M553.5 110.5h0M553.5 111h0M553.5 111.5h0M553.5 112h0M553.5 113.5h0M553.5 114h0M553.5 114.5h0M553.5 115h0M553.5 115.5h0M553.5 116h0M553.5 116.5h0M553.5 117h0M553.5 118h0M553.5 118.5h0M553.5 119h0M553.5 120h0M553.5 120.5h0M553.5 121h0M553.5 121.5h0M553.5 122h0M553.5 122.5h0M553.5 123h0M553.5 123.5h0M553.5 124h0M553.5 124.5h0M553.5 125h0M553.5 125.5h0M553.5 126h0M553.5 126.5h0M553.5 127.5h0M553.5 128h0M553.5 128.5h0M553.5 129h0M553.5 130h0M553.5 131h0M553.5 132h0M553.5 132.5h0M553.5 133.5h0M553.5 134.5h0M553.5 135h0M553.5 137.5h0M553.5 139h0M554 108h0M554 112.5h0M554 113.5h0M554 114h0M554 114.5h0M554 115h0M554 115.5h0M554 116h0M554 116.5h0M554 117h0M554 117.5h0M554 118h0M554 118.5h0M554 119h0M554 119.5h0M554 120h0M554 120.5h0M554 121h0M554 121.5h0M554 122h0M554 122.5h0M554 123h0M554 123.5h0M554 124h0M554 124.5h0M554 125h0M554 125.5h0M554 126h0M554 126.5h0M554 127h0M554 127.5h0M554 128h0M554 128.5h0M554 129h0M554 129.5h0M554 130h0M554 130.5h0M554 131h0M554 131.5h0M554 132.5h0M554 134h0M554 135.5h0M554 136.5h0M554.5 88h0M554.5 104.5h0M554.5 108h0M554.5 109h0M554.5 109.5h0M554.5 112h0M554.5 113.5h0M554.5 115.5h0M554.5 116h0M554.5 116.5h0M554.5 117.5h0M554.5 118h0M554.5 118.5h0M554.5 119h0M554.5 119.5h0M554.5 120.5h0M554.5 121h0M554.5 122h0M554.5 122.5h0M554.5 123h0M554.5 123.5h0M554.5 124h0M554.5 124.5h0M554.5 125h0M554.5 125.5h0M554.5 126h0M554.5 126.5h0M554.5 127.5h0M554.5 128h0M554.5 128.5h0M554.5 129h0M554.5 130h0M554.5 131h0M554.5 131.5h0M554.5 132h0M554.5 132.5h0M554.5 133h0M554.5 133.5h0M554.5 137h0M555 104h0M555 105h0M555 106.5h0M555 108.5h0M555 109.5h0M555 111.5h0M555 112h0M555 112.5h0M555 113h0M555 114h0M555 114.5h0M555 115h0M555 115.5h0M555 116h0M555 116.5h0M555 117.5h0M555 118h0M555 118.5h0M555 119h0M555 119.5h0M555 120h0M555 120.5h0M555 121.5h0M555 122h0M555 122.5h0M555 123h0M555 123.5h0M555 124h0M555 124.5h0M555 125h0M555 125.5h0M555 126h0M555 126.5h0M555 127h0M555 127.5h0M555 128h0M555 129h0M555 129.5h0M555 130.5h0M555 131.5h0M555 132h0M555 133.5h0M555 134.5h0M555 136h0M555 138h0M555.5 107h0M555.5 109.5h0M555.5 113.5h0M555.5 114h0M555.5 114.5h0M555.5 115h0M555.5 115.5h0M555.5 116h0M555.5 116.5h0M555.5 117h0M555.5 117.5h0M555.5 118h0M555.5 118.5h0M555.5 119h0M555.5 119.5h0M555.5 120h0M555.5 120.5h0M555.5 121h0M555.5 121.5h0M555.5 122h0M555.5 122.5h0M555.5 123h0M555.5 123.5h0M555.5 124h0M555.5 124.5h0M555.5 125h0M555.5 125.5h0M555.5 126.5h0M555.5 127.5h0M555.5 128.5h0M555.5 129.5h0M555.5 130h0M555.5 131h0M555.5 131.5h0M555.5 132h0M555.5 133h0M555.5 134.5h0M555.5 135h0M556 103.5h0M556 107.5h0M556 109h0M556 110h0M556 110.5h0M556 112h0M556 112.5h0M556 113h0M556 114h0M556 114.5h0M556 115h0M556 115.5h0M556 116h0M556 116.5h0M556 117h0M556 118h0M556 118.5h0M556 119h0M556 119.5h0M556 120h0M556 120.5h0M556 121h0M556 121.5h0M556 122h0M556 122.5h0M556 123h0M556 123.5h0M556 124h0M556 124.5h0M556 125h0M556 125.5h0M556 126h0M556 126.5h0M556 127.5h0M556 128h0M556 128.5h0M556 129h0M556 130h0M556 131.5h0M556 132h0M556 132.5h0M556 133h0M556.5 92.5h0M556.5 110.5h0M556.5 111h0M556.5 112h0M556.5 112.5h0M556.5 113h0M556.5 113.5h0M556.5 114.5h0M556.5 115h0M556.5 115.5h0M556.5 116h0M556.5 116.5h0M556.5 117h0M556.5 117.5h0M556.5 118h0M556.5 118.5h0M556.5 119.5h0M556.5 120h0M556.5 120.5h0M556.5 121h0M556.5 121.5h0M556.5 122h0M556.5 122.5h0M556.5 123h0M556.5 123.5h0M556.5 124h0M556.5 124.5h0M556.5 125h0M556.5 125.5h0M556.5 126h0M556.5 126.5h0M556.5 127h0M556.5 127.5h0M556.5 128h0M556.5 128.5h0M556.5 130h0M556.5 130.5h0M556.5 131h0M556.5 133h0M556.5 134.5h0M556.5 135.5h0M556.5 143h0M557 106.5h0M557 107.5h0M557 108.5h0M557 109h0M557 110.5h0M557 111h0M557 112h0M557 112.5h0M557 113.5h0M557 114.5h0M557 115.5h0M557 116h0M557 116.5h0M557 117.5h0M557 118h0M557 118.5h0M557 119h0M557 119.5h0M557 121h0M557 121.5h0M557 122h0M557 123h0M557 124.5h0M557 125h0M557 125.5h0M557 126h0M557 126.5h0M557 127h0M557 128h0M557 129h0M557 131h0M557 134.5h0M557 138.5h0M557 140.5h0M557.5 107.5h0M557.5 108h0M557.5 109h0M557.5 110h0M557.5 110.5h0M557.5 111.5h0M557.5 112h0M557.5 112.5h0M557.5 113h0M557.5 113.5h0M557.5 114.5h0M557.5 115h0M557.5 115.5h0M557.5 116h0M557.5 116.5h0M557.5 117h0M557.5 117.5h0M557.5 118h0M557.5 118.5h0M557.5 119.5h0M557.5 120h0M557.5 120.5h0M557.5 121h0M557.5 121.5h0M557.5 122h0M557.5 123h0M557.5 123.5h0M557.5 124h0M557.5 124.5h0M557.5 125h0M557.5 125.5h0M557.5 126.5h0M557.5 127h0M557.5 127.5h0M557.5 128h0M557.5 128.5h0M557.5 129.5h0M557.5 130h0M557.5 130.5h0M557.5 131h0M557.5 136.5h0M557.5 137h0M558 97h0M558 103.5h0M558 104h0M558 107h0M558 108.5h0M558 109h0M558 109.5h0M558 111h0M558 111.5h0M558 112.5h0M558 113.5h0M558 114h0M558 114.5h0M558 115h0M558 115.5h0M558 116h0M558 116.5h0M558 117h0M558 117.5h0M558 118h0M558 118.5h0M558 119h0M558 119.5h0M558 120h0M558 120.5h0M558 121h0M558 122h0M558 122.5h0M558 123h0M558 123.5h0M558 124h0M558 124.5h0M558 125h0M558 125.5h0M558 126h0M558 126.5h0M558 127h0M558 127.5h0M558 128h0M558 128.5h0M558 131h0M558 134h0M558 134.5h0M558 141.5h0M558.5 101h0M558.5 105.5h0M558.5 106h0M558.5 107h0M558.5 107.5h0M558.5 108h0M558.5 109h0M558.5 110h0M558.5 110.5h0M558.5 111h0M558.5 111.5h0M558.5 112h0M558.5 112.5h0M558.5 113h0M558.5 113.5h0M558.5 114.5h0M558.5 115.5h0M558.5 116h0M558.5 116.5h0M558.5 117.5h0M558.5 118h0M558.5 118.5h0M558.5 119h0M558.5 119.5h0M558.5 120h0M558.5 120.5h0M558.5 121h0M558.5 122h0M558.5 123h0M558.5 123.5h0M558.5 124.5h0M558.5 125h0M558.5 125.5h0M558.5 127h0M558.5 127.5h0M558.5 128.5h0M558.5 130.5h0M558.5 132.5h0M559 103.5h0M559 105h0M559 109h0M559 109.5h0M559 111h0M559 112h0M559 112.5h0M559 114.5h0M559 115h0M559 115.5h0M559 116h0M559 116.5h0M559 117h0M559 117.5h0M559 118h0M559 118.5h0M559 119h0M559 119.5h0M559 120h0M559 120.5h0M559 121h0M559 121.5h0M559 122h0M559 122.5h0M559 123h0M559 123.5h0M559 124h0M559 124.5h0M559 125h0M559 126h0M559 126.5h0M559 127h0M559 127.5h0M559 129h0M559 129.5h0M559 130.5h0M559.5 100.5h0M559.5 106h0M559.5 108h0M559.5 108.5h0M559.5 110h0M559.5 110.5h0M559.5 111h0M559.5 111.5h0M559.5 112h0M559.5 112.5h0M559.5 113.5h0M559.5 114h0M559.5 114.5h0M559.5 115.5h0M559.5 116h0M559.5 116.5h0M559.5 117.5h0M559.5 118h0M559.5 118.5h0M559.5 119h0M559.5 119.5h0M559.5 120h0M559.5 120.5h0M559.5 121h0M559.5 121.5h0M559.5 122h0M559.5 122.5h0M559.5 123h0M559.5 123.5h0M559.5 124h0M559.5 124.5h0M559.5 125h0M559.5 126.5h0M559.5 128h0M559.5 129h0M559.5 131h0M559.5 131.5h0M559.5 134.5h0M559.5 137.5h0M559.5 143h0M560 104.5h0M560 106h0M560 107.5h0M560 112.5h0M560 113h0M560 114h0M560 114.5h0M560 115h0M560 115.5h0M560 116h0M560 116.5h0M560 117h0M560 117.5h0M560 118h0M560 118.5h0M560 119h0M560 120h0M560 120.5h0M560 121h0M560 121.5h0M560 122h0M560 122.5h0M560 123h0M560 123.5h0M560 124h0M560 124.5h0M560 125h0M560 125.5h0M560 126h0M560 128h0M560 129.5h0M560 130.5h0M560 132.5h0M560 137h0M560 138.5h0M560 139h0M560 141h0M560.5 99.5h0M560.5 102h0M560.5 102.5h0M560.5 106h0M560.5 108.5h0M560.5 109h0M560.5 109.5h0M560.5 110.5h0M560.5 111h0M560.5 111.5h0M560.5 112h0M560.5 112.5h0M560.5 113.5h0M560.5 114h0M560.5 114.5h0M560.5 115.5h0M560.5 116.5h0M560.5 117h0M560.5 117.5h0M560.5 118h0M560.5 119h0M560.5 119.5h0M560.5 120.5h0M560.5 121h0M560.5 122h0M560.5 123.5h0M560.5 125h0M560.5 125.5h0M560.5 126h0M560.5 127h0M560.5 128h0M560.5 128.5h0M560.5 129h0M560.5 129.5h0M560.5 135h0M561 102.5h0M561 103h0M561 108h0M561 108.5h0M561 110h0M561 110.5h0M561 111h0M561 111.5h0M561 112.5h0M561 113h0M561 113.5h0M561 114h0M561 114.5h0M561 115h0M561 116h0M561 118h0M561 118.5h0M561 119h0M561 119.5h0M561 120h0M561 121h0M561 121.5h0M561 122h0M561 122.5h0M561 123h0M561 123.5h0M561 125h0M561 126h0M561 126.5h0M561 128h0M561 130h0M561 131.5h0M561.5 99h0M561.5 100h0M561.5 102h0M561.5 103h0M561.5 105h0M561.5 108h0M561.5 108.5h0M561.5 109h0M561.5 109.5h0M561.5 111h0M561.5 112h0M561.5 112.5h0M561.5 113h0M561.5 113.5h0M561.5 114h0M561.5 114.5h0M561.5 115h0M561.5 116h0M561.5 116.5h0M561.5 117h0M561.5 117.5h0M561.5 118h0M561.5 118.5h0M561.5 119h0M561.5 119.5h0M561.5 120.5h0M561.5 121.5h0M561.5 122h0M561.5 123h0M561.5 123.5h0M561.5 124h0M561.5 124.5h0M561.5 126h0M562 101.5h0M562 102h0M562 102.5h0M562 104.5h0M562 105h0M562 109h0M562 110h0M562 110.5h0M562 111h0M562 111.5h0M562 112h0M562 112.5h0M562 113h0M562 114h0M562 114.5h0M562 115h0M562 115.5h0M562 116h0M562 116.5h0M562 117h0M562 117.5h0M562 118h0M562 118.5h0M562 119h0M562 119.5h0M562 120.5h0M562 122h0M562 123.5h0M562 124.5h0M562 125h0M562 127h0M562 128.5h0M562 129.5h0M562.5 92.5h0M562.5 93.5h0M562.5 101.5h0M562.5 105h0M562.5 107h0M562.5 107.5h0M562.5 109h0M562.5 109.5h0M562.5 110.5h0M562.5 111h0M562.5 111.5h0M562.5 112h0M562.5 112.5h0M562.5 113h0M562.5 113.5h0M562.5 114h0M562.5 115h0M562.5 115.5h0M562.5 116h0M562.5 116.5h0M562.5 118h0M562.5 118.5h0M562.5 119.5h0M562.5 120h0M562.5 121h0M562.5 122.5h0M562.5 123.5h0M562.5 124.5h0M562.5 127h0M562.5 127.5h0M562.5 128.5h0M563 95.5h0M563 104.5h0M563 106.5h0M563 108.5h0M563 109h0M563 109.5h0M563 110.5h0M563 112h0M563 113h0M563 113.5h0M563 114h0M563 115h0M563 115.5h0M563 116h0M563 116.5h0M563 117h0M563 117.5h0M563 118.5h0M563 119.5h0M563 120h0M563 120.5h0M563 121h0M563 122.5h0M563 123h0M563 124.5h0M563 125h0M563 126h0M563 127h0M563 129h0M563.5 101.5h0M563.5 102.5h0M563.5 105.5h0M563.5 106h0M563.5 106.5h0M563.5 107h0M563.5 107.5h0M563.5 108h0M563.5 108.5h0M563.5 110.5h0M563.5 111h0M563.5 111.5h0M563.5 112.5h0M563.5 113h0M563.5 114h0M563.5 114.5h0M563.5 116h0M563.5 116.5h0M563.5 117.5h0M563.5 119.5h0M563.5 121h0M563.5 121.5h0M563.5 122h0M563.5 122.5h0M563.5 123h0M563.5 123.5h0M563.5 125.5h0M563.5 126h0M563.5 129.5h0M563.5 133h0M564 96.5h0M564 103h0M564 104h0M564 104.5h0M564 105h0M564 105.5h0M564 106.5h0M564 107h0M564 108h0M564 108.5h0M564 109h0M564 109.5h0M564 111h0M564 111.5h0M564 112h0M564 113h0M564 113.5h0M564 114h0M564 114.5h0M564 115h0M564 116h0M564 116.5h0M564 117h0M564 117.5h0M564 118h0M564 119.5h0M564 120h0M564 120.5h0M564 121h0M564 123.5h0M564 124h0M564 128h0M564 128.5h0M564 130.5h0M564 131.5h0M564.5 104h0M564.5 105.5h0M564.5 106h0M564.5 106.5h0M564.5 107h0M564.5 108.5h0M564.5 110h0M564.5 111.5h0M564.5 113h0M564.5 113.5h0M564.5 114.5h0M564.5 115h0M564.5 115.5h0M564.5 116h0M564.5 117h0M564.5 117.5h0M564.5 118h0M564.5 118.5h0M564.5 120h0M564.5 122h0M564.5 122.5h0M564.5 123h0M564.5 123.5h0M564.5 125h0M564.5 126h0M564.5 127.5h0M564.5 129.5h0M565 95h0M565 96.5h0M565 101h0M565 103.5h0M565 104.5h0M565 105h0M565 105.5h0M565 107h0M565 108.5h0M565 109h0M565 109.5h0M565 111h0M565 111.5h0M565 113h0M565 114h0M565 115h0M565 115.5h0M565 117h0M565 119h0M565 119.5h0M565 120.5h0M565 123h0M565 124h0M565 137.5h0M565.5 102.5h0M565.5 108h0M565.5 108.5h0M565.5 109h0M565.5 109.5h0M565.5 110h0M565.5 111h0M565.5 111.5h0M565.5 112h0M565.5 113.5h0M565.5 114h0M565.5 114.5h0M565.5 115h0M565.5 115.5h0M565.5 116h0M565.5 116.5h0M565.5 117h0M565.5 119h0M565.5 119.5h0M565.5 120h0M565.5 122.5h0M565.5 124h0M566 97h0M566 98h0M566 98.5h0M566 105h0M566 107h0M566 108.5h0M566 109h0M566 110h0M566 111.5h0M566 112h0M566 112.5h0M566 113.5h0M566 114h0M566 115.5h0M566 116h0M566 116.5h0M566 117h0M566 117.5h0M566 118.5h0M566 119.5h0M566 125h0M566.5 100.5h0M566.5 106h0M566.5 107.5h0M566.5 108.5h0M566.5 109h0M566.5 109.5h0M566.5 110h0M566.5 111h0M566.5 111.5h0M566.5 112h0M566.5 112.5h0M566.5 113h0M566.5 113.5h0M566.5 114.5h0M566.5 115h0M566.5 115.5h0M566.5 116h0M566.5 116.5h0M566.5 117.5h0M566.5 120.5h0M566.5 121h0M567 103.5h0M567 106h0M567 106.5h0M567 108.5h0M567 109h0M567 109.5h0M567 111h0M567 111.5h0M567 112h0M567 112.5h0M567 113h0M567 113.5h0M567 114h0M567 115.5h0M567 117h0M567 117.5h0M567 118h0M567 119h0M567 120.5h0M567 121h0M567 122.5h0M567.5 98.5h0M567.5 99h0M567.5 101.5h0M567.5 102h0M567.5 104h0M567.5 106.5h0M567.5 107h0M567.5 107.5h0M567.5 108.5h0M567.5 109h0M567.5 109.5h0M567.5 112h0M567.5 112.5h0M567.5 113h0M567.5 114h0M567.5 114.5h0M567.5 115h0M567.5 115.5h0M567.5 116h0M567.5 118.5h0M567.5 119.5h0M567.5 128h0M568 99.5h0M568 102h0M568 102.5h0M568 104h0M568 106h0M568 107h0M568 107.5h0M568 108h0M568 108.5h0M568 109h0M568 110h0M568 110.5h0M568 111h0M568 113.5h0M568 114h0M568 114.5h0M568 115h0M568 117h0M568 123.5h0M568 126h0M568.5 98.5h0M568.5 105h0M568.5 105.5h0M568.5 106.5h0M568.5 108h0M568.5 108.5h0M568.5 109h0M568.5 109.5h0M568.5 110h0M568.5 110.5h0M568.5 111h0M568.5 111.5h0M568.5 112h0M568.5 112.5h0M568.5 114h0M568.5 115.5h0M568.5 116.5h0M568.5 118h0M568.5 119h0M568.5 121.5h0M568.5 123h0M569 99.5h0M569 101.5h0M569 102h0M569 102.5h0M569 103h0M569 106.5h0M569 107.5h0M569 108h0M569 108.5h0M569 109h0M569 110.5h0M569 112h0M569 113h0M569 114h0M569 116h0M569 116.5h0M569 117.5h0M569 118h0M569.5 99h0M569.5 101h0M569.5 102.5h0M569.5 103h0M569.5 103.5h0M569.5 105h0M569.5 105.5h0M569.5 106h0M569.5 107.5h0M569.5 108h0M569.5 108.5h0M569.5 109h0M569.5 111h0M569.5 111.5h0M569.5 113h0M569.5 114h0M569.5 115h0M569.5 116.5h0M570 93.5h0M570 98.5h0M570 105.5h0M570 106h0M570 106.5h0M570 107h0M570 107.5h0M570 108h0M570 108.5h0M570 109h0M570 110h0M570 110.5h0M570 111h0M570 115.5h0M570 116h0M570 120.5h0M570 121h0M570 124h0M570 126h0M570.5 102h0M570.5 105h0M570.5 106h0M570.5 107.5h0M570.5 108h0M570.5 109h0M570.5 109.5h0M570.5 110h0M570.5 111h0M570.5 111.5h0M570.5 113h0M570.5 113.5h0M570.5 116h0M570.5 117h0M570.5 118h0M570.5 120.5h0M571 95.5h0M571 100.5h0M571 104.5h0M571 106.5h0M571 107.5h0M571 108h0M571 108.5h0M571 109h0M571 109.5h0M571 110h0M571 110.5h0M571 111.5h0M571 112h0M571 112.5h0M571 116h0M571 120h0M571.5 96.5h0M571.5 99.5h0M571.5 101.5h0M571.5 102h0M571.5 103h0M571.5 103.5h0M571.5 104.5h0M571.5 106.5h0M571.5 107.5h0M571.5 108h0M571.5 109h0M571.5 110h0M571.5 111h0M571.5 111.5h0M571.5 112h0M571.5 113h0M571.5 113.5h0M571.5 115h0M571.5 119h0M572 94h0M572 99.5h0M572 100h0M572 101.5h0M572 103.5h0M572 105h0M572 105.5h0M572 106.5h0M572 107.5h0M572 110.5h0M572 111h0M572 113h0M572 114h0M572 115.5h0M572 116h0M572 126.5h0M572.5 101h0M572.5 101.5h0M572.5 103h0M572.5 103.5h0M572.5 104.5h0M572.5 105h0M572.5 106.5h0M572.5 107h0M572.5 108.5h0M572.5 110.5h0M572.5 111h0M572.5 113h0M572.5 113.5h0M572.5 114.5h0M572.5 117h0M572.5 118.5h0M572.5 122.5h0M573 95h0M573 101.5h0M573 103.5h0M573 104.5h0M573 105h0M573 105.5h0M573 106.5h0M573 107h0M573 109h0M573 112.5h0M573 113.5h0M573 114h0M573 115h0M573 122h0M573 126h0M573.5 94.5h0M573.5 96.5h0M573.5 100.5h0M573.5 102.5h0M573.5 105.5h0M573.5 106h0M573.5 106.5h0M573.5 108h0M573.5 108.5h0M573.5 109h0M573.5 109.5h0M573.5 110.5h0M574 92h0M574 99.5h0M574 100h0M574 100.5h0M574 101h0M574 104h0M574 105.5h0M574 107h0M574 108h0M574 108.5h0M574 109h0M574 109.5h0M574 110h0M574 110.5h0M574 113h0M574.5 98h0M574.5 98.5h0M574.5 99h0M574.5 100h0M574.5 103h0M574.5 103.5h0M574.5 106h0M574.5 106.5h0M574.5 108.5h0M574.5 110h0M574.5 111.5h0M574.5 115h0M575 98h0M575 98.5h0M575 101.5h0M575 102.5h0M575 103h0M575 103.5h0M575 104h0M575 106.5h0M575 107.5h0M575 108h0M575 110.5h0M575 112h0M575 113h0M575 115h0M575 116h0M575 116.5h0M575.5 92h0M575.5 96h0M575.5 99.5h0M575.5 101.5h0M575.5 102.5h0M575.5 104h0M575.5 105h0M575.5 105.5h0M575.5 106h0M575.5 107h0M575.5 108h0M575.5 109h0M575.5 109.5h0M575.5 110h0M575.5 111.5h0M575.5 112h0M575.5 113h0M575.5 113.5h0M576 92.5h0M576 93h0M576 97.5h0M576 98.5h0M576 99.5h0M576 101h0M576 101.5h0M576 102h0M576 102.5h0M576 105h0M576 106h0M576 106.5h0M576 109.5h0M576 113h0M576.5 93.5h0M576.5 97.5h0M576.5 100h0M576.5 101.5h0M576.5 102h0M576.5 102.5h0M576.5 104h0M576.5 104.5h0M576.5 105.5h0M576.5 106h0M576.5 106.5h0M576.5 109h0M576.5 109.5h0M576.5 112.5h0M576.5 116.5h0M577 93.5h0M577 97h0M577 100h0M577 101.5h0M577 103.5h0M577 104h0M577 104.5h0M577 108h0M577 109h0M577 111.5h0M577 115.5h0M577 116.5h0M577.5 96h0M577.5 97h0M577.5 99.5h0M577.5 100.5h0M577.5 101.5h0M577.5 102h0M577.5 102.5h0M577.5 103h0M577.5 104h0M577.5 104.5h0M577.5 105.5h0M577.5 107.5h0M577.5 108h0M577.5 108.5h0M577.5 109.5h0M577.5 112.5h0M578 98h0M578 99.5h0M578 100.5h0M578 101.5h0M578 102.5h0M578 106.5h0M578 107h0M578 107.5h0M578 108h0M578 112h0M578 114h0M578 114.5h0M578.5 94.5h0M578.5 98.5h0M578.5 100.5h0M578.5 102h0M578.5 103.5h0M578.5 105.5h0M578.5 106.5h0M578.5 112h0M578.5 113h0M579 95h0M579 98h0M579 99h0M579 99.5h0M579 104.5h0M579 105h0M579 113h0M579.5 91h0M579.5 91.5h0M579.5 95.5h0M579.5 97h0M579.5 100h0M579.5 100.5h0M579.5 103.5h0M579.5 105.5h0M579.5 107h0M579.5 108h0M579.5 110.5h0M580 97.5h0M580 100h0M580 103h0M580 105h0M580 105.5h0M580 106h0M580 106.5h0M580 107.5h0M580 109.5h0M580 117h0M580.5 89.5h0M580.5 93.5h0M580.5 95.5h0M580.5 100h0M580.5 102.5h0M580.5 103h0M580.5 119h0M581 98h0M581 101h0M581 101.5h0M581 105.5h0M581 108h0M581 109.5h0M581.5 90.5h0M581.5 94h0M581.5 95.5h0M581.5 99.5h0M581.5 100.5h0M581.5 102h0M581.5 102.5h0M581.5 104h0M581.5 104.5h0M581.5 106.5h0M581.5 107.5h0M581.5 109h0M582 94h0M582 95h0M582 97h0M582 97.5h0M582 98h0M582 98.5h0M582 101.5h0M582 102h0M582 104.5h0M582 108h0M582.5 84h0M582.5 95.5h0M582.5 96h0M582.5 97h0M582.5 98.5h0M582.5 99h0M583 90.5h0M583 91.5h0M583 97h0M583 97.5h0M583 99.5h0M583 100.5h0M583 101h0M583 101.5h0M583 105.5h0M583 110h0M583 115h0M583.5 89h0M583.5 92h0M583.5 96h0M583.5 98h0M583.5 99.5h0M583.5 100.5h0M583.5 103h0M583.5 105h0M584 92h0M584 94h0M584 96.5h0M584 97.5h0M584 99.5h0M584 100.5h0M584 101.5h0M584 102.5h0M584.5 84h0M584.5 96h0M584.5 96.5h0M584.5 101h0M584.5 103h0M585 95.5h0M585 96h0M585 101.5h0M585 105h0M585 107.5h0M585.5 86h0M585.5 89.5h0M585.5 90.5h0M585.5 91.5h0M585.5 94.5h0M585.5 95.5h0M585.5 96.5h0M585.5 97h0M585.5 97.5h0M586 93.5h0M586 94.5h0M586 96.5h0M586 98.5h0M586 99h0M586 99.5h0M586 100h0M586.5 87.5h0M586.5 97.5h0M586.5 98h0M586.5 102.5h0M587 92h0M587 97.5h0M587 99.5h0M587 100h0M587 101.5h0M587.5 92.5h0M587.5 93.5h0M587.5 96.5h0M587.5 99h0M587.5 105h0M587.5 107h0M588 80h0M588 88.5h0M588 90.5h0M588 94h0M588.5 86.5h0M588.5 93h0M588.5 95.5h0M588.5 100.5h0M588.5 103.5h0M589 84.5h0M589 91.5h0M589 93h0M589 94h0M589 94.5h0M589 98.5h0M589 102h0M589.5 90h0M590 91h0M590 93h0M590 96.5h0M590.5 88.5h0M590.5 92.5h0M590.5 99.5h0M591 88.5h0M591 99h0M591.5 89h0M591.5 91h0M591.5 96h0M592 93.5h0M592 95h0M592 95.5h0M592.5 78h0M592.5 81.5h0M592.5 92.5h0M593 87.5h0M593 92h0M593 99h0M593.5 85.5h0M593.5 89.5h0M593.5 93h0M593.5 93.5h0M593.5 94h0M594 85h0M594 89.5h0M594 93.5h0M594 94.5h0M594 95.5h0M594.5 86.5h0M594.5 93.5h0M594.5 94.5h0M595 86h0M595 88.5h0M596.5 90h0M596.5 98h0M597 84.5h0M597 89.5h0M597 92h0M598 84h0M598 86h0M598 87.5h0M598 92.5h0M599 77h0M599 85h0M599 88.5h0M599 89.5h0M599.5 85h0M599.5 95.5h0M600 86h0M600.5 82h0M600.5 82.5h0M600.5 83.5h0M600.5 84.5h0M600.5 86h0M601 82.5h0M601 96.5h0M601.5 83.5h0M601.5 85h0M601.5 86h0M602 82.5h0M602.5 84.5h0M602.5 88.5h0M603 82h0M603 84h0M603.5 81h0M604 80.5h0M604.5 75.5h0M604.5 80h0M605 79.5h0M605 80h0M605.5 80h0M605.5 81h0M605.5 87h0M605.5 89h0M607.5 80h0M608 81.5h0M608.5 74.5h0M609 81.5h0M609 83h0M610 75h0M611.5 79h0M612.5 76.5h0" stroke="#1f77b4" stroke-width="1.4" stroke-linecap="round" fill="none"/><path d="M662.31 44.81h0M640.95 41.76h0M653.51 51.92h0M634.16 57.41h0M626.88 53.34h0M567.31 69.6h0M585.41 131.99h0M604.01 103.74h0M619.59 73.06h0M617.58 66.76h0M614.56 76.1h0M603 72.65h0M608.28 78.14h0M597.97 78.14h0M575.1 85.45h0M570.83 84.44h0M566.81 84.44h0M591.69 109.43h0M596.72 107.2h0" stroke="#1f77b4" stroke-width="1.7" stroke-linecap="round" fill="none"/><path d="M526.6 144.38L677.39 22.46" stroke="#e8141c" stroke-width="1.1" fill="none"/></g><rect x="519.6" y="15.75" width="164.7" height="134.65" fill="none" stroke="#8e8e8e" stroke-width="1"/><g fill="#000"><text x="523.55" y="161.9" font-size="10.08" textLength="6.11" lengthAdjust="spacingAndGlyphs">0</text></g><g fill="#000"><text x="548.68" y="161.9" font-size="10.08" textLength="6.11" lengthAdjust="spacingAndGlyphs">1</text></g><g fill="#000"><text x="573.81" y="161.9" font-size="10.08" textLength="6.11" lengthAdjust="spacingAndGlyphs">2</text></g><g fill="#000"><text x="598.94" y="161.9" font-size="10.08" textLength="6.11" lengthAdjust="spacingAndGlyphs">3</text></g><g fill="#000"><text x="624.07" y="161.9" font-size="10.08" textLength="6.11" lengthAdjust="spacingAndGlyphs">4</text></g><g fill="#000"><text x="649.2" y="161.9" font-size="10.08" textLength="6.11" lengthAdjust="spacingAndGlyphs">5</text></g><g fill="#000"><text x="674.33" y="161.9" font-size="10.08" textLength="6.11" lengthAdjust="spacingAndGlyphs">6</text></g><path d="M526.6 150.4v2.0M551.73 150.4v2.0M576.86 150.4v2.0M602 150.4v2.0M627.13 150.4v2.0M652.26 150.4v2.0M677.39 150.4v2.0" stroke="#8e8e8e" stroke-width="1" fill="none"/><g fill="#000"><text x="509.19" y="147.88" font-size="10.08" textLength="6.11" lengthAdjust="spacingAndGlyphs">0</text></g><g fill="#000"><text x="509.19" y="127.56" font-size="10.08" textLength="6.11" lengthAdjust="spacingAndGlyphs">1</text></g><g fill="#000"><text x="509.19" y="107.24" font-size="10.08" textLength="6.11" lengthAdjust="spacingAndGlyphs">2</text></g><g fill="#000"><text x="509.19" y="86.92" font-size="10.08" textLength="6.11" lengthAdjust="spacingAndGlyphs">3</text></g><g fill="#000"><text x="509.19" y="66.6" font-size="10.08" textLength="6.11" lengthAdjust="spacingAndGlyphs">4</text></g><g fill="#000"><text x="509.19" y="46.28" font-size="10.08" textLength="6.11" lengthAdjust="spacingAndGlyphs">5</text></g><g fill="#000"><text x="509.19" y="25.96" font-size="10.08" textLength="6.11" lengthAdjust="spacingAndGlyphs">6</text></g><path d="M519.6 144.38h-2.0M519.6 124.06h-2.0M519.6 103.74h-2.0M519.6 83.42h-2.0M519.6 63.1h-2.0M519.6 42.78h-2.0M519.6 22.46h-2.0" stroke="#8e8e8e" stroke-width="1" fill="none"/><g fill="#000"><text x="541.69" y="13.2" font-size="12.6" textLength="71.98" lengthAdjust="spacingAndGlyphs">Blood MPV (</text><text x="613.66" y="13.2" font-size="12.6" font-style="italic" textLength="7.1" lengthAdjust="spacingAndGlyphs">γ</text><text x="624.58" y="13.2" font-size="12.6" textLength="10.05" lengthAdjust="spacingAndGlyphs">=</text><text x="638.45" y="13.2" font-size="12.6" textLength="19.08" lengthAdjust="spacingAndGlyphs">0.1</text><text x="657.53" y="13.2" font-size="12.6" textLength="4.68" lengthAdjust="spacingAndGlyphs">)</text></g><g fill="#000"><text x="526.8" y="28.4" font-size="7.67" font-style="italic" textLength="4.63" lengthAdjust="spacingAndGlyphs">ρ</text><text x="533.75" y="28.4" font-size="7.67" textLength="6.12" lengthAdjust="spacingAndGlyphs">=</text><text x="544.51" y="28.4" font-size="7.67" textLength="25.54" lengthAdjust="spacingAndGlyphs">0.9455</text></g><g fill="#000"><text x="571.19" y="174.5" font-size="12.18" font-style="italic" textLength="7.36" lengthAdjust="spacingAndGlyphs">p</text><text x="582.24" y="174.5" font-size="12.18" textLength="4.53" lengthAdjust="spacingAndGlyphs">(</text><text x="586.76" y="174.5" font-size="12.18" textLength="9.72" lengthAdjust="spacingAndGlyphs">−</text><text x="596.48" y="174.5" font-size="12.18" textLength="17.68" lengthAdjust="spacingAndGlyphs">log</text><text x="614.17" y="176.82" font-size="8.53" textLength="10.33" lengthAdjust="spacingAndGlyphs">10</text><text x="628.19" y="174.5" font-size="12.18" textLength="4.53" lengthAdjust="spacingAndGlyphs">)</text></g><g transform="rotate(-90 503.1 84.58)" fill="#000"><text x="471.54" y="84.58" font-size="12.5" font-style="italic" textLength="7.55" lengthAdjust="spacingAndGlyphs">p̃</text><text x="482.88" y="84.58" font-size="12.5" textLength="4.64" lengthAdjust="spacingAndGlyphs">(</text><text x="487.52" y="84.58" font-size="12.5" textLength="9.97" lengthAdjust="spacingAndGlyphs">−</text><text x="497.49" y="84.58" font-size="12.5" textLength="18.14" lengthAdjust="spacingAndGlyphs">log</text><text x="515.63" y="86.95" font-size="8.75" textLength="10.6" lengthAdjust="spacingAndGlyphs">10</text><text x="530.02" y="84.58" font-size="12.5" textLength="4.64" lengthAdjust="spacingAndGlyphs">)</text></g><clipPath id="cc1"><rect x="69.6" y="206.5" width="152" height="123.9"/></clipPath><clipPath id="cc2"><rect x="299.4" y="205" width="150.6" height="122.5"/></clipPath><clipPath id="cc3"><rect x="528.4" y="208.8" width="145" height="116.6"/></clipPath><g clip-path="url(#cc1)"><polyline points="76.51,324.79 122.57,322.97 168.63,277.45 214.69,215.37" fill="none" stroke="#008000" stroke-width="1.35" stroke-dasharray="4.6 2.0"/><path d="M76.51 324.01V325.57M74.21 324.01h4.6M74.21 325.57h4.6M122.57 321.92V324.01M120.27 321.92h4.6M120.27 324.01h4.6M168.63 275.88V279.01M166.33 275.88h4.6M166.33 279.01h4.6M214.69 214.06V216.67M212.39 214.06h4.6M212.39 216.67h4.6" stroke="#008000" stroke-width="1.2" fill="none"/><circle cx="76.51" cy="324.79" r="1.1" fill="#008000"/><circle cx="122.57" cy="322.97" r="1.1" fill="#008000"/><circle cx="168.63" cy="277.45" r="1.1" fill="#008000"/><circle cx="214.69" cy="215.37" r="1.1" fill="#008000"/><polyline points="76.51,324.53 122.57,322.84 168.63,274.71 214.69,213.28" fill="none" stroke="#0000ff" stroke-width="1.65" stroke-dasharray="1.6 1.7"/><path d="M76.51 323.75V324.53M122.57 321.79V322.84M168.63 270.15V274.71M214.69 211.98V213.28" stroke="#0000ff" stroke-width="1.7" fill="none"/><circle cx="76.51" cy="324.53" r="1.6" fill="#0000ff"/><circle cx="122.57" cy="322.84" r="1.6" fill="#0000ff"/><circle cx="168.63" cy="274.71" r="1.6" fill="#0000ff"/><circle cx="214.69" cy="213.28" r="1.6" fill="#0000ff"/></g><g clip-path="url(#cc2)"><polyline points="306.25,316.93 374.7,272.83 443.15,206.29" fill="none" stroke="#008000" stroke-width="1.35" stroke-dasharray="4.6 2.0"/><path d="M306.25 315.89V317.96M303.95 315.89h4.6M303.95 317.96h4.6M374.7 270.51V275.15M372.4 270.51h4.6M372.4 275.15h4.6M443.15 205V207.58M440.85 205h4.6M440.85 207.58h4.6" stroke="#008000" stroke-width="1.2" fill="none"/><circle cx="306.25" cy="316.93" r="1.1" fill="#008000"/><circle cx="374.7" cy="272.83" r="1.1" fill="#008000"/><circle cx="443.15" cy="206.29" r="1.1" fill="#008000"/><polyline points="306.25,316.54 374.7,271.02 443.15,204.36" fill="none" stroke="#0000ff" stroke-width="1.65" stroke-dasharray="1.6 1.7"/><path d="M306.25 315.51V316.54M374.7 266.25V271.02M443.15 203.07V204.36" stroke="#0000ff" stroke-width="1.7" fill="none"/><circle cx="306.25" cy="316.54" r="1.6" fill="#0000ff"/><circle cx="374.7" cy="271.02" r="1.6" fill="#0000ff"/><circle cx="443.15" cy="204.36" r="1.6" fill="#0000ff"/></g><g clip-path="url(#cc3)"><polyline points="534.99,279.74 556.96,274.46 593.58,273.48 666.81,272.13" fill="none" stroke="#008000" stroke-width="1.35" stroke-dasharray="4.6 2.0"/><path d="M534.99 277.04V282.44M532.69 277.04h4.6M532.69 282.44h4.6M556.96 272.25V276.67M554.66 272.25h4.6M554.66 276.67h4.6M593.58 271.03V275.94M591.28 271.03h4.6M591.28 275.94h4.6M666.81 269.92V274.34M664.51 269.92h4.6M664.51 274.34h4.6" stroke="#008000" stroke-width="1.2" fill="none"/><circle cx="534.99" cy="279.74" r="1.1" fill="#008000"/><circle cx="556.96" cy="274.46" r="1.1" fill="#008000"/><circle cx="593.58" cy="273.48" r="1.1" fill="#008000"/><circle cx="666.81" cy="272.13" r="1.1" fill="#008000"/><polyline points="534.99,271.4 556.96,271.4 593.58,271.4 666.81,271.4" fill="none" stroke="#0000ff" stroke-width="1.65" stroke-dasharray="1.6 1.7"/><path d="M534.99 267.22V271.4M556.96 266.98V271.4M593.58 267.22V271.4M666.81 267.22V271.4" stroke="#0000ff" stroke-width="1.7" fill="none"/><circle cx="534.99" cy="271.4" r="1.6" fill="#0000ff"/><circle cx="556.96" cy="271.4" r="1.6" fill="#0000ff"/><circle cx="593.58" cy="271.4" r="1.6" fill="#0000ff"/><circle cx="666.81" cy="271.4" r="1.6" fill="#0000ff"/></g><rect x="69.6" y="206.5" width="152" height="123.9" fill="none" stroke="#8e8e8e" stroke-width="1"/><g fill="#000"><text x="48.03" y="334.9" font-size="11.87" textLength="17.97" lengthAdjust="spacingAndGlyphs">0.0</text></g><g fill="#000"><text x="48.03" y="308.82" font-size="11.87" textLength="17.97" lengthAdjust="spacingAndGlyphs">0.2</text></g><g fill="#000"><text x="48.03" y="282.73" font-size="11.87" textLength="17.97" lengthAdjust="spacingAndGlyphs">0.4</text></g><g fill="#000"><text x="48.03" y="256.65" font-size="11.87" textLength="17.97" lengthAdjust="spacingAndGlyphs">0.6</text></g><g fill="#000"><text x="48.03" y="230.56" font-size="11.87" textLength="17.97" lengthAdjust="spacingAndGlyphs">0.8</text></g><path d="M69.6 330.4h-2.0M69.6 304.32h-2.0M69.6 278.23h-2.0M69.6 252.15h-2.0M69.6 226.06h-2.0" stroke="#8e8e8e" stroke-width="1" fill="none"/><rect x="299.4" y="205" width="150.6" height="122.5" fill="none" stroke="#8e8e8e" stroke-width="1"/><g fill="#000"><text x="277.83" y="332" font-size="11.87" textLength="17.97" lengthAdjust="spacingAndGlyphs">0.0</text></g><g fill="#000"><text x="277.83" y="306.21" font-size="11.87" textLength="17.97" lengthAdjust="spacingAndGlyphs">0.2</text></g><g fill="#000"><text x="277.83" y="280.42" font-size="11.87" textLength="17.97" lengthAdjust="spacingAndGlyphs">0.4</text></g><g fill="#000"><text x="277.83" y="254.63" font-size="11.87" textLength="17.97" lengthAdjust="spacingAndGlyphs">0.6</text></g><g fill="#000"><text x="277.83" y="228.84" font-size="11.87" textLength="17.97" lengthAdjust="spacingAndGlyphs">0.8</text></g><path d="M299.4 327.5h-2.0M299.4 301.71h-2.0M299.4 275.92h-2.0M299.4 250.13h-2.0M299.4 224.34h-2.0" stroke="#8e8e8e" stroke-width="1" fill="none"/><rect x="528.4" y="208.8" width="145" height="116.6" fill="none" stroke="#8e8e8e" stroke-width="1"/><g fill="#000"><text x="507.63" y="329.9" font-size="11.87" textLength="17.97" lengthAdjust="spacingAndGlyphs">0.0</text></g><g fill="#000"><text x="507.63" y="305.35" font-size="11.87" textLength="17.97" lengthAdjust="spacingAndGlyphs">0.2</text></g><g fill="#000"><text x="507.63" y="280.81" font-size="11.87" textLength="17.97" lengthAdjust="spacingAndGlyphs">0.4</text></g><g fill="#000"><text x="507.63" y="256.26" font-size="11.87" textLength="17.97" lengthAdjust="spacingAndGlyphs">0.6</text></g><g fill="#000"><text x="507.63" y="231.71" font-size="11.87" textLength="17.97" lengthAdjust="spacingAndGlyphs">0.8</text></g><path d="M528.4 325.4h-2.0M528.4 300.85h-2.0M528.4 276.31h-2.0M528.4 251.76h-2.0M528.4 227.21h-2.0" stroke="#8e8e8e" stroke-width="1" fill="none"/><g fill="#000"><text x="60.33" y="342.2" font-size="11.87" textLength="32.35" lengthAdjust="spacingAndGlyphs">0.001</text></g><g fill="#000"><text x="109.99" y="342.2" font-size="11.87" textLength="25.16" lengthAdjust="spacingAndGlyphs">0.01</text></g><g fill="#000"><text x="159.64" y="342.2" font-size="11.87" textLength="17.97" lengthAdjust="spacingAndGlyphs">0.1</text></g><g fill="#000"><text x="211.1" y="342.2" font-size="11.87" textLength="7.19" lengthAdjust="spacingAndGlyphs">1</text></g><path d="M76.51 330.4v2.0M122.57 330.4v2.0M168.63 330.4v2.0M214.69 330.4v2.0" stroke="#8e8e8e" stroke-width="1" fill="none"/><g fill="#000"><text x="290.07" y="338.6" font-size="11.87" textLength="32.35" lengthAdjust="spacingAndGlyphs">0.005</text></g><g fill="#000"><text x="362.12" y="338.6" font-size="11.87" textLength="25.16" lengthAdjust="spacingAndGlyphs">0.05</text></g><g fill="#000"><text x="434.17" y="338.6" font-size="11.87" textLength="17.97" lengthAdjust="spacingAndGlyphs">0.5</text></g><path d="M306.25 327.5v2.0M374.7 327.5v2.0M443.15 327.5v2.0" stroke="#8e8e8e" stroke-width="1" fill="none"/><g fill="#000"><text x="527.8" y="336.8" font-size="11.87" textLength="14.38" lengthAdjust="spacingAndGlyphs">10</text></g><g fill="#000"><text x="549.77" y="336.8" font-size="11.87" textLength="14.38" lengthAdjust="spacingAndGlyphs">25</text></g><g fill="#000"><text x="586.39" y="336.8" font-size="11.87" textLength="14.38" lengthAdjust="spacingAndGlyphs">50</text></g><g fill="#000"><text x="656.02" y="336.8" font-size="11.87" textLength="21.57" lengthAdjust="spacingAndGlyphs">100</text></g><path d="M534.99 325.4v2.0M556.96 325.4v2.0M593.58 325.4v2.0M666.81 325.4v2.0" stroke="#8e8e8e" stroke-width="1" fill="none"/><rect x="75" y="213" width="111.4" height="36" rx="2" fill="#fff" fill-opacity="0.88" stroke="#e0e0e0" stroke-width="0.8"/><path d="M79.2 221.6H102.4" stroke="#008000" stroke-width="1.35" stroke-dasharray="4.6 2.0" fill="none"/><path d="M90.8 215.6v12M88.4 215.6h4.8M88.4 227.6h4.8" stroke="#008000" stroke-width="1.3" fill="none"/><circle cx="90.8" cy="221.6" r="1.1" fill="#008000"/><path d="M79.2 238.2H102.4" stroke="#0000ff" stroke-width="1.35" stroke-dasharray="1.6 1.7" fill="none"/><path d="M90.8 232.6v11.2" stroke="#0000ff" stroke-width="1.8" fill="none"/><circle cx="90.8" cy="238.2" r="1.6" fill="#0000ff"/><g fill="#000"><text x="111.8" y="225.6" font-size="11.87" textLength="51.72" lengthAdjust="spacingAndGlyphs">FastKAST</text></g><g fill="#000"><text x="111.8" y="242.3" font-size="11.87" textLength="70.49" lengthAdjust="spacingAndGlyphs">Exact Kernel</text></g><rect x="333.6" y="210.4" width="110.8" height="36" rx="2" fill="#fff" fill-opacity="0.88" stroke="#e0e0e0" stroke-width="0.8"/><path d="M337.8 219.4H361" stroke="#008000" stroke-width="1.35" stroke-dasharray="4.6 2.0" fill="none"/><path d="M349.4 213.4v12M347 213.4h4.8M347 225.4h4.8" stroke="#008000" stroke-width="1.3" fill="none"/><circle cx="349.4" cy="219.4" r="1.1" fill="#008000"/><path d="M337.8 236H361" stroke="#0000ff" stroke-width="1.35" stroke-dasharray="1.6 1.7" fill="none"/><path d="M349.4 230.4v11.2" stroke="#0000ff" stroke-width="1.8" fill="none"/><circle cx="349.4" cy="236" r="1.6" fill="#0000ff"/><g fill="#000"><text x="368.9" y="223.6" font-size="11.87" textLength="51.72" lengthAdjust="spacingAndGlyphs">FastKAST</text></g><g fill="#000"><text x="368.9" y="240" font-size="11.87" textLength="70.49" lengthAdjust="spacingAndGlyphs">Exact Kernel</text></g><rect x="561.4" y="214.4" width="106.6" height="34" rx="2" fill="#fff" fill-opacity="0.88" stroke="#e0e0e0" stroke-width="0.8"/><path d="M565.6 222.4H588" stroke="#008000" stroke-width="1.35" stroke-dasharray="4.6 2.0" fill="none"/><path d="M576.8 216.4v12M574.4 216.4h4.8M574.4 228.4h4.8" stroke="#008000" stroke-width="1.3" fill="none"/><circle cx="576.8" cy="222.4" r="1.1" fill="#008000"/><path d="M565.6 238.4H588" stroke="#0000ff" stroke-width="1.35" stroke-dasharray="1.6 1.7" fill="none"/><path d="M576.8 232.8v11.2" stroke="#0000ff" stroke-width="1.8" fill="none"/><circle cx="576.8" cy="238.4" r="1.6" fill="#0000ff"/><g fill="#000"><text x="595.8" y="226" font-size="11.55" textLength="50.35" lengthAdjust="spacingAndGlyphs">FastKAST</text></g><g fill="#000"><text x="595.8" y="242" font-size="11.55" textLength="68.62" lengthAdjust="spacingAndGlyphs">Exact Kernel</text></g><g transform="rotate(-90 44 268.45)" fill="#000"><text x="23.89" y="268.45" font-size="13.97" textLength="40.21" lengthAdjust="spacingAndGlyphs">Power</text></g><g transform="rotate(-90 274 266.25)" fill="#000"><text x="253.89" y="266.25" font-size="13.97" textLength="40.21" lengthAdjust="spacingAndGlyphs">Power</text></g><g transform="rotate(-90 504 267.1)" fill="#000"><text x="483.89" y="267.1" font-size="13.97" textLength="40.21" lengthAdjust="spacingAndGlyphs">Power</text></g><g fill="#000"><text x="142.06" y="354.5" font-size="13.97" font-style="italic" textLength="7.87" lengthAdjust="spacingAndGlyphs">γ</text></g><g fill="#000"><text x="367.32" y="354.7" font-size="13.97" font-style="italic" textLength="8.43" lengthAdjust="spacingAndGlyphs">σ</text><text x="375.75" y="358.02" font-size="9.78" font-style="italic" textLength="5.91" lengthAdjust="spacingAndGlyphs">g</text><text x="375.75" y="348.05" font-size="9.78" textLength="5.92" lengthAdjust="spacingAndGlyphs">2</text></g><g fill="#000"><text x="508.51" y="351" font-size="13.76" textLength="169.37" lengthAdjust="spacingAndGlyphs">Approximation Dimension</text></g><g fill="#000"><text x="114.13" y="200" font-size="13.65" font-style="italic" textLength="8.24" lengthAdjust="spacingAndGlyphs">σ</text><text x="122.37" y="203.25" font-size="9.55" font-style="italic" textLength="5.78" lengthAdjust="spacingAndGlyphs">g</text><text x="122.37" y="194.15" font-size="9.55" textLength="5.79" lengthAdjust="spacingAndGlyphs">2</text><text x="132.3" y="200" font-size="13.65" textLength="10.89" lengthAdjust="spacingAndGlyphs">=</text><text x="147.32" y="200" font-size="13.65" textLength="28.95" lengthAdjust="spacingAndGlyphs">0.05</text></g><g fill="#000"><text x="350.74" y="201" font-size="13.65" font-style="italic" textLength="7.69" lengthAdjust="spacingAndGlyphs">γ</text><text x="362.56" y="201" font-size="13.65" textLength="10.89" lengthAdjust="spacingAndGlyphs">=</text><text x="377.59" y="201" font-size="13.65" textLength="20.67" lengthAdjust="spacingAndGlyphs">0.1</text></g><g fill="#000"><text x="543.45" y="202.5" font-size="13.23" font-style="italic" textLength="7.99" lengthAdjust="spacingAndGlyphs">σ</text><text x="551.44" y="205.65" font-size="9.26" font-style="italic" textLength="5.6" lengthAdjust="spacingAndGlyphs">g</text><text x="551.44" y="196.83" font-size="9.26" textLength="5.61" lengthAdjust="spacingAndGlyphs">2</text><text x="561.06" y="202.5" font-size="13.23" textLength="10.56" lengthAdjust="spacingAndGlyphs">=</text><text x="575.62" y="202.5" font-size="13.23" textLength="32.06" lengthAdjust="spacingAndGlyphs">0.05,</text><text x="611.68" y="202.5" font-size="13.23" font-style="italic" textLength="7.46" lengthAdjust="spacingAndGlyphs">γ</text><text x="623.15" y="202.5" font-size="13.23" textLength="10.56" lengthAdjust="spacingAndGlyphs">=</text><text x="637.71" y="202.5" font-size="13.23" textLength="20.04" lengthAdjust="spacingAndGlyphs">0.1</text></g><clipPath id="cd"><rect x="256.4" y="387.2" width="237.2" height="115.2"/></clipPath><g clip-path="url(#cd)"><path d="M266.6 463.03L383.37 383.52" stroke="#0000ff" stroke-width="1.3" stroke-dasharray="4.6 2.0" fill="none"/><path d="M266.6 501.07L483 453.99" stroke="#008000" stroke-width="1.3" stroke-dasharray="4.6 2.0" fill="none"/><circle cx="266.6" cy="462.77" r="2.3" fill="#0000ff"/><circle cx="285.65" cy="449.73" r="2.3" fill="#0000ff"/><circle cx="299.17" cy="440.42" r="2.3" fill="#0000ff"/><circle cx="309.66" cy="434.57" r="2.3" fill="#0000ff"/><circle cx="318.22" cy="427.92" r="2.3" fill="#0000ff"/><circle cx="331.74" cy="419.94" r="2.3" fill="#0000ff"/><circle cx="350.8" cy="402.92" r="2.3" fill="#0000ff"/><circle cx="364.31" cy="397.6" r="2.3" fill="#0000ff"/><circle cx="266.6" cy="498.41" r="2.3" fill="#008000"/><circle cx="285.65" cy="496.02" r="2.3" fill="#008000"/><circle cx="299.17" cy="488.57" r="2.3" fill="#008000"/><circle cx="309.66" cy="493.09" r="2.3" fill="#008000"/><circle cx="318.22" cy="491.49" r="2.3" fill="#008000"/><circle cx="331.74" cy="490.43" r="2.3" fill="#008000"/><circle cx="342.23" cy="486.97" r="2.3" fill="#008000"/><circle cx="350.8" cy="486.44" r="2.3" fill="#008000"/><circle cx="364.31" cy="484.05" r="2.3" fill="#008000"/><circle cx="374.8" cy="476.07" r="2.3" fill="#008000"/><circle cx="374.8" cy="477.4" r="2.3" fill="#008000"/><circle cx="393.85" cy="474.47" r="2.3" fill="#008000"/><circle cx="407.37" cy="471.01" r="2.3" fill="#008000"/><circle cx="439.94" cy="460.9" r="2.3" fill="#008000"/><circle cx="459" cy="459.57" r="2.3" fill="#008000"/><circle cx="472.51" cy="456.38" r="2.3" fill="#008000"/><circle cx="483" cy="453.99" r="2.3" fill="#008000"/></g><rect x="256.4" y="387.2" width="237.2" height="115.2" fill="none" stroke="#8e8e8e" stroke-width="1"/><g fill="#000"><text x="263.36" y="513.8" font-size="10.71" textLength="6.49" lengthAdjust="spacingAndGlyphs">5</text></g><g fill="#000"><text x="292.68" y="513.8" font-size="10.71" textLength="12.98" lengthAdjust="spacingAndGlyphs">10</text></g><g fill="#000"><text x="397.64" y="513.8" font-size="10.71" textLength="19.47" lengthAdjust="spacingAndGlyphs">100</text></g><g fill="#000"><text x="473.27" y="513.8" font-size="10.71" textLength="19.47" lengthAdjust="spacingAndGlyphs">500</text></g><path d="M266.6 502.4v2.0M299.17 502.4v2.0M407.37 502.4v2.0M483 502.4v2.0" stroke="#8e8e8e" stroke-width="1" fill="none"/><g fill="#000"><text x="236.38" y="506.1" font-size="10.71" textLength="16.22" lengthAdjust="spacingAndGlyphs">0.0</text></g><g fill="#000"><text x="236.38" y="492.8" font-size="10.71" textLength="16.22" lengthAdjust="spacingAndGlyphs">0.5</text></g><g fill="#000"><text x="236.38" y="479.5" font-size="10.71" textLength="16.22" lengthAdjust="spacingAndGlyphs">1.0</text></g><g fill="#000"><text x="236.38" y="466.2" font-size="10.71" textLength="16.22" lengthAdjust="spacingAndGlyphs">1.5</text></g><g fill="#000"><text x="236.38" y="452.9" font-size="10.71" textLength="16.22" lengthAdjust="spacingAndGlyphs">2.0</text></g><g fill="#000"><text x="236.38" y="439.6" font-size="10.71" textLength="16.22" lengthAdjust="spacingAndGlyphs">2.5</text></g><g fill="#000"><text x="236.38" y="426.3" font-size="10.71" textLength="16.22" lengthAdjust="spacingAndGlyphs">3.0</text></g><g fill="#000"><text x="236.38" y="413" font-size="10.71" textLength="16.22" lengthAdjust="spacingAndGlyphs">3.5</text></g><g fill="#000"><text x="236.38" y="399.7" font-size="10.71" textLength="16.22" lengthAdjust="spacingAndGlyphs">4.0</text></g><path d="M256.4 502.4h-2.0M256.4 489.1h-2.0M256.4 475.8h-2.0M256.4 462.5h-2.0M256.4 449.2h-2.0M256.4 435.9h-2.0M256.4 422.6h-2.0M256.4 409.3h-2.0M256.4 396h-2.0" stroke="#8e8e8e" stroke-width="1" fill="none"/><g fill="#000"><text x="329.22" y="384.4" font-size="13.02" textLength="91.17" lengthAdjust="spacingAndGlyphs">D=50M, M=30</text></g><g fill="#000"><text x="322.74" y="527" font-size="13.02" textLength="104.12" lengthAdjust="spacingAndGlyphs">Sample size (1K)</text></g><g transform="rotate(-90 231.8 442.6)" fill="#000"><text x="181.66" y="442.6" font-size="13.65" textLength="63.82" lengthAdjust="spacingAndGlyphs">Seconds (</text><text x="245.48" y="442.6" font-size="13.65" font-style="italic" textLength="19.82" lengthAdjust="spacingAndGlyphs">log</text><text x="265.29" y="445.2" font-size="9.55" textLength="11.58" lengthAdjust="spacingAndGlyphs">10</text><text x="276.87" y="442.6" font-size="13.65" textLength="5.07" lengthAdjust="spacingAndGlyphs">)</text></g><rect x="405.6" y="391" width="84" height="27.4" rx="1.8" fill="#fff" fill-opacity="0.8" stroke="#e0e0e0" stroke-width="0.8"/><path d="M409 398H426" stroke="#0000ff" stroke-width="1.15" stroke-dasharray="4.6 2.0" fill="none"/><path d="M409 411H426" stroke="#008000" stroke-width="1.15" stroke-dasharray="4.6 2.0" fill="none"/><g fill="#000"><text x="433.3" y="401.4" font-size="8.93" textLength="53.02" lengthAdjust="spacingAndGlyphs">Exact Kernel</text></g><g fill="#000"><text x="433.3" y="413.9" font-size="8.93" textLength="38.91" lengthAdjust="spacingAndGlyphs">FastKAST</text></g>
</svg></body></html>
